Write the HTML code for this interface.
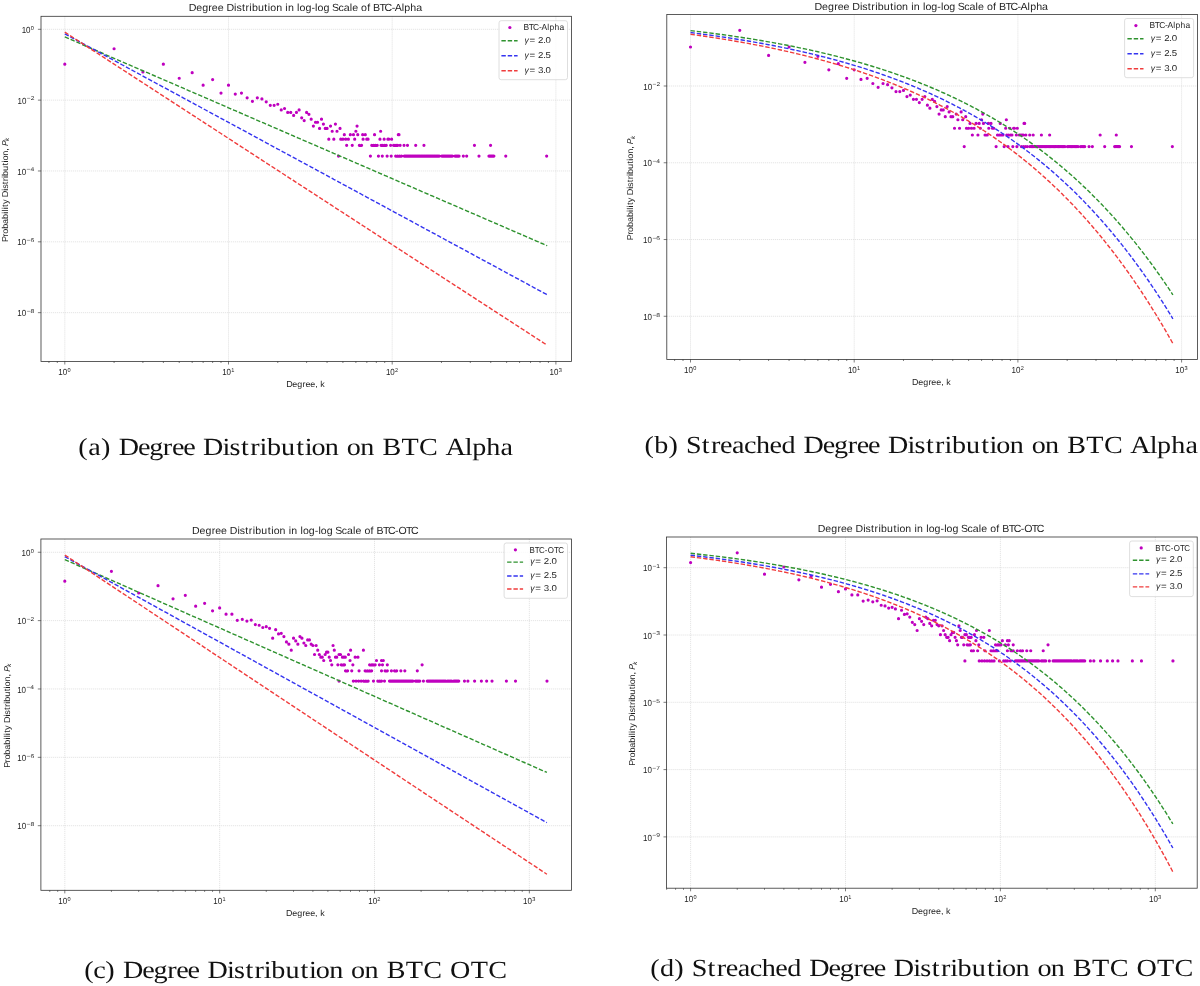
<!DOCTYPE html>
<html><head><meta charset="utf-8"><title>Degree Distribution Figures</title>
<style>html,body{margin:0;padding:0;background:#fff;}body{width:1200px;height:986px;overflow:hidden;}svg{display:block;will-change:transform;}</style>
</head><body>
<svg width="1200" height="986" viewBox="0 0 1200 986" text-rendering="geometricPrecision">
<rect width="1200" height="986" fill="#fff"/>
<clipPath id="clipa"><rect x="41" y="16.3" width="530.5" height="345.1"/></clipPath>
<path d="M64.8 16.3V361.4M228.5 16.3V361.4M392.2 16.3V361.4M555.9 16.3V361.4M41 29.3H571.5M41 100.14H571.5M41 170.98H571.5M41 241.82H571.5M41 312.66H571.5" stroke="#d6d6d6" stroke-width="0.64" stroke-dasharray="1.2 0.8" fill="none"/>
<g clip-path="url(#clipa)"><path d="M63.2 64.13a1.6 1.6 0 1 0 3.2 0a1.6 1.6 0 1 0 -3.2 0M112.48 48.77a1.6 1.6 0 1 0 3.2 0a1.6 1.6 0 1 0 -3.2 0M141.3 71.91a1.6 1.6 0 1 0 3.2 0a1.6 1.6 0 1 0 -3.2 0M161.76 64.13a1.6 1.6 0 1 0 3.2 0a1.6 1.6 0 1 0 -3.2 0M177.62 78.25a1.6 1.6 0 1 0 3.2 0a1.6 1.6 0 1 0 -3.2 0M190.58 72.71a1.6 1.6 0 1 0 3.2 0a1.6 1.6 0 1 0 -3.2 0M201.54 85.19a1.6 1.6 0 1 0 3.2 0a1.6 1.6 0 1 0 -3.2 0M211.04 79.58a1.6 1.6 0 1 0 3.2 0a1.6 1.6 0 1 0 -3.2 0M219.41 93.04a1.6 1.6 0 1 0 3.2 0a1.6 1.6 0 1 0 -3.2 0M226.9 85.19a1.6 1.6 0 1 0 3.2 0a1.6 1.6 0 1 0 -3.2 0M233.68 94.11a1.6 1.6 0 1 0 3.2 0a1.6 1.6 0 1 0 -3.2 0M239.86 93.04a1.6 1.6 0 1 0 3.2 0a1.6 1.6 0 1 0 -3.2 0M245.55 97.82a1.6 1.6 0 1 0 3.2 0a1.6 1.6 0 1 0 -3.2 0M250.82 101.34a1.6 1.6 0 1 0 3.2 0a1.6 1.6 0 1 0 -3.2 0M255.73 97.82a1.6 1.6 0 1 0 3.2 0a1.6 1.6 0 1 0 -3.2 0M260.31 98.9a1.6 1.6 0 1 0 3.2 0a1.6 1.6 0 1 0 -3.2 0M264.62 101.78a1.6 1.6 0 1 0 3.2 0a1.6 1.6 0 1 0 -3.2 0M268.69 105.33a1.6 1.6 0 1 0 3.2 0a1.6 1.6 0 1 0 -3.2 0M272.53 105.33a1.6 1.6 0 1 0 3.2 0a1.6 1.6 0 1 0 -3.2 0M276.18 104.23a1.6 1.6 0 1 0 3.2 0a1.6 1.6 0 1 0 -3.2 0M279.65 109.94a1.6 1.6 0 1 0 3.2 0a1.6 1.6 0 1 0 -3.2 0M282.95 108.48a1.6 1.6 0 1 0 3.2 0a1.6 1.6 0 1 0 -3.2 0M286.11 112.44a1.6 1.6 0 1 0 3.2 0a1.6 1.6 0 1 0 -3.2 0M289.14 112.44a1.6 1.6 0 1 0 3.2 0a1.6 1.6 0 1 0 -3.2 0M292.04 115.43a1.6 1.6 0 1 0 3.2 0a1.6 1.6 0 1 0 -3.2 0M294.83 112.44a1.6 1.6 0 1 0 3.2 0a1.6 1.6 0 1 0 -3.2 0M297.51 109.94a1.6 1.6 0 1 0 3.2 0a1.6 1.6 0 1 0 -3.2 0M300.1 117.8a1.6 1.6 0 1 0 3.2 0a1.6 1.6 0 1 0 -3.2 0M302.59 120.61a1.6 1.6 0 1 0 3.2 0a1.6 1.6 0 1 0 -3.2 0M305 112.44a1.6 1.6 0 1 0 3.2 0a1.6 1.6 0 1 0 -3.2 0M307.34 114.37a1.6 1.6 0 1 0 3.2 0a1.6 1.6 0 1 0 -3.2 0M309.59 119.14a1.6 1.6 0 1 0 3.2 0a1.6 1.6 0 1 0 -3.2 0M311.78 126.09a1.6 1.6 0 1 0 3.2 0a1.6 1.6 0 1 0 -3.2 0M313.9 122.23a1.6 1.6 0 1 0 3.2 0a1.6 1.6 0 1 0 -3.2 0M315.96 122.23a1.6 1.6 0 1 0 3.2 0a1.6 1.6 0 1 0 -3.2 0M317.97 128.46a1.6 1.6 0 1 0 3.2 0a1.6 1.6 0 1 0 -3.2 0M319.91 119.14a1.6 1.6 0 1 0 3.2 0a1.6 1.6 0 1 0 -3.2 0M321.81 124.04a1.6 1.6 0 1 0 3.2 0a1.6 1.6 0 1 0 -3.2 0M323.66 128.46a1.6 1.6 0 1 0 3.2 0a1.6 1.6 0 1 0 -3.2 0M325.46 128.46a1.6 1.6 0 1 0 3.2 0a1.6 1.6 0 1 0 -3.2 0M327.21 139.13a1.6 1.6 0 1 0 3.2 0a1.6 1.6 0 1 0 -3.2 0M328.93 126.09a1.6 1.6 0 1 0 3.2 0a1.6 1.6 0 1 0 -3.2 0M330.6 131.27a1.6 1.6 0 1 0 3.2 0a1.6 1.6 0 1 0 -3.2 0M332.23 139.13a1.6 1.6 0 1 0 3.2 0a1.6 1.6 0 1 0 -3.2 0M333.83 124.04a1.6 1.6 0 1 0 3.2 0a1.6 1.6 0 1 0 -3.2 0M335.39 131.27a1.6 1.6 0 1 0 3.2 0a1.6 1.6 0 1 0 -3.2 0M336.92 156.03a1.6 1.6 0 1 0 3.2 0a1.6 1.6 0 1 0 -3.2 0M338.42 128.46a1.6 1.6 0 1 0 3.2 0a1.6 1.6 0 1 0 -3.2 0M339.16 139.13a1.6 1.6 0 1 0 3.2 0a1.6 1.6 0 1 0 -3.2 0M341.32 139.13a1.6 1.6 0 1 0 3.2 0a1.6 1.6 0 1 0 -3.2 0M342.73 134.7a1.6 1.6 0 1 0 3.2 0a1.6 1.6 0 1 0 -3.2 0M344.11 139.13a1.6 1.6 0 1 0 3.2 0a1.6 1.6 0 1 0 -3.2 0M345.06 145.36a1.6 1.6 0 1 0 3.2 0a1.6 1.6 0 1 0 -3.2 0M346.79 139.13a1.6 1.6 0 1 0 3.2 0a1.6 1.6 0 1 0 -3.2 0M348.74 134.7a1.6 1.6 0 1 0 3.2 0a1.6 1.6 0 1 0 -3.2 0M350.64 145.36a1.6 1.6 0 1 0 3.2 0a1.6 1.6 0 1 0 -3.2 0M351.87 134.7a1.6 1.6 0 1 0 3.2 0a1.6 1.6 0 1 0 -3.2 0M353.09 139.13a1.6 1.6 0 1 0 3.2 0a1.6 1.6 0 1 0 -3.2 0M354.28 131.27a1.6 1.6 0 1 0 3.2 0a1.6 1.6 0 1 0 -3.2 0M355.46 126.09a1.6 1.6 0 1 0 3.2 0a1.6 1.6 0 1 0 -3.2 0M356.15 134.7a1.6 1.6 0 1 0 3.2 0a1.6 1.6 0 1 0 -3.2 0M357.75 145.36a1.6 1.6 0 1 0 3.2 0a1.6 1.6 0 1 0 -3.2 0M359.97 145.36a1.6 1.6 0 1 0 3.2 0a1.6 1.6 0 1 0 -3.2 0M361.06 134.7a1.6 1.6 0 1 0 3.2 0a1.6 1.6 0 1 0 -3.2 0M361.49 139.13a1.6 1.6 0 1 0 3.2 0a1.6 1.6 0 1 0 -3.2 0M363.7 134.7a1.6 1.6 0 1 0 3.2 0a1.6 1.6 0 1 0 -3.2 0M365.14 139.13a1.6 1.6 0 1 0 3.2 0a1.6 1.6 0 1 0 -3.2 0M366.45 139.13a1.6 1.6 0 1 0 3.2 0a1.6 1.6 0 1 0 -3.2 0M368.81 156.03a1.6 1.6 0 1 0 3.2 0a1.6 1.6 0 1 0 -3.2 0M370.15 145.36a1.6 1.6 0 1 0 3.2 0a1.6 1.6 0 1 0 -3.2 0M372.02 145.36a1.6 1.6 0 1 0 3.2 0a1.6 1.6 0 1 0 -3.2 0M372.94 134.7a1.6 1.6 0 1 0 3.2 0a1.6 1.6 0 1 0 -3.2 0M373.84 145.36a1.6 1.6 0 1 0 3.2 0a1.6 1.6 0 1 0 -3.2 0M375.62 145.36a1.6 1.6 0 1 0 3.2 0a1.6 1.6 0 1 0 -3.2 0M376.84 156.03a1.6 1.6 0 1 0 3.2 0a1.6 1.6 0 1 0 -3.2 0M378.37 139.13a1.6 1.6 0 1 0 3.2 0a1.6 1.6 0 1 0 -3.2 0M379.05 131.27a1.6 1.6 0 1 0 3.2 0a1.6 1.6 0 1 0 -3.2 0M379.46 145.36a1.6 1.6 0 1 0 3.2 0a1.6 1.6 0 1 0 -3.2 0M380.7 156.03a1.6 1.6 0 1 0 3.2 0a1.6 1.6 0 1 0 -3.2 0M381.11 145.36a1.6 1.6 0 1 0 3.2 0a1.6 1.6 0 1 0 -3.2 0M382.55 139.13a1.6 1.6 0 1 0 3.2 0a1.6 1.6 0 1 0 -3.2 0M383.11 145.36a1.6 1.6 0 1 0 3.2 0a1.6 1.6 0 1 0 -3.2 0M384.67 145.36a1.6 1.6 0 1 0 3.2 0a1.6 1.6 0 1 0 -3.2 0M385.52 156.03a1.6 1.6 0 1 0 3.2 0a1.6 1.6 0 1 0 -3.2 0M386.28 139.13a1.6 1.6 0 1 0 3.2 0a1.6 1.6 0 1 0 -3.2 0M387.1 139.13a1.6 1.6 0 1 0 3.2 0a1.6 1.6 0 1 0 -3.2 0M389.02 145.36a1.6 1.6 0 1 0 3.2 0a1.6 1.6 0 1 0 -3.2 0M389.6 156.03a1.6 1.6 0 1 0 3.2 0a1.6 1.6 0 1 0 -3.2 0M390.03 139.13a1.6 1.6 0 1 0 3.2 0a1.6 1.6 0 1 0 -3.2 0M392.01 145.36a1.6 1.6 0 1 0 3.2 0a1.6 1.6 0 1 0 -3.2 0M393.39 145.36a1.6 1.6 0 1 0 3.2 0a1.6 1.6 0 1 0 -3.2 0M394.74 145.36a1.6 1.6 0 1 0 3.2 0a1.6 1.6 0 1 0 -3.2 0M396.07 145.36a1.6 1.6 0 1 0 3.2 0a1.6 1.6 0 1 0 -3.2 0M396.73 134.7a1.6 1.6 0 1 0 3.2 0a1.6 1.6 0 1 0 -3.2 0M397.38 134.7a1.6 1.6 0 1 0 3.2 0a1.6 1.6 0 1 0 -3.2 0M398.53 145.36a1.6 1.6 0 1 0 3.2 0a1.6 1.6 0 1 0 -3.2 0M402.43 145.36a1.6 1.6 0 1 0 3.2 0a1.6 1.6 0 1 0 -3.2 0M405.89 145.36a1.6 1.6 0 1 0 3.2 0a1.6 1.6 0 1 0 -3.2 0M414.11 145.36a1.6 1.6 0 1 0 3.2 0a1.6 1.6 0 1 0 -3.2 0M422.35 145.36a1.6 1.6 0 1 0 3.2 0a1.6 1.6 0 1 0 -3.2 0M472.85 145.36a1.6 1.6 0 1 0 3.2 0a1.6 1.6 0 1 0 -3.2 0M488.98 145.36a1.6 1.6 0 1 0 3.2 0a1.6 1.6 0 1 0 -3.2 0M394.07 156.03a1.6 1.6 0 1 0 3.2 0a1.6 1.6 0 1 0 -3.2 0M396.07 156.03a1.6 1.6 0 1 0 3.2 0a1.6 1.6 0 1 0 -3.2 0M398.02 156.03a1.6 1.6 0 1 0 3.2 0a1.6 1.6 0 1 0 -3.2 0M399.92 156.03a1.6 1.6 0 1 0 3.2 0a1.6 1.6 0 1 0 -3.2 0M402.67 156.03a1.6 1.6 0 1 0 3.2 0a1.6 1.6 0 1 0 -3.2 0M403.96 156.03a1.6 1.6 0 1 0 3.2 0a1.6 1.6 0 1 0 -3.2 0M405.26 156.03a1.6 1.6 0 1 0 3.2 0a1.6 1.6 0 1 0 -3.2 0M406.55 156.03a1.6 1.6 0 1 0 3.2 0a1.6 1.6 0 1 0 -3.2 0M407.85 156.03a1.6 1.6 0 1 0 3.2 0a1.6 1.6 0 1 0 -3.2 0M409.14 156.03a1.6 1.6 0 1 0 3.2 0a1.6 1.6 0 1 0 -3.2 0M410.44 156.03a1.6 1.6 0 1 0 3.2 0a1.6 1.6 0 1 0 -3.2 0M411.73 156.03a1.6 1.6 0 1 0 3.2 0a1.6 1.6 0 1 0 -3.2 0M413.03 156.03a1.6 1.6 0 1 0 3.2 0a1.6 1.6 0 1 0 -3.2 0M414.33 156.03a1.6 1.6 0 1 0 3.2 0a1.6 1.6 0 1 0 -3.2 0M415.62 156.03a1.6 1.6 0 1 0 3.2 0a1.6 1.6 0 1 0 -3.2 0M416.92 156.03a1.6 1.6 0 1 0 3.2 0a1.6 1.6 0 1 0 -3.2 0M418.21 156.03a1.6 1.6 0 1 0 3.2 0a1.6 1.6 0 1 0 -3.2 0M419.51 156.03a1.6 1.6 0 1 0 3.2 0a1.6 1.6 0 1 0 -3.2 0M420.8 156.03a1.6 1.6 0 1 0 3.2 0a1.6 1.6 0 1 0 -3.2 0M422.1 156.03a1.6 1.6 0 1 0 3.2 0a1.6 1.6 0 1 0 -3.2 0M423.39 156.03a1.6 1.6 0 1 0 3.2 0a1.6 1.6 0 1 0 -3.2 0M424.69 156.03a1.6 1.6 0 1 0 3.2 0a1.6 1.6 0 1 0 -3.2 0M425.98 156.03a1.6 1.6 0 1 0 3.2 0a1.6 1.6 0 1 0 -3.2 0M427.28 156.03a1.6 1.6 0 1 0 3.2 0a1.6 1.6 0 1 0 -3.2 0M428.57 156.03a1.6 1.6 0 1 0 3.2 0a1.6 1.6 0 1 0 -3.2 0M429.87 156.03a1.6 1.6 0 1 0 3.2 0a1.6 1.6 0 1 0 -3.2 0M431.16 156.03a1.6 1.6 0 1 0 3.2 0a1.6 1.6 0 1 0 -3.2 0M432.46 156.03a1.6 1.6 0 1 0 3.2 0a1.6 1.6 0 1 0 -3.2 0M433.75 156.03a1.6 1.6 0 1 0 3.2 0a1.6 1.6 0 1 0 -3.2 0M435.05 156.03a1.6 1.6 0 1 0 3.2 0a1.6 1.6 0 1 0 -3.2 0M436.34 156.03a1.6 1.6 0 1 0 3.2 0a1.6 1.6 0 1 0 -3.2 0M437.64 156.03a1.6 1.6 0 1 0 3.2 0a1.6 1.6 0 1 0 -3.2 0M440.23 156.03a1.6 1.6 0 1 0 3.2 0a1.6 1.6 0 1 0 -3.2 0M441.55 156.03a1.6 1.6 0 1 0 3.2 0a1.6 1.6 0 1 0 -3.2 0M442.86 156.03a1.6 1.6 0 1 0 3.2 0a1.6 1.6 0 1 0 -3.2 0M444.17 156.03a1.6 1.6 0 1 0 3.2 0a1.6 1.6 0 1 0 -3.2 0M445.48 156.03a1.6 1.6 0 1 0 3.2 0a1.6 1.6 0 1 0 -3.2 0M446.8 156.03a1.6 1.6 0 1 0 3.2 0a1.6 1.6 0 1 0 -3.2 0M448.11 156.03a1.6 1.6 0 1 0 3.2 0a1.6 1.6 0 1 0 -3.2 0M449.42 156.03a1.6 1.6 0 1 0 3.2 0a1.6 1.6 0 1 0 -3.2 0M450.74 156.03a1.6 1.6 0 1 0 3.2 0a1.6 1.6 0 1 0 -3.2 0M453.43 156.03a1.6 1.6 0 1 0 3.2 0a1.6 1.6 0 1 0 -3.2 0M454.76 156.03a1.6 1.6 0 1 0 3.2 0a1.6 1.6 0 1 0 -3.2 0M456.1 156.03a1.6 1.6 0 1 0 3.2 0a1.6 1.6 0 1 0 -3.2 0M457.43 156.03a1.6 1.6 0 1 0 3.2 0a1.6 1.6 0 1 0 -3.2 0M461.74 156.03a1.6 1.6 0 1 0 3.2 0a1.6 1.6 0 1 0 -3.2 0M465.06 156.03a1.6 1.6 0 1 0 3.2 0a1.6 1.6 0 1 0 -3.2 0M477.39 156.03a1.6 1.6 0 1 0 3.2 0a1.6 1.6 0 1 0 -3.2 0M487.36 156.03a1.6 1.6 0 1 0 3.2 0a1.6 1.6 0 1 0 -3.2 0M488.59 156.03a1.6 1.6 0 1 0 3.2 0a1.6 1.6 0 1 0 -3.2 0M489.82 156.03a1.6 1.6 0 1 0 3.2 0a1.6 1.6 0 1 0 -3.2 0M491.05 156.03a1.6 1.6 0 1 0 3.2 0a1.6 1.6 0 1 0 -3.2 0M492.29 156.03a1.6 1.6 0 1 0 3.2 0a1.6 1.6 0 1 0 -3.2 0M504.16 156.03a1.6 1.6 0 1 0 3.2 0a1.6 1.6 0 1 0 -3.2 0M545.05 156.03a1.6 1.6 0 1 0 3.2 0a1.6 1.6 0 1 0 -3.2 0" fill="#bf00bf"/><polyline points="64.8,36.96 80.66,43.82 93.63,49.43 104.59,54.17 114.08,58.28 122.45,61.9 129.94,65.15 136.72,68.08 142.9,70.76 148.6,73.22 153.86,75.5 158.77,77.62 163.36,79.61 167.67,81.47 171.73,83.23 175.57,84.89 179.22,86.47 182.69,87.97 186,89.4 189.16,90.77 192.18,92.08 195.09,93.34 197.87,94.54 200.56,95.7 203.14,96.82 205.64,97.9 208.05,98.95 210.38,99.95 212.64,100.93 214.82,101.88 216.95,102.8 219.01,103.69 221.01,104.55 222.96,105.4 224.85,106.22 226.7,107.02 228.5,107.8 230.26,108.56 231.97,109.3 233.64,110.02 235.28,110.73 236.87,111.42 238.44,112.1 239.97,112.76 241.46,113.41 242.93,114.04 244.36,114.66 245.77,115.27 247.15,115.87 248.51,116.45 249.84,117.03 251.14,117.59 252.42,118.15 253.68,118.69 254.92,119.23 256.13,119.75 257.33,120.27 258.5,120.78 259.66,121.28 260.79,121.77 261.91,122.26 263.02,122.73 264.1,123.2 265.17,123.67 266.22,124.12 267.26,124.57 268.29,125.01 269.29,125.45 270.29,125.88 271.27,126.3 272.24,126.72 273.19,127.14 274.13,127.54 275.06,127.95 275.98,128.34 276.88,128.73 277.78,129.12 278.66,129.5 279.53,129.88 280.4,130.25 281.25,130.62 282.09,130.99 282.92,131.35 283.74,131.7 284.55,132.05 285.36,132.4 286.15,132.74 286.94,133.08 287.71,133.42 288.48,133.75 289.24,134.08 290,134.41 290.74,134.73 291.48,135.05 292.21,135.36 292.93,135.68 293.64,135.99 294.35,136.29 295.05,136.6 295.74,136.9 296.43,137.19 297.11,137.49 297.79,137.78 298.45,138.07 299.11,138.35 299.77,138.64 300.42,138.92 301.06,139.2 301.7,139.47 302.33,139.75 302.96,140.02 303.58,140.29 304.19,140.55 304.8,140.82 305.41,141.08 306.01,141.34 306.6,141.6 307.19,141.85 307.78,142.1 308.36,142.35 308.94,142.6 309.51,142.85 310.07,143.1 310.64,143.34 311.19,143.58 311.75,143.82 312.3,144.06 312.84,144.29 313.38,144.53 313.92,144.76 314.45,144.99 314.98,145.22 315.5,145.45 316.02,145.67 316.54,145.9 317.05,146.12 317.56,146.34 318.07,146.56 318.57,146.77 319.07,146.99 319.57,147.2 320.06,147.42 320.55,147.63 321.03,147.84 321.51,148.05 321.99,148.25 322.47,148.46 322.94,148.66 323.41,148.87 323.88,149.07 324.34,149.27 324.8,149.47 325.26,149.67 325.71,149.86 326.16,150.06 326.61,150.25 327.06,150.45 327.5,150.64 327.94,150.83 328.38,151.02 328.81,151.21 329.24,151.39 329.67,151.58 330.1,151.76 330.53,151.95 330.95,152.13 331.37,152.31 331.78,152.49 332.2,152.67 332.61,152.85 333.02,153.03 333.43,153.2 333.83,153.38 334.24,153.55 334.64,153.73 335.03,153.9 335.43,154.07 335.82,154.24 336.22,154.41 336.61,154.58 336.99,154.75 337.38,154.91 337.76,155.08 338.14,155.24 338.52,155.41 338.9,155.57 339.27,155.73 339.65,155.89 340.02,156.06 340.39,156.21 340.76,156.37 341.12,156.53 341.49,156.69 341.85,156.85 342.21,157 342.57,157.16 342.92,157.31 343.95,157.76 344.97,158.2 346,158.64 347.03,159.09 348.05,159.53 349.08,159.98 350.11,160.42 351.13,160.87 352.16,161.31 353.19,161.75 354.21,162.2 355.24,162.64 356.27,163.09 357.29,163.53 358.32,163.97 359.35,164.42 360.37,164.86 361.4,165.31 362.43,165.75 363.45,166.2 364.48,166.64 365.51,167.08 366.53,167.53 367.56,167.97 368.59,168.42 369.61,168.86 370.64,169.31 371.67,169.75 372.69,170.19 373.72,170.64 374.75,171.08 375.77,171.53 376.8,171.97 377.83,172.42 378.85,172.86 379.88,173.3 380.91,173.75 381.93,174.19 382.96,174.64 383.99,175.08 385.01,175.53 386.04,175.97 387.07,176.41 388.09,176.86 389.12,177.3 390.14,177.75 391.17,178.19 392.2,178.64 393.22,179.08 394.25,179.52 395.28,179.97 396.3,180.41 397.33,180.86 398.36,181.3 399.38,181.74 400.41,182.19 401.44,182.63 402.46,183.08 403.49,183.52 404.52,183.97 405.54,184.41 406.57,184.85 407.6,185.3 408.62,185.74 409.65,186.19 410.68,186.63 411.7,187.08 412.73,187.52 413.76,187.96 414.78,188.41 415.81,188.85 416.84,189.3 417.86,189.74 418.89,190.19 419.92,190.63 420.94,191.07 421.97,191.52 423,191.96 424.02,192.41 425.05,192.85 426.08,193.3 427.1,193.74 428.13,194.18 429.16,194.63 430.18,195.07 431.21,195.52 432.24,195.96 433.26,196.41 434.29,196.85 435.32,197.29 436.34,197.74 437.37,198.18 438.4,198.63 439.42,199.07 440.45,199.52 441.47,199.96 442.5,200.4 443.53,200.85 444.55,201.29 445.58,201.74 446.61,202.18 447.63,202.62 448.66,203.07 449.69,203.51 450.71,203.96 451.74,204.4 452.77,204.85 453.79,205.29 454.82,205.73 455.85,206.18 456.87,206.62 457.9,207.07 458.93,207.51 459.95,207.96 460.98,208.4 462.01,208.84 463.03,209.29 464.06,209.73 465.09,210.18 466.11,210.62 467.14,211.07 468.17,211.51 469.19,211.95 470.22,212.4 471.25,212.84 472.27,213.29 473.3,213.73 474.33,214.18 475.35,214.62 476.38,215.06 477.41,215.51 478.43,215.95 479.46,216.4 480.49,216.84 481.51,217.29 482.54,217.73 483.57,218.17 484.59,218.62 485.62,219.06 486.65,219.51 487.67,219.95 488.7,220.39 489.73,220.84 490.75,221.28 491.78,221.73 492.8,222.17 493.83,222.62 494.86,223.06 495.88,223.5 496.91,223.95 497.94,224.39 498.96,224.84 499.99,225.28 501.02,225.73 502.04,226.17 503.07,226.61 504.1,227.06 505.12,227.5 506.15,227.95 507.18,228.39 508.2,228.84 509.23,229.28 510.26,229.72 511.28,230.17 512.31,230.61 513.34,231.06 514.36,231.5 515.39,231.95 516.42,232.39 517.44,232.83 518.47,233.28 519.5,233.72 520.52,234.17 521.55,234.61 522.58,235.06 523.6,235.5 524.63,235.94 525.66,236.39 526.68,236.83 527.71,237.28 528.74,237.72 529.76,238.17 530.79,238.61 531.82,239.05 532.84,239.5 533.87,239.94 534.9,240.39 535.92,240.83 536.95,241.27 537.98,241.72 539,242.16 540.03,242.61 541.06,243.05 542.08,243.5 543.11,243.94 544.13,244.38 545.16,244.83 546.19,245.27 547.21,245.72" fill="none" stroke="#2e922e" stroke-width="1.4" stroke-dasharray="4.41 1.91"/><polyline points="64.8,33.82 80.66,42.4 93.63,49.41 104.59,55.34 114.08,60.48 122.45,65 129.94,69.06 136.72,72.72 142.9,76.07 148.6,79.15 153.86,82 158.77,84.65 163.36,87.13 167.67,89.46 171.73,91.66 175.57,93.74 179.22,95.71 182.69,97.59 186,99.38 189.16,101.09 192.18,102.72 195.09,104.29 197.87,105.8 200.56,107.25 203.14,108.65 205.64,110 208.05,111.31 210.38,112.57 212.64,113.79 214.82,114.97 216.95,116.12 219.01,117.23 221.01,118.32 222.96,119.37 224.85,120.4 226.7,121.4 228.5,122.37 230.26,123.32 231.97,124.25 233.64,125.15 235.28,126.03 236.87,126.9 238.44,127.74 239.97,128.57 241.46,129.38 242.93,130.17 244.36,130.95 245.77,131.71 247.15,132.46 248.51,133.19 249.84,133.91 251.14,134.62 252.42,135.31 253.68,135.99 254.92,136.66 256.13,137.32 257.33,137.96 258.5,138.6 259.66,139.22 260.79,139.84 261.91,140.44 263.02,141.04 264.1,141.63 265.17,142.21 266.22,142.78 267.26,143.34 268.29,143.89 269.29,144.44 270.29,144.97 271.27,145.5 272.24,146.03 273.19,146.54 274.13,147.05 275.06,147.56 275.98,148.05 276.88,148.54 277.78,149.03 278.66,149.5 279.53,149.97 280.4,150.44 281.25,150.9 282.09,151.36 282.92,151.81 283.74,152.25 284.55,152.69 285.36,153.13 286.15,153.55 286.94,153.98 287.71,154.4 288.48,154.82 289.24,155.23 290,155.63 290.74,156.04 291.48,156.44 292.21,156.83 292.93,157.22 293.64,157.61 294.35,157.99 295.05,158.37 295.74,158.74 296.43,159.12 297.11,159.48 297.79,159.85 298.45,160.21 299.11,160.57 299.77,160.92 300.42,161.27 301.06,161.62 301.7,161.96 302.33,162.31 302.96,162.65 303.58,162.98 304.19,163.31 304.8,163.64 305.41,163.97 306.01,164.3 306.6,164.62 307.19,164.94 307.78,165.25 308.36,165.57 308.94,165.88 309.51,166.19 310.07,166.49 310.64,166.8 311.19,167.1 311.75,167.4 312.3,167.7 312.84,167.99 313.38,168.28 313.92,168.57 314.45,168.86 314.98,169.15 315.5,169.43 316.02,169.71 316.54,169.99 317.05,170.27 317.56,170.55 318.07,170.82 318.57,171.09 319.07,171.36 319.57,171.63 320.06,171.9 320.55,172.16 321.03,172.42 321.51,172.68 321.99,172.94 322.47,173.2 322.94,173.46 323.41,173.71 323.88,173.96 324.34,174.21 324.8,174.46 325.26,174.71 325.71,174.95 326.16,175.2 326.61,175.44 327.06,175.68 327.5,175.92 327.94,176.16 328.38,176.4 328.81,176.63 329.24,176.86 329.67,177.1 330.1,177.33 330.53,177.56 330.95,177.79 331.37,178.01 331.78,178.24 332.2,178.46 332.61,178.69 333.02,178.91 333.43,179.13 333.83,179.35 334.24,179.56 334.64,179.78 335.03,180 335.43,180.21 335.82,180.42 336.22,180.64 336.61,180.85 336.99,181.06 337.38,181.26 337.76,181.47 338.14,181.68 338.52,181.88 338.9,182.09 339.27,182.29 339.65,182.49 340.02,182.69 340.39,182.89 340.76,183.09 341.12,183.29 341.49,183.49 341.85,183.68 342.21,183.88 342.57,184.07 342.92,184.26 343.95,184.82 344.97,185.37 346,185.93 347.03,186.48 348.05,187.04 349.08,187.59 350.11,188.15 351.13,188.71 352.16,189.26 353.19,189.82 354.21,190.37 355.24,190.93 356.27,191.48 357.29,192.04 358.32,192.59 359.35,193.15 360.37,193.7 361.4,194.26 362.43,194.81 363.45,195.37 364.48,195.92 365.51,196.48 366.53,197.04 367.56,197.59 368.59,198.15 369.61,198.7 370.64,199.26 371.67,199.81 372.69,200.37 373.72,200.92 374.75,201.48 375.77,202.03 376.8,202.59 377.83,203.14 378.85,203.7 379.88,204.25 380.91,204.81 381.93,205.36 382.96,205.92 383.99,206.48 385.01,207.03 386.04,207.59 387.07,208.14 388.09,208.7 389.12,209.25 390.14,209.81 391.17,210.36 392.2,210.92 393.22,211.47 394.25,212.03 395.28,212.58 396.3,213.14 397.33,213.69 398.36,214.25 399.38,214.81 400.41,215.36 401.44,215.92 402.46,216.47 403.49,217.03 404.52,217.58 405.54,218.14 406.57,218.69 407.6,219.25 408.62,219.8 409.65,220.36 410.68,220.91 411.7,221.47 412.73,222.02 413.76,222.58 414.78,223.14 415.81,223.69 416.84,224.25 417.86,224.8 418.89,225.36 419.92,225.91 420.94,226.47 421.97,227.02 423,227.58 424.02,228.13 425.05,228.69 426.08,229.24 427.1,229.8 428.13,230.35 429.16,230.91 430.18,231.46 431.21,232.02 432.24,232.58 433.26,233.13 434.29,233.69 435.32,234.24 436.34,234.8 437.37,235.35 438.4,235.91 439.42,236.46 440.45,237.02 441.47,237.57 442.5,238.13 443.53,238.68 444.55,239.24 445.58,239.79 446.61,240.35 447.63,240.91 448.66,241.46 449.69,242.02 450.71,242.57 451.74,243.13 452.77,243.68 453.79,244.24 454.82,244.79 455.85,245.35 456.87,245.9 457.9,246.46 458.93,247.01 459.95,247.57 460.98,248.12 462.01,248.68 463.03,249.23 464.06,249.79 465.09,250.35 466.11,250.9 467.14,251.46 468.17,252.01 469.19,252.57 470.22,253.12 471.25,253.68 472.27,254.23 473.3,254.79 474.33,255.34 475.35,255.9 476.38,256.45 477.41,257.01 478.43,257.56 479.46,258.12 480.49,258.68 481.51,259.23 482.54,259.79 483.57,260.34 484.59,260.9 485.62,261.45 486.65,262.01 487.67,262.56 488.7,263.12 489.73,263.67 490.75,264.23 491.78,264.78 492.8,265.34 493.83,265.89 494.86,266.45 495.88,267.01 496.91,267.56 497.94,268.12 498.96,268.67 499.99,269.23 501.02,269.78 502.04,270.34 503.07,270.89 504.1,271.45 505.12,272 506.15,272.56 507.18,273.11 508.2,273.67 509.23,274.22 510.26,274.78 511.28,275.33 512.31,275.89 513.34,276.45 514.36,277 515.39,277.56 516.42,278.11 517.44,278.67 518.47,279.22 519.5,279.78 520.52,280.33 521.55,280.89 522.58,281.44 523.6,282 524.63,282.55 525.66,283.11 526.68,283.66 527.71,284.22 528.74,284.78 529.76,285.33 530.79,285.89 531.82,286.44 532.84,287 533.87,287.55 534.9,288.11 535.92,288.66 536.95,289.22 537.98,289.77 539,290.33 540.03,290.88 541.06,291.44 542.08,291.99 543.11,292.55 544.13,293.1 545.16,293.66 546.19,294.22 547.21,294.77" fill="none" stroke="#3434f0" stroke-width="1.4" stroke-dasharray="4.41 1.91"/><polyline points="64.8,32.13 80.66,42.43 93.63,50.84 104.59,57.96 114.08,64.12 122.45,69.55 129.94,74.42 136.72,78.81 142.9,82.83 148.6,86.52 153.86,89.94 158.77,93.13 163.36,96.11 167.67,98.9 171.73,101.54 175.57,104.04 179.22,106.4 182.69,108.66 186,110.8 189.16,112.85 192.18,114.82 195.09,116.7 197.87,118.51 200.56,120.25 203.14,121.93 205.64,123.55 208.05,125.11 210.38,126.63 212.64,128.09 214.82,129.51 216.95,130.89 219.01,132.23 221.01,133.53 222.96,134.79 224.85,136.02 226.7,137.22 228.5,138.39 230.26,139.53 231.97,140.64 233.64,141.73 235.28,142.79 236.87,143.83 238.44,144.84 239.97,145.83 241.46,146.8 242.93,147.76 244.36,148.69 245.77,149.6 247.15,150.5 248.51,151.38 249.84,152.24 251.14,153.09 252.42,153.92 253.68,154.74 254.92,155.54 256.13,156.33 257.33,157.1 258.5,157.87 259.66,158.62 260.79,159.35 261.91,160.08 263.02,160.8 264.1,161.5 265.17,162.19 266.22,162.88 267.26,163.55 268.29,164.22 269.29,164.87 270.29,165.52 271.27,166.15 272.24,166.78 273.19,167.4 274.13,168.01 275.06,168.61 275.98,169.21 276.88,169.8 277.78,170.38 278.66,170.95 279.53,171.52 280.4,172.08 281.25,172.63 282.09,173.18 282.92,173.72 283.74,174.25 284.55,174.78 285.36,175.3 286.15,175.81 286.94,176.32 287.71,176.83 288.48,177.33 289.24,177.82 290,178.31 290.74,178.79 291.48,179.27 292.21,179.74 292.93,180.21 293.64,180.68 294.35,181.14 295.05,181.59 295.74,182.04 296.43,182.49 297.11,182.93 297.79,183.37 298.45,183.8 299.11,184.23 299.77,184.65 300.42,185.07 301.06,185.49 301.7,185.91 302.33,186.32 302.96,186.72 303.58,187.13 304.19,187.53 304.8,187.92 305.41,188.31 306.01,188.7 306.6,189.09 307.19,189.47 307.78,189.85 308.36,190.23 308.94,190.6 309.51,190.97 310.07,191.34 310.64,191.71 311.19,192.07 311.75,192.43 312.3,192.78 312.84,193.14 313.38,193.49 313.92,193.84 314.45,194.18 314.98,194.53 315.5,194.87 316.02,195.2 316.54,195.54 317.05,195.87 317.56,196.2 318.07,196.53 318.57,196.86 319.07,197.18 319.57,197.5 320.06,197.82 320.55,198.14 321.03,198.46 321.51,198.77 321.99,199.08 322.47,199.39 322.94,199.69 323.41,200 323.88,200.3 324.34,200.6 324.8,200.9 325.26,201.2 325.71,201.49 326.16,201.79 326.61,202.08 327.06,202.37 327.5,202.65 327.94,202.94 328.38,203.22 328.81,203.51 329.24,203.79 329.67,204.06 330.1,204.34 330.53,204.62 330.95,204.89 331.37,205.16 331.78,205.43 332.2,205.7 332.61,205.97 333.02,206.24 333.43,206.5 333.83,206.76 334.24,207.03 334.64,207.29 335.03,207.54 335.43,207.8 335.82,208.06 336.22,208.31 336.61,208.56 336.99,208.82 337.38,209.07 337.76,209.31 338.14,209.56 338.52,209.81 338.9,210.05 339.27,210.3 339.65,210.54 340.02,210.78 340.39,211.02 340.76,211.26 341.12,211.5 341.49,211.73 341.85,211.97 342.21,212.2 342.57,212.43 342.92,212.66 343.95,213.33 344.97,214 346,214.66 347.03,215.33 348.05,216 349.08,216.66 350.11,217.33 351.13,217.99 352.16,218.66 353.19,219.33 354.21,219.99 355.24,220.66 356.27,221.33 357.29,221.99 358.32,222.66 359.35,223.33 360.37,223.99 361.4,224.66 362.43,225.32 363.45,225.99 364.48,226.66 365.51,227.32 366.53,227.99 367.56,228.66 368.59,229.32 369.61,229.99 370.64,230.66 371.67,231.32 372.69,231.99 373.72,232.65 374.75,233.32 375.77,233.99 376.8,234.65 377.83,235.32 378.85,235.99 379.88,236.65 380.91,237.32 381.93,237.99 382.96,238.65 383.99,239.32 385.01,239.99 386.04,240.65 387.07,241.32 388.09,241.98 389.12,242.65 390.14,243.32 391.17,243.98 392.2,244.65 393.22,245.32 394.25,245.98 395.28,246.65 396.3,247.32 397.33,247.98 398.36,248.65 399.38,249.31 400.41,249.98 401.44,250.65 402.46,251.31 403.49,251.98 404.52,252.65 405.54,253.31 406.57,253.98 407.6,254.65 408.62,255.31 409.65,255.98 410.68,256.64 411.7,257.31 412.73,257.98 413.76,258.64 414.78,259.31 415.81,259.98 416.84,260.64 417.86,261.31 418.89,261.98 419.92,262.64 420.94,263.31 421.97,263.97 423,264.64 424.02,265.31 425.05,265.97 426.08,266.64 427.1,267.31 428.13,267.97 429.16,268.64 430.18,269.31 431.21,269.97 432.24,270.64 433.26,271.3 434.29,271.97 435.32,272.64 436.34,273.3 437.37,273.97 438.4,274.64 439.42,275.3 440.45,275.97 441.47,276.64 442.5,277.3 443.53,277.97 444.55,278.64 445.58,279.3 446.61,279.97 447.63,280.63 448.66,281.3 449.69,281.97 450.71,282.63 451.74,283.3 452.77,283.97 453.79,284.63 454.82,285.3 455.85,285.97 456.87,286.63 457.9,287.3 458.93,287.96 459.95,288.63 460.98,289.3 462.01,289.96 463.03,290.63 464.06,291.3 465.09,291.96 466.11,292.63 467.14,293.3 468.17,293.96 469.19,294.63 470.22,295.29 471.25,295.96 472.27,296.63 473.3,297.29 474.33,297.96 475.35,298.63 476.38,299.29 477.41,299.96 478.43,300.63 479.46,301.29 480.49,301.96 481.51,302.62 482.54,303.29 483.57,303.96 484.59,304.62 485.62,305.29 486.65,305.96 487.67,306.62 488.7,307.29 489.73,307.96 490.75,308.62 491.78,309.29 492.8,309.95 493.83,310.62 494.86,311.29 495.88,311.95 496.91,312.62 497.94,313.29 498.96,313.95 499.99,314.62 501.02,315.29 502.04,315.95 503.07,316.62 504.1,317.29 505.12,317.95 506.15,318.62 507.18,319.28 508.2,319.95 509.23,320.62 510.26,321.28 511.28,321.95 512.31,322.62 513.34,323.28 514.36,323.95 515.39,324.62 516.42,325.28 517.44,325.95 518.47,326.61 519.5,327.28 520.52,327.95 521.55,328.61 522.58,329.28 523.6,329.95 524.63,330.61 525.66,331.28 526.68,331.95 527.71,332.61 528.74,333.28 529.76,333.94 530.79,334.61 531.82,335.28 532.84,335.94 533.87,336.61 534.9,337.28 535.92,337.94 536.95,338.61 537.98,339.28 539,339.94 540.03,340.61 541.06,341.27 542.08,341.94 543.11,342.61 544.13,343.27 545.16,343.94 546.19,344.61 547.21,345.27" fill="none" stroke="#f03c3c" stroke-width="1.4" stroke-dasharray="4.41 1.91"/></g>
<rect x="41" y="16.3" width="530.5" height="345.1" fill="none" stroke="#333" stroke-width="0.8"/>
<path d="M48.94 361.4v1.6M57.31 361.4v1.6M64.8 361.4v3.1M114.08 361.4v1.6M142.9 361.4v1.6M163.36 361.4v1.6M179.22 361.4v1.6M192.18 361.4v1.6M203.14 361.4v1.6M212.64 361.4v1.6M221.01 361.4v1.6M228.5 361.4v3.1M277.78 361.4v1.6M306.6 361.4v1.6M327.06 361.4v1.6M342.92 361.4v1.6M355.88 361.4v1.6M366.84 361.4v1.6M376.34 361.4v1.6M384.71 361.4v1.6M392.2 361.4v3.1M441.48 361.4v1.6M470.3 361.4v1.6M490.76 361.4v1.6M506.62 361.4v1.6M519.58 361.4v1.6M530.54 361.4v1.6M540.04 361.4v1.6M548.41 361.4v1.6M555.9 361.4v3.1M41 29.3h-3.1M41 100.14h-3.1M41 170.98h-3.1M41 241.82h-3.1M41 312.66h-3.1" stroke="#333" stroke-width="0.64" fill="none"/>
<text transform="matrix(0.8998 0 0 1 0 0)" x="64.89 69.84" y="375.15" font-family="&quot;Liberation Sans&quot;, sans-serif" font-size="8.9" fill="#1e1e1e">10</text><text x="67.58" y="371.85" font-family="&quot;Liberation Sans&quot;, sans-serif" font-size="5.6" fill="#1e1e1e">0</text>
<text transform="matrix(0.8998 0 0 1 0 0)" x="246.9 251.85" y="375.15" font-family="&quot;Liberation Sans&quot;, sans-serif" font-size="8.9" fill="#1e1e1e">10</text><text x="231.35" y="371.85" font-family="&quot;Liberation Sans&quot;, sans-serif" font-size="5.6" fill="#1e1e1e">1</text>
<text transform="matrix(0.8998 0 0 1 0 0)" x="428.86 433.81" y="375.15" font-family="&quot;Liberation Sans&quot;, sans-serif" font-size="8.9" fill="#1e1e1e">10</text><text x="395.07" y="371.85" font-family="&quot;Liberation Sans&quot;, sans-serif" font-size="5.6" fill="#1e1e1e">2</text>
<text transform="matrix(0.8998 0 0 1 0 0)" x="610.74 615.69" y="375.15" font-family="&quot;Liberation Sans&quot;, sans-serif" font-size="8.9" fill="#1e1e1e">10</text><text x="558.72" y="371.85" font-family="&quot;Liberation Sans&quot;, sans-serif" font-size="5.6" fill="#1e1e1e">3</text>
<text transform="matrix(0.8998 0 0 1 0 0)" x="24.05 29" y="32.9" font-family="&quot;Liberation Sans&quot;, sans-serif" font-size="8.9" fill="#1e1e1e">10</text><text x="30.84" y="29.6" font-family="&quot;Liberation Sans&quot;, sans-serif" font-size="5.6" fill="#1e1e1e">0</text>
<text transform="matrix(0.8998 0 0 1 0 0)" x="19.42 24.37" y="103.74" font-family="&quot;Liberation Sans&quot;, sans-serif" font-size="8.9" fill="#1e1e1e">10</text><text transform="matrix(1.1960 0 0 1 0 0)" x="22.41 25.68" y="100.44" font-family="&quot;Liberation Sans&quot;, sans-serif" font-size="5.6" fill="#1e1e1e">−2</text>
<text transform="matrix(0.8998 0 0 1 0 0)" x="19.17 24.12" y="174.58" font-family="&quot;Liberation Sans&quot;, sans-serif" font-size="8.9" fill="#1e1e1e">10</text><text transform="matrix(1.1960 0 0 1 0 0)" x="22.22 25.49" y="171.28" font-family="&quot;Liberation Sans&quot;, sans-serif" font-size="5.6" fill="#1e1e1e">−4</text>
<text transform="matrix(0.8998 0 0 1 0 0)" x="19.21 24.16" y="245.42" font-family="&quot;Liberation Sans&quot;, sans-serif" font-size="8.9" fill="#1e1e1e">10</text><text transform="matrix(1.1960 0 0 1 0 0)" x="22.25 25.52" y="242.12" font-family="&quot;Liberation Sans&quot;, sans-serif" font-size="5.6" fill="#1e1e1e">−6</text>
<text transform="matrix(0.8998 0 0 1 0 0)" x="19.24 24.19" y="316.26" font-family="&quot;Liberation Sans&quot;, sans-serif" font-size="8.9" fill="#1e1e1e">10</text><text transform="matrix(1.1960 0 0 1 0 0)" x="22.27 25.54" y="312.96" font-family="&quot;Liberation Sans&quot;, sans-serif" font-size="5.6" fill="#1e1e1e">−8</text>
<text transform="matrix(1.0365 0 0 1 0 0)" x="182.06 189.29 195.03 200.99 204.35 210.01 215.73 218.44 225.83 228.08 233.42 236.83 240.56 243.04 248.87 255.02 258.39 260.76 266.48 272.29 275.32 277.79 283.6 286.62 288.99 294.72 300.45 303.95 306.32 312.06 317.87 320.24 326.55 331.6 337.42 339.8 345.53 348.37 354.23 357.31 359.92 366.17 371.08 377.95 380.83 387.54 390.01 395.85 401.58" y="11.35" font-family="&quot;Liberation Sans&quot;, sans-serif" font-size="10.29" fill="#1e1e1e">Degree Distribution in log-log Scale of BTC-Alpha</text>
<text transform="matrix(1.0415 0 0 1 0 0)" x="274.74 280.73 285.5 290.44 293.22 297.92 302.67 305.09 307.56" y="387.3" font-family="&quot;Liberation Sans&quot;, sans-serif" font-size="8.58" fill="#1e1e1e">Degree, k</text>
<g transform="translate(7.6 189.15) rotate(-90)"><text transform="matrix(1.0677 0 0 1 0 0)" x="-49.57 -44.49 -41.81 -37.18 -32.54 -27.9 -23.08 -21.01 -18.95 -16.69 -13.99 -9.65 -7.51 -1.47 0.31 4.65 7.4 10.44 12.4 17.12 22.13 24.86 26.73 31.36 36.09 38.46" y="0" font-family="&quot;Liberation Sans&quot;, sans-serif" font-size="8.58" fill="#1e1e1e">Probability Distribution, </text><text x="43.13" y="0" font-family="&quot;Liberation Sans&quot;, sans-serif" font-size="8.58" font-style="italic" fill="#1e1e1e">P</text><text x="48.19" y="1.5" font-family="&quot;Liberation Sans&quot;, sans-serif" font-size="6" font-style="italic" fill="#1e1e1e">k</text></g>
<rect x="499" y="20.7" width="68.5" height="59" rx="2.2" fill="#fff" fill-opacity="0.8" stroke="#d6d6d6" stroke-width="0.8"/>
<circle cx="509.85" cy="27.5" r="1.6" fill="#bf00bf"/>
<text transform="matrix(0.9844 0 0 1 0 0)" x="531.75 537.22 541.55 547.49 550.09 555.88 558.13 563.24 568.27" y="29.5" font-family="&quot;Liberation Sans&quot;, sans-serif" font-size="8.58" fill="#1e1e1e">BTC-Alpha</text>
<line x1="501.4" y1="40.7" x2="517.6" y2="40.7" stroke="#2e922e" stroke-width="1.4" stroke-dasharray="4.41 1.91"/>
<text x="524.52" y="42.6" font-family="&quot;Liberation Sans&quot;, sans-serif" font-size="8.58" font-style="italic" fill="#1e1e1e">γ</text>
<text transform="matrix(1.1291 0 0 1 0 0)" x="468.97 474.34 476.5 481.05 483.21" y="42.6" font-family="&quot;Liberation Sans&quot;, sans-serif" font-size="8.58" fill="#1e1e1e">= 2.0</text>
<line x1="501.4" y1="55.7" x2="517.6" y2="55.7" stroke="#3434f0" stroke-width="1.4" stroke-dasharray="4.41 1.91"/>
<text x="524.52" y="57.6" font-family="&quot;Liberation Sans&quot;, sans-serif" font-size="8.58" font-style="italic" fill="#1e1e1e">γ</text>
<text transform="matrix(1.1291 0 0 1 0 0)" x="468.97 474.34 476.5 481.05 483.21" y="57.6" font-family="&quot;Liberation Sans&quot;, sans-serif" font-size="8.58" fill="#1e1e1e">= 2.5</text>
<line x1="501.4" y1="70.8" x2="517.6" y2="70.8" stroke="#f03c3c" stroke-width="1.4" stroke-dasharray="4.41 1.91"/>
<text x="524.52" y="72.7" font-family="&quot;Liberation Sans&quot;, sans-serif" font-size="8.58" font-style="italic" fill="#1e1e1e">γ</text>
<text transform="matrix(1.1291 0 0 1 0 0)" x="468.97 474.34 476.5 481.05 483.21" y="72.7" font-family="&quot;Liberation Sans&quot;, sans-serif" font-size="8.58" fill="#1e1e1e">= 3.0</text>
<clipPath id="clipb"><rect x="666.8" y="14.5" width="530.7" height="344.9"/></clipPath>
<path d="M690.5 14.5V359.4M854.2 14.5V359.4M1017.9 14.5V359.4M1181.6 14.5V359.4M666.8 86H1197.5M666.8 162.76H1197.5M666.8 239.52H1197.5M666.8 316.28H1197.5" stroke="#d6d6d6" stroke-width="0.64" stroke-dasharray="1.2 0.8" fill="none"/>
<g clip-path="url(#clipb)"><path d="M688.9 46.98a1.6 1.6 0 1 0 3.2 0a1.6 1.6 0 1 0 -3.2 0M738.18 30.34a1.6 1.6 0 1 0 3.2 0a1.6 1.6 0 1 0 -3.2 0M767 55.41a1.6 1.6 0 1 0 3.2 0a1.6 1.6 0 1 0 -3.2 0M787.46 46.98a1.6 1.6 0 1 0 3.2 0a1.6 1.6 0 1 0 -3.2 0M803.32 62.28a1.6 1.6 0 1 0 3.2 0a1.6 1.6 0 1 0 -3.2 0M816.28 56.28a1.6 1.6 0 1 0 3.2 0a1.6 1.6 0 1 0 -3.2 0M827.24 69.8a1.6 1.6 0 1 0 3.2 0a1.6 1.6 0 1 0 -3.2 0M836.74 63.72a1.6 1.6 0 1 0 3.2 0a1.6 1.6 0 1 0 -3.2 0M845.11 78.31a1.6 1.6 0 1 0 3.2 0a1.6 1.6 0 1 0 -3.2 0M852.6 69.8a1.6 1.6 0 1 0 3.2 0a1.6 1.6 0 1 0 -3.2 0M859.38 79.46a1.6 1.6 0 1 0 3.2 0a1.6 1.6 0 1 0 -3.2 0M865.56 78.31a1.6 1.6 0 1 0 3.2 0a1.6 1.6 0 1 0 -3.2 0M871.25 83.48a1.6 1.6 0 1 0 3.2 0a1.6 1.6 0 1 0 -3.2 0M876.52 87.3a1.6 1.6 0 1 0 3.2 0a1.6 1.6 0 1 0 -3.2 0M881.43 83.48a1.6 1.6 0 1 0 3.2 0a1.6 1.6 0 1 0 -3.2 0M886.01 84.66a1.6 1.6 0 1 0 3.2 0a1.6 1.6 0 1 0 -3.2 0M890.32 87.78a1.6 1.6 0 1 0 3.2 0a1.6 1.6 0 1 0 -3.2 0M894.39 91.62a1.6 1.6 0 1 0 3.2 0a1.6 1.6 0 1 0 -3.2 0M898.23 91.62a1.6 1.6 0 1 0 3.2 0a1.6 1.6 0 1 0 -3.2 0M901.88 90.43a1.6 1.6 0 1 0 3.2 0a1.6 1.6 0 1 0 -3.2 0M905.35 96.62a1.6 1.6 0 1 0 3.2 0a1.6 1.6 0 1 0 -3.2 0M908.65 95.04a1.6 1.6 0 1 0 3.2 0a1.6 1.6 0 1 0 -3.2 0M911.81 99.33a1.6 1.6 0 1 0 3.2 0a1.6 1.6 0 1 0 -3.2 0M914.84 99.33a1.6 1.6 0 1 0 3.2 0a1.6 1.6 0 1 0 -3.2 0M917.74 102.57a1.6 1.6 0 1 0 3.2 0a1.6 1.6 0 1 0 -3.2 0M920.53 99.33a1.6 1.6 0 1 0 3.2 0a1.6 1.6 0 1 0 -3.2 0M923.21 96.62a1.6 1.6 0 1 0 3.2 0a1.6 1.6 0 1 0 -3.2 0M925.8 105.14a1.6 1.6 0 1 0 3.2 0a1.6 1.6 0 1 0 -3.2 0M928.29 108.18a1.6 1.6 0 1 0 3.2 0a1.6 1.6 0 1 0 -3.2 0M930.7 99.33a1.6 1.6 0 1 0 3.2 0a1.6 1.6 0 1 0 -3.2 0M933.04 101.42a1.6 1.6 0 1 0 3.2 0a1.6 1.6 0 1 0 -3.2 0M935.29 106.59a1.6 1.6 0 1 0 3.2 0a1.6 1.6 0 1 0 -3.2 0M937.48 114.12a1.6 1.6 0 1 0 3.2 0a1.6 1.6 0 1 0 -3.2 0M939.6 109.93a1.6 1.6 0 1 0 3.2 0a1.6 1.6 0 1 0 -3.2 0M941.66 109.93a1.6 1.6 0 1 0 3.2 0a1.6 1.6 0 1 0 -3.2 0M943.67 116.69a1.6 1.6 0 1 0 3.2 0a1.6 1.6 0 1 0 -3.2 0M945.61 106.59a1.6 1.6 0 1 0 3.2 0a1.6 1.6 0 1 0 -3.2 0M947.51 111.9a1.6 1.6 0 1 0 3.2 0a1.6 1.6 0 1 0 -3.2 0M949.36 116.69a1.6 1.6 0 1 0 3.2 0a1.6 1.6 0 1 0 -3.2 0M951.16 116.69a1.6 1.6 0 1 0 3.2 0a1.6 1.6 0 1 0 -3.2 0M952.91 128.25a1.6 1.6 0 1 0 3.2 0a1.6 1.6 0 1 0 -3.2 0M954.63 114.12a1.6 1.6 0 1 0 3.2 0a1.6 1.6 0 1 0 -3.2 0M956.3 119.73a1.6 1.6 0 1 0 3.2 0a1.6 1.6 0 1 0 -3.2 0M957.93 128.25a1.6 1.6 0 1 0 3.2 0a1.6 1.6 0 1 0 -3.2 0M959.53 111.9a1.6 1.6 0 1 0 3.2 0a1.6 1.6 0 1 0 -3.2 0M961.09 119.73a1.6 1.6 0 1 0 3.2 0a1.6 1.6 0 1 0 -3.2 0M962.62 146.56a1.6 1.6 0 1 0 3.2 0a1.6 1.6 0 1 0 -3.2 0M964.12 116.69a1.6 1.6 0 1 0 3.2 0a1.6 1.6 0 1 0 -3.2 0M964.86 128.25a1.6 1.6 0 1 0 3.2 0a1.6 1.6 0 1 0 -3.2 0M967.02 128.25a1.6 1.6 0 1 0 3.2 0a1.6 1.6 0 1 0 -3.2 0M968.43 123.45a1.6 1.6 0 1 0 3.2 0a1.6 1.6 0 1 0 -3.2 0M969.81 128.25a1.6 1.6 0 1 0 3.2 0a1.6 1.6 0 1 0 -3.2 0M970.76 135a1.6 1.6 0 1 0 3.2 0a1.6 1.6 0 1 0 -3.2 0M972.49 128.25a1.6 1.6 0 1 0 3.2 0a1.6 1.6 0 1 0 -3.2 0M974.44 123.45a1.6 1.6 0 1 0 3.2 0a1.6 1.6 0 1 0 -3.2 0M976.34 135a1.6 1.6 0 1 0 3.2 0a1.6 1.6 0 1 0 -3.2 0M977.57 123.45a1.6 1.6 0 1 0 3.2 0a1.6 1.6 0 1 0 -3.2 0M978.79 128.25a1.6 1.6 0 1 0 3.2 0a1.6 1.6 0 1 0 -3.2 0M979.98 119.73a1.6 1.6 0 1 0 3.2 0a1.6 1.6 0 1 0 -3.2 0M981.16 114.12a1.6 1.6 0 1 0 3.2 0a1.6 1.6 0 1 0 -3.2 0M981.85 123.45a1.6 1.6 0 1 0 3.2 0a1.6 1.6 0 1 0 -3.2 0M983.45 135a1.6 1.6 0 1 0 3.2 0a1.6 1.6 0 1 0 -3.2 0M985.67 135a1.6 1.6 0 1 0 3.2 0a1.6 1.6 0 1 0 -3.2 0M986.76 123.45a1.6 1.6 0 1 0 3.2 0a1.6 1.6 0 1 0 -3.2 0M987.19 128.25a1.6 1.6 0 1 0 3.2 0a1.6 1.6 0 1 0 -3.2 0M989.4 123.45a1.6 1.6 0 1 0 3.2 0a1.6 1.6 0 1 0 -3.2 0M990.84 128.25a1.6 1.6 0 1 0 3.2 0a1.6 1.6 0 1 0 -3.2 0M992.15 128.25a1.6 1.6 0 1 0 3.2 0a1.6 1.6 0 1 0 -3.2 0M994.51 146.56a1.6 1.6 0 1 0 3.2 0a1.6 1.6 0 1 0 -3.2 0M995.85 135a1.6 1.6 0 1 0 3.2 0a1.6 1.6 0 1 0 -3.2 0M997.72 135a1.6 1.6 0 1 0 3.2 0a1.6 1.6 0 1 0 -3.2 0M998.64 123.45a1.6 1.6 0 1 0 3.2 0a1.6 1.6 0 1 0 -3.2 0M999.54 135a1.6 1.6 0 1 0 3.2 0a1.6 1.6 0 1 0 -3.2 0M1001.32 135a1.6 1.6 0 1 0 3.2 0a1.6 1.6 0 1 0 -3.2 0M1002.54 146.56a1.6 1.6 0 1 0 3.2 0a1.6 1.6 0 1 0 -3.2 0M1004.07 128.25a1.6 1.6 0 1 0 3.2 0a1.6 1.6 0 1 0 -3.2 0M1004.75 119.73a1.6 1.6 0 1 0 3.2 0a1.6 1.6 0 1 0 -3.2 0M1005.16 135a1.6 1.6 0 1 0 3.2 0a1.6 1.6 0 1 0 -3.2 0M1006.4 146.56a1.6 1.6 0 1 0 3.2 0a1.6 1.6 0 1 0 -3.2 0M1006.81 135a1.6 1.6 0 1 0 3.2 0a1.6 1.6 0 1 0 -3.2 0M1008.25 128.25a1.6 1.6 0 1 0 3.2 0a1.6 1.6 0 1 0 -3.2 0M1008.81 135a1.6 1.6 0 1 0 3.2 0a1.6 1.6 0 1 0 -3.2 0M1010.37 135a1.6 1.6 0 1 0 3.2 0a1.6 1.6 0 1 0 -3.2 0M1011.22 146.56a1.6 1.6 0 1 0 3.2 0a1.6 1.6 0 1 0 -3.2 0M1011.98 128.25a1.6 1.6 0 1 0 3.2 0a1.6 1.6 0 1 0 -3.2 0M1012.8 128.25a1.6 1.6 0 1 0 3.2 0a1.6 1.6 0 1 0 -3.2 0M1014.72 135a1.6 1.6 0 1 0 3.2 0a1.6 1.6 0 1 0 -3.2 0M1015.3 146.56a1.6 1.6 0 1 0 3.2 0a1.6 1.6 0 1 0 -3.2 0M1015.73 128.25a1.6 1.6 0 1 0 3.2 0a1.6 1.6 0 1 0 -3.2 0M1017.71 135a1.6 1.6 0 1 0 3.2 0a1.6 1.6 0 1 0 -3.2 0M1019.09 135a1.6 1.6 0 1 0 3.2 0a1.6 1.6 0 1 0 -3.2 0M1020.44 135a1.6 1.6 0 1 0 3.2 0a1.6 1.6 0 1 0 -3.2 0M1021.77 135a1.6 1.6 0 1 0 3.2 0a1.6 1.6 0 1 0 -3.2 0M1022.43 123.45a1.6 1.6 0 1 0 3.2 0a1.6 1.6 0 1 0 -3.2 0M1023.08 123.45a1.6 1.6 0 1 0 3.2 0a1.6 1.6 0 1 0 -3.2 0M1024.23 135a1.6 1.6 0 1 0 3.2 0a1.6 1.6 0 1 0 -3.2 0M1028.13 135a1.6 1.6 0 1 0 3.2 0a1.6 1.6 0 1 0 -3.2 0M1031.59 135a1.6 1.6 0 1 0 3.2 0a1.6 1.6 0 1 0 -3.2 0M1039.81 135a1.6 1.6 0 1 0 3.2 0a1.6 1.6 0 1 0 -3.2 0M1048.05 135a1.6 1.6 0 1 0 3.2 0a1.6 1.6 0 1 0 -3.2 0M1098.55 135a1.6 1.6 0 1 0 3.2 0a1.6 1.6 0 1 0 -3.2 0M1114.68 135a1.6 1.6 0 1 0 3.2 0a1.6 1.6 0 1 0 -3.2 0M1019.77 146.56a1.6 1.6 0 1 0 3.2 0a1.6 1.6 0 1 0 -3.2 0M1021.77 146.56a1.6 1.6 0 1 0 3.2 0a1.6 1.6 0 1 0 -3.2 0M1023.72 146.56a1.6 1.6 0 1 0 3.2 0a1.6 1.6 0 1 0 -3.2 0M1025.62 146.56a1.6 1.6 0 1 0 3.2 0a1.6 1.6 0 1 0 -3.2 0M1028.37 146.56a1.6 1.6 0 1 0 3.2 0a1.6 1.6 0 1 0 -3.2 0M1029.66 146.56a1.6 1.6 0 1 0 3.2 0a1.6 1.6 0 1 0 -3.2 0M1030.96 146.56a1.6 1.6 0 1 0 3.2 0a1.6 1.6 0 1 0 -3.2 0M1032.25 146.56a1.6 1.6 0 1 0 3.2 0a1.6 1.6 0 1 0 -3.2 0M1033.55 146.56a1.6 1.6 0 1 0 3.2 0a1.6 1.6 0 1 0 -3.2 0M1034.84 146.56a1.6 1.6 0 1 0 3.2 0a1.6 1.6 0 1 0 -3.2 0M1036.14 146.56a1.6 1.6 0 1 0 3.2 0a1.6 1.6 0 1 0 -3.2 0M1037.43 146.56a1.6 1.6 0 1 0 3.2 0a1.6 1.6 0 1 0 -3.2 0M1038.73 146.56a1.6 1.6 0 1 0 3.2 0a1.6 1.6 0 1 0 -3.2 0M1040.03 146.56a1.6 1.6 0 1 0 3.2 0a1.6 1.6 0 1 0 -3.2 0M1041.32 146.56a1.6 1.6 0 1 0 3.2 0a1.6 1.6 0 1 0 -3.2 0M1042.62 146.56a1.6 1.6 0 1 0 3.2 0a1.6 1.6 0 1 0 -3.2 0M1043.91 146.56a1.6 1.6 0 1 0 3.2 0a1.6 1.6 0 1 0 -3.2 0M1045.21 146.56a1.6 1.6 0 1 0 3.2 0a1.6 1.6 0 1 0 -3.2 0M1046.5 146.56a1.6 1.6 0 1 0 3.2 0a1.6 1.6 0 1 0 -3.2 0M1047.8 146.56a1.6 1.6 0 1 0 3.2 0a1.6 1.6 0 1 0 -3.2 0M1049.09 146.56a1.6 1.6 0 1 0 3.2 0a1.6 1.6 0 1 0 -3.2 0M1050.39 146.56a1.6 1.6 0 1 0 3.2 0a1.6 1.6 0 1 0 -3.2 0M1051.68 146.56a1.6 1.6 0 1 0 3.2 0a1.6 1.6 0 1 0 -3.2 0M1052.98 146.56a1.6 1.6 0 1 0 3.2 0a1.6 1.6 0 1 0 -3.2 0M1054.27 146.56a1.6 1.6 0 1 0 3.2 0a1.6 1.6 0 1 0 -3.2 0M1055.57 146.56a1.6 1.6 0 1 0 3.2 0a1.6 1.6 0 1 0 -3.2 0M1056.86 146.56a1.6 1.6 0 1 0 3.2 0a1.6 1.6 0 1 0 -3.2 0M1058.16 146.56a1.6 1.6 0 1 0 3.2 0a1.6 1.6 0 1 0 -3.2 0M1059.45 146.56a1.6 1.6 0 1 0 3.2 0a1.6 1.6 0 1 0 -3.2 0M1060.75 146.56a1.6 1.6 0 1 0 3.2 0a1.6 1.6 0 1 0 -3.2 0M1062.04 146.56a1.6 1.6 0 1 0 3.2 0a1.6 1.6 0 1 0 -3.2 0M1063.34 146.56a1.6 1.6 0 1 0 3.2 0a1.6 1.6 0 1 0 -3.2 0M1065.93 146.56a1.6 1.6 0 1 0 3.2 0a1.6 1.6 0 1 0 -3.2 0M1067.25 146.56a1.6 1.6 0 1 0 3.2 0a1.6 1.6 0 1 0 -3.2 0M1068.56 146.56a1.6 1.6 0 1 0 3.2 0a1.6 1.6 0 1 0 -3.2 0M1069.87 146.56a1.6 1.6 0 1 0 3.2 0a1.6 1.6 0 1 0 -3.2 0M1071.18 146.56a1.6 1.6 0 1 0 3.2 0a1.6 1.6 0 1 0 -3.2 0M1072.5 146.56a1.6 1.6 0 1 0 3.2 0a1.6 1.6 0 1 0 -3.2 0M1073.81 146.56a1.6 1.6 0 1 0 3.2 0a1.6 1.6 0 1 0 -3.2 0M1075.12 146.56a1.6 1.6 0 1 0 3.2 0a1.6 1.6 0 1 0 -3.2 0M1076.44 146.56a1.6 1.6 0 1 0 3.2 0a1.6 1.6 0 1 0 -3.2 0M1079.13 146.56a1.6 1.6 0 1 0 3.2 0a1.6 1.6 0 1 0 -3.2 0M1080.46 146.56a1.6 1.6 0 1 0 3.2 0a1.6 1.6 0 1 0 -3.2 0M1081.8 146.56a1.6 1.6 0 1 0 3.2 0a1.6 1.6 0 1 0 -3.2 0M1083.13 146.56a1.6 1.6 0 1 0 3.2 0a1.6 1.6 0 1 0 -3.2 0M1087.44 146.56a1.6 1.6 0 1 0 3.2 0a1.6 1.6 0 1 0 -3.2 0M1090.76 146.56a1.6 1.6 0 1 0 3.2 0a1.6 1.6 0 1 0 -3.2 0M1103.09 146.56a1.6 1.6 0 1 0 3.2 0a1.6 1.6 0 1 0 -3.2 0M1113.06 146.56a1.6 1.6 0 1 0 3.2 0a1.6 1.6 0 1 0 -3.2 0M1114.29 146.56a1.6 1.6 0 1 0 3.2 0a1.6 1.6 0 1 0 -3.2 0M1115.52 146.56a1.6 1.6 0 1 0 3.2 0a1.6 1.6 0 1 0 -3.2 0M1116.75 146.56a1.6 1.6 0 1 0 3.2 0a1.6 1.6 0 1 0 -3.2 0M1117.99 146.56a1.6 1.6 0 1 0 3.2 0a1.6 1.6 0 1 0 -3.2 0M1129.86 146.56a1.6 1.6 0 1 0 3.2 0a1.6 1.6 0 1 0 -3.2 0M1170.75 146.56a1.6 1.6 0 1 0 3.2 0a1.6 1.6 0 1 0 -3.2 0" fill="#bf00bf"/><polyline points="690.5,30.58 706.36,32.5 719.33,34.2 730.29,35.73 739.78,37.13 748.15,38.43 755.64,39.64 762.42,40.77 768.6,41.85 774.3,42.87 779.56,43.84 784.47,44.77 789.06,45.66 793.37,46.52 797.43,47.35 801.27,48.15 804.92,48.92 808.39,49.67 811.7,50.4 814.86,51.1 817.88,51.79 820.79,52.46 823.57,53.12 826.26,53.76 828.84,54.38 831.34,55 833.75,55.59 836.08,56.18 838.34,56.75 840.52,57.32 842.65,57.87 844.71,58.41 846.71,58.95 848.66,59.47 850.55,59.99 852.4,60.49 854.2,60.99 855.96,61.48 857.67,61.97 859.34,62.44 860.98,62.91 862.57,63.38 864.14,63.84 865.67,64.29 867.16,64.73 868.63,65.17 870.06,65.6 871.47,66.03 872.85,66.46 874.21,66.88 875.54,67.29 876.84,67.7 878.12,68.1 879.38,68.5 880.62,68.9 881.83,69.29 883.03,69.67 884.2,70.06 885.36,70.44 886.49,70.81 887.61,71.18 888.72,71.55 889.8,71.92 890.87,72.28 891.92,72.64 892.96,72.99 893.99,73.34 894.99,73.69 895.99,74.04 896.97,74.38 897.94,74.72 898.89,75.05 899.83,75.39 900.76,75.72 901.68,76.05 902.58,76.37 903.48,76.7 904.36,77.02 905.23,77.34 906.1,77.65 906.95,77.97 907.79,78.28 908.62,78.59 909.44,78.89 910.25,79.2 911.06,79.5 911.85,79.8 912.64,80.1 913.41,80.4 914.18,80.69 914.94,80.98 915.7,81.27 916.44,81.56 917.18,81.85 917.91,82.13 918.63,82.42 919.34,82.7 920.05,82.98 920.75,83.26 921.44,83.53 922.13,83.81 922.81,84.08 923.49,84.35 924.15,84.62 924.81,84.89 925.47,85.16 926.12,85.42 926.76,85.68 927.4,85.95 928.03,86.21 928.66,86.47 929.28,86.72 929.89,86.98 930.5,87.24 931.11,87.49 931.71,87.74 932.3,87.99 932.89,88.24 933.48,88.49 934.06,88.74 934.64,88.98 935.21,89.23 935.77,89.47 936.34,89.72 936.89,89.96 937.45,90.2 938,90.44 938.54,90.67 939.08,90.91 939.62,91.15 940.15,91.38 940.68,91.61 941.2,91.85 941.72,92.08 942.24,92.31 942.75,92.54 943.26,92.76 943.77,92.99 944.27,93.22 944.77,93.44 945.27,93.67 945.76,93.89 946.25,94.11 946.73,94.33 947.21,94.55 947.69,94.77 948.17,94.99 948.64,95.21 949.11,95.43 949.58,95.64 950.04,95.86 950.5,96.07 950.96,96.28 951.41,96.5 951.86,96.71 952.31,96.92 952.76,97.13 953.2,97.34 953.64,97.55 954.08,97.75 954.51,97.96 954.94,98.17 955.37,98.37 955.8,98.58 956.23,98.78 956.65,98.98 957.07,99.18 957.48,99.39 957.9,99.59 958.31,99.79 958.72,99.99 959.13,100.18 959.53,100.38 959.94,100.58 960.34,100.78 960.73,100.97 961.13,101.17 961.52,101.36 961.92,101.56 962.31,101.75 962.69,101.94 963.08,102.13 963.46,102.32 963.84,102.51 964.22,102.7 964.6,102.89 964.97,103.08 965.35,103.27 965.72,103.46 966.09,103.64 966.46,103.83 966.82,104.02 967.19,104.2 967.55,104.39 967.91,104.57 968.27,104.75 968.62,104.94 969.65,105.46 970.67,105.99 971.7,106.53 972.73,107.07 973.75,107.61 974.78,108.15 975.81,108.69 976.83,109.24 977.86,109.8 978.89,110.35 979.91,110.91 980.94,111.47 981.97,112.03 982.99,112.6 984.02,113.17 985.05,113.75 986.07,114.32 987.1,114.9 988.13,115.49 989.15,116.07 990.18,116.66 991.21,117.25 992.23,117.85 993.26,118.45 994.29,119.05 995.31,119.66 996.34,120.27 997.37,120.88 998.39,121.49 999.42,122.11 1000.45,122.74 1001.47,123.36 1002.5,123.99 1003.53,124.63 1004.55,125.26 1005.58,125.9 1006.61,126.55 1007.63,127.19 1008.66,127.84 1009.69,128.5 1010.71,129.16 1011.74,129.82 1012.77,130.48 1013.79,131.15 1014.82,131.82 1015.84,132.5 1016.87,133.18 1017.9,133.86 1018.92,134.55 1019.95,135.24 1020.98,135.93 1022,136.63 1023.03,137.34 1024.06,138.04 1025.08,138.75 1026.11,139.47 1027.14,140.18 1028.16,140.91 1029.19,141.63 1030.22,142.36 1031.24,143.1 1032.27,143.83 1033.3,144.58 1034.32,145.32 1035.35,146.07 1036.38,146.83 1037.4,147.59 1038.43,148.35 1039.46,149.12 1040.48,149.89 1041.51,150.66 1042.54,151.44 1043.56,152.23 1044.59,153.01 1045.62,153.81 1046.64,154.6 1047.67,155.4 1048.7,156.21 1049.72,157.02 1050.75,157.83 1051.78,158.65 1052.8,159.48 1053.83,160.3 1054.86,161.14 1055.88,161.97 1056.91,162.82 1057.94,163.66 1058.96,164.51 1059.99,165.37 1061.02,166.23 1062.04,167.09 1063.07,167.96 1064.1,168.84 1065.12,169.72 1066.15,170.6 1067.17,171.49 1068.2,172.39 1069.23,173.28 1070.25,174.19 1071.28,175.1 1072.31,176.01 1073.33,176.93 1074.36,177.85 1075.39,178.78 1076.41,179.72 1077.44,180.66 1078.47,181.6 1079.49,182.55 1080.52,183.51 1081.55,184.47 1082.57,185.43 1083.6,186.4 1084.63,187.38 1085.65,188.36 1086.68,189.35 1087.71,190.34 1088.73,191.33 1089.76,192.34 1090.79,193.35 1091.81,194.36 1092.84,195.38 1093.87,196.41 1094.89,197.44 1095.92,198.47 1096.95,199.52 1097.97,200.56 1099,201.62 1100.03,202.68 1101.05,203.74 1102.08,204.81 1103.11,205.89 1104.13,206.97 1105.16,208.06 1106.19,209.16 1107.21,210.26 1108.24,211.37 1109.27,212.48 1110.29,213.6 1111.32,214.72 1112.35,215.85 1113.37,216.99 1114.4,218.14 1115.43,219.29 1116.45,220.44 1117.48,221.61 1118.5,222.78 1119.53,223.95 1120.56,225.13 1121.58,226.32 1122.61,227.52 1123.64,228.72 1124.66,229.93 1125.69,231.14 1126.72,232.37 1127.74,233.59 1128.77,234.83 1129.8,236.07 1130.82,237.32 1131.85,238.58 1132.88,239.84 1133.9,241.11 1134.93,242.39 1135.96,243.67 1136.98,244.96 1138.01,246.26 1139.04,247.56 1140.06,248.87 1141.09,250.19 1142.12,251.52 1143.14,252.85 1144.17,254.19 1145.2,255.54 1146.22,256.9 1147.25,258.26 1148.28,259.63 1149.3,261.01 1150.33,262.4 1151.36,263.79 1152.38,265.19 1153.41,266.6 1154.44,268.02 1155.46,269.44 1156.49,270.87 1157.52,272.31 1158.54,273.76 1159.57,275.22 1160.6,276.68 1161.62,278.15 1162.65,279.63 1163.68,281.12 1164.7,282.62 1165.73,284.12 1166.76,285.64 1167.78,287.16 1168.81,288.69 1169.83,290.23 1170.86,291.77 1171.89,293.33 1172.91,294.89" fill="none" stroke="#2e922e" stroke-width="1.4" stroke-dasharray="4.41 1.91"/><polyline points="690.5,32.56 706.36,34.64 719.33,36.46 730.29,38.11 739.78,39.62 748.15,41.02 755.64,42.32 762.42,43.54 768.6,44.7 774.3,45.8 779.56,46.85 784.47,47.85 789.06,48.81 793.37,49.74 797.43,50.63 801.27,51.49 804.92,52.32 808.39,53.13 811.7,53.92 814.86,54.68 817.88,55.43 820.79,56.15 823.57,56.86 826.26,57.55 828.84,58.22 831.34,58.88 833.75,59.53 836.08,60.16 838.34,60.78 840.52,61.39 842.65,61.98 844.71,62.57 846.71,63.14 848.66,63.71 850.55,64.27 852.4,64.81 854.2,65.35 855.96,65.88 857.67,66.4 859.34,66.92 860.98,67.43 862.57,67.93 864.14,68.42 865.67,68.91 867.16,69.39 868.63,69.86 870.06,70.33 871.47,70.79 872.85,71.25 874.21,71.7 875.54,72.15 876.84,72.59 878.12,73.03 879.38,73.46 880.62,73.89 881.83,74.31 883.03,74.73 884.2,75.14 885.36,75.55 886.49,75.96 887.61,76.36 888.72,76.76 889.8,77.15 890.87,77.54 891.92,77.93 892.96,78.31 893.99,78.69 894.99,79.07 895.99,79.44 896.97,79.81 897.94,80.17 898.89,80.54 899.83,80.9 900.76,81.26 901.68,81.61 902.58,81.96 903.48,82.31 904.36,82.66 905.23,83 906.1,83.35 906.95,83.68 907.79,84.02 908.62,84.36 909.44,84.69 910.25,85.02 911.06,85.34 911.85,85.67 912.64,85.99 913.41,86.31 914.18,86.63 914.94,86.94 915.7,87.26 916.44,87.57 917.18,87.88 917.91,88.19 918.63,88.49 919.34,88.8 920.05,89.1 920.75,89.4 921.44,89.7 922.13,90 922.81,90.29 923.49,90.58 924.15,90.88 924.81,91.17 925.47,91.45 926.12,91.74 926.76,92.03 927.4,92.31 928.03,92.59 928.66,92.87 929.28,93.15 929.89,93.43 930.5,93.7 931.11,93.98 931.71,94.25 932.3,94.52 932.89,94.79 933.48,95.06 934.06,95.33 934.64,95.59 935.21,95.86 935.77,96.12 936.34,96.38 936.89,96.64 937.45,96.9 938,97.16 938.54,97.42 939.08,97.67 939.62,97.93 940.15,98.18 940.68,98.44 941.2,98.69 941.72,98.94 942.24,99.19 942.75,99.43 943.26,99.68 943.77,99.93 944.27,100.17 944.77,100.41 945.27,100.66 945.76,100.9 946.25,101.14 946.73,101.38 947.21,101.61 947.69,101.85 948.17,102.09 948.64,102.32 949.11,102.56 949.58,102.79 950.04,103.02 950.5,103.26 950.96,103.49 951.41,103.72 951.86,103.94 952.31,104.17 952.76,104.4 953.2,104.63 953.64,104.85 954.08,105.08 954.51,105.3 954.94,105.52 955.37,105.74 955.8,105.96 956.23,106.18 956.65,106.4 957.07,106.62 957.48,106.84 957.9,107.06 958.31,107.27 958.72,107.49 959.13,107.7 959.53,107.92 959.94,108.13 960.34,108.34 960.73,108.56 961.13,108.77 961.52,108.98 961.92,109.19 962.31,109.4 962.69,109.6 963.08,109.81 963.46,110.02 963.84,110.22 964.22,110.43 964.6,110.63 964.97,110.84 965.35,111.04 965.72,111.24 966.09,111.45 966.46,111.65 966.82,111.85 967.19,112.05 967.55,112.25 967.91,112.45 968.27,112.64 968.62,112.84 969.65,113.41 970.67,113.99 971.7,114.57 972.73,115.15 973.75,115.73 974.78,116.32 975.81,116.91 976.83,117.5 977.86,118.1 978.89,118.7 979.91,119.31 980.94,119.91 981.97,120.52 982.99,121.14 984.02,121.75 985.05,122.37 986.07,123 987.1,123.63 988.13,124.26 989.15,124.89 990.18,125.53 991.21,126.17 992.23,126.82 993.26,127.46 994.29,128.12 995.31,128.77 996.34,129.43 997.37,130.09 998.39,130.76 999.42,131.43 1000.45,132.11 1001.47,132.78 1002.5,133.46 1003.53,134.15 1004.55,134.84 1005.58,135.53 1006.61,136.23 1007.63,136.93 1008.66,137.63 1009.69,138.34 1010.71,139.05 1011.74,139.77 1012.77,140.49 1013.79,141.21 1014.82,141.94 1015.84,142.67 1016.87,143.41 1017.9,144.15 1018.92,144.89 1019.95,145.64 1020.98,146.39 1022,147.15 1023.03,147.91 1024.06,148.68 1025.08,149.44 1026.11,150.22 1027.14,151 1028.16,151.78 1029.19,152.56 1030.22,153.35 1031.24,154.15 1032.27,154.95 1033.3,155.75 1034.32,156.56 1035.35,157.37 1036.38,158.19 1037.4,159.01 1038.43,159.84 1039.46,160.67 1040.48,161.5 1041.51,162.34 1042.54,163.19 1043.56,164.04 1044.59,164.89 1045.62,165.75 1046.64,166.61 1047.67,167.48 1048.7,168.35 1049.72,169.23 1050.75,170.11 1051.78,171 1052.8,171.89 1053.83,172.79 1054.86,173.69 1055.88,174.6 1056.91,175.51 1057.94,176.43 1058.96,177.35 1059.99,178.28 1061.02,179.21 1062.04,180.15 1063.07,181.09 1064.1,182.04 1065.12,182.99 1066.15,183.95 1067.17,184.91 1068.2,185.88 1069.23,186.85 1070.25,187.83 1071.28,188.82 1072.31,189.81 1073.33,190.8 1074.36,191.81 1075.39,192.81 1076.41,193.83 1077.44,194.84 1078.47,195.87 1079.49,196.9 1080.52,197.93 1081.55,198.97 1082.57,200.02 1083.6,201.07 1084.63,202.13 1085.65,203.19 1086.68,204.26 1087.71,205.34 1088.73,206.42 1089.76,207.51 1090.79,208.6 1091.81,209.7 1092.84,210.8 1093.87,211.92 1094.89,213.03 1095.92,214.16 1096.95,215.29 1097.97,216.42 1099,217.57 1100.03,218.72 1101.05,219.87 1102.08,221.03 1103.11,222.2 1104.13,223.38 1105.16,224.56 1106.19,225.74 1107.21,226.94 1108.24,228.14 1109.27,229.35 1110.29,230.56 1111.32,231.78 1112.35,233.01 1113.37,234.24 1114.4,235.48 1115.43,236.73 1116.45,237.98 1117.48,239.25 1118.5,240.51 1119.53,241.79 1120.56,243.07 1121.58,244.36 1122.61,245.66 1123.64,246.96 1124.66,248.27 1125.69,249.59 1126.72,250.92 1127.74,252.25 1128.77,253.59 1129.8,254.94 1130.82,256.29 1131.85,257.66 1132.88,259.03 1133.9,260.4 1134.93,261.79 1135.96,263.18 1136.98,264.58 1138.01,265.99 1139.04,267.41 1140.06,268.83 1141.09,270.26 1142.12,271.7 1143.14,273.15 1144.17,274.6 1145.2,276.07 1146.22,277.54 1147.25,279.02 1148.28,280.51 1149.3,282 1150.33,283.51 1151.36,285.02 1152.38,286.54 1153.41,288.07 1154.44,289.61 1155.46,291.15 1156.49,292.71 1157.52,294.27 1158.54,295.84 1159.57,297.42 1160.6,299.01 1161.62,300.61 1162.65,302.22 1163.68,303.83 1164.7,305.46 1165.73,307.09 1166.76,308.73 1167.78,310.38 1168.81,312.04 1169.83,313.71 1170.86,315.39 1171.89,317.08 1172.91,318.78" fill="none" stroke="#3434f0" stroke-width="1.4" stroke-dasharray="4.41 1.91"/><polyline points="690.5,34.28 706.36,36.52 719.33,38.5 730.29,40.29 739.78,41.92 748.15,43.43 755.64,44.84 762.42,46.17 768.6,47.42 774.3,48.61 779.56,49.75 784.47,50.83 789.06,51.87 793.37,52.87 797.43,53.84 801.27,54.77 804.92,55.67 808.39,56.55 811.7,57.4 814.86,58.23 817.88,59.03 820.79,59.81 823.57,60.58 826.26,61.32 828.84,62.05 831.34,62.77 833.75,63.47 836.08,64.15 838.34,64.82 840.52,65.48 842.65,66.12 844.71,66.76 846.71,67.38 848.66,67.99 850.55,68.6 852.4,69.19 854.2,69.77 855.96,70.34 857.67,70.91 859.34,71.47 860.98,72.02 862.57,72.56 864.14,73.09 865.67,73.62 867.16,74.14 868.63,74.65 870.06,75.16 871.47,75.66 872.85,76.15 874.21,76.64 875.54,77.13 876.84,77.6 878.12,78.08 879.38,78.54 880.62,79 881.83,79.46 883.03,79.91 884.2,80.36 885.36,80.8 886.49,81.24 887.61,81.68 888.72,82.11 889.8,82.53 890.87,82.96 891.92,83.37 892.96,83.79 893.99,84.2 894.99,84.61 895.99,85.01 896.97,85.41 897.94,85.81 898.89,86.2 899.83,86.59 900.76,86.98 901.68,87.36 902.58,87.74 903.48,88.12 904.36,88.49 905.23,88.87 906.1,89.24 906.95,89.6 907.79,89.97 908.62,90.33 909.44,90.69 910.25,91.04 911.06,91.4 911.85,91.75 912.64,92.1 913.41,92.44 914.18,92.79 914.94,93.13 915.7,93.47 916.44,93.8 917.18,94.14 917.91,94.47 918.63,94.8 919.34,95.13 920.05,95.46 920.75,95.78 921.44,96.11 922.13,96.43 922.81,96.75 923.49,97.06 924.15,97.38 924.81,97.69 925.47,98 926.12,98.31 926.76,98.62 927.4,98.93 928.03,99.23 928.66,99.54 929.28,99.84 929.89,100.14 930.5,100.44 931.11,100.73 931.71,101.03 932.3,101.32 932.89,101.61 933.48,101.9 934.06,102.19 934.64,102.48 935.21,102.77 935.77,103.05 936.34,103.33 936.89,103.62 937.45,103.9 938,104.18 938.54,104.45 939.08,104.73 939.62,105.01 940.15,105.28 940.68,105.55 941.2,105.82 941.72,106.09 942.24,106.36 942.75,106.63 943.26,106.9 943.77,107.16 944.27,107.43 944.77,107.69 945.27,107.95 945.76,108.21 946.25,108.47 946.73,108.73 947.21,108.99 947.69,109.25 948.17,109.5 948.64,109.76 949.11,110.01 949.58,110.26 950.04,110.51 950.5,110.76 950.96,111.01 951.41,111.26 951.86,111.51 952.31,111.76 952.76,112 953.2,112.25 953.64,112.49 954.08,112.73 954.51,112.97 954.94,113.21 955.37,113.45 955.8,113.69 956.23,113.93 956.65,114.17 957.07,114.41 957.48,114.64 957.9,114.88 958.31,115.11 958.72,115.34 959.13,115.57 959.53,115.81 959.94,116.04 960.34,116.27 960.73,116.49 961.13,116.72 961.52,116.95 961.92,117.18 962.31,117.4 962.69,117.63 963.08,117.85 963.46,118.08 963.84,118.3 964.22,118.52 964.6,118.74 964.97,118.96 965.35,119.18 965.72,119.4 966.09,119.62 966.46,119.84 966.82,120.05 967.19,120.27 967.55,120.49 967.91,120.7 968.27,120.92 968.62,121.13 969.65,121.75 970.67,122.37 971.7,122.99 972.73,123.62 973.75,124.25 974.78,124.89 975.81,125.53 976.83,126.17 977.86,126.81 978.89,127.46 979.91,128.12 980.94,128.77 981.97,129.43 982.99,130.1 984.02,130.76 985.05,131.43 986.07,132.11 987.1,132.79 988.13,133.47 989.15,134.15 990.18,134.84 991.21,135.54 992.23,136.23 993.26,136.93 994.29,137.64 995.31,138.35 996.34,139.06 997.37,139.78 998.39,140.5 999.42,141.22 1000.45,141.95 1001.47,142.68 1002.5,143.42 1003.53,144.16 1004.55,144.91 1005.58,145.65 1006.61,146.41 1007.63,147.16 1008.66,147.92 1009.69,148.69 1010.71,149.46 1011.74,150.23 1012.77,151.01 1013.79,151.79 1014.82,152.58 1015.84,153.37 1016.87,154.17 1017.9,154.97 1018.92,155.77 1019.95,156.58 1020.98,157.39 1022,158.21 1023.03,159.03 1024.06,159.86 1025.08,160.69 1026.11,161.53 1027.14,162.37 1028.16,163.21 1029.19,164.06 1030.22,164.91 1031.24,165.77 1032.27,166.64 1033.3,167.51 1034.32,168.38 1035.35,169.26 1036.38,170.14 1037.4,171.03 1038.43,171.92 1039.46,172.82 1040.48,173.72 1041.51,174.63 1042.54,175.54 1043.56,176.46 1044.59,177.38 1045.62,178.31 1046.64,179.24 1047.67,180.18 1048.7,181.12 1049.72,182.07 1050.75,183.02 1051.78,183.98 1052.8,184.94 1053.83,185.91 1054.86,186.89 1055.88,187.87 1056.91,188.85 1057.94,189.84 1058.96,190.84 1059.99,191.84 1061.02,192.85 1062.04,193.86 1063.07,194.88 1064.1,195.9 1065.12,196.93 1066.15,197.97 1067.17,199.01 1068.2,200.06 1069.23,201.11 1070.25,202.17 1071.28,203.23 1072.31,204.3 1073.33,205.38 1074.36,206.46 1075.39,207.55 1076.41,208.64 1077.44,209.74 1078.47,210.84 1079.49,211.96 1080.52,213.07 1081.55,214.2 1082.57,215.33 1083.6,216.47 1084.63,217.61 1085.65,218.76 1086.68,219.91 1087.71,221.07 1088.73,222.24 1089.76,223.42 1090.79,224.6 1091.81,225.79 1092.84,226.98 1093.87,228.18 1094.89,229.39 1095.92,230.6 1096.95,231.82 1097.97,233.05 1099,234.28 1100.03,235.53 1101.05,236.77 1102.08,238.03 1103.11,239.29 1104.13,240.56 1105.16,241.83 1106.19,243.12 1107.21,244.4 1108.24,245.7 1109.27,247.01 1110.29,248.32 1111.32,249.63 1112.35,250.96 1113.37,252.29 1114.4,253.63 1115.43,254.98 1116.45,256.34 1117.48,257.7 1118.5,259.07 1119.53,260.44 1120.56,261.83 1121.58,263.22 1122.61,264.62 1123.64,266.03 1124.66,267.45 1125.69,268.87 1126.72,270.3 1127.74,271.74 1128.77,273.19 1129.8,274.64 1130.82,276.11 1131.85,277.58 1132.88,279.06 1133.9,280.54 1134.93,282.04 1135.96,283.54 1136.98,285.06 1138.01,286.58 1139.04,288.1 1140.06,289.64 1141.09,291.19 1142.12,292.74 1143.14,294.3 1144.17,295.88 1145.2,297.46 1146.22,299.05 1147.25,300.64 1148.28,302.25 1149.3,303.86 1150.33,305.49 1151.36,307.12 1152.38,308.76 1153.41,310.41 1154.44,312.07 1155.46,313.74 1156.49,315.42 1157.52,317.11 1158.54,318.81 1159.57,320.51 1160.6,322.23 1161.62,323.95 1162.65,325.69 1163.68,327.43 1164.7,329.19 1165.73,330.95 1166.76,332.72 1167.78,334.51 1168.81,336.3 1169.83,338.1 1170.86,339.91 1171.89,341.74 1172.91,343.57" fill="none" stroke="#f03c3c" stroke-width="1.4" stroke-dasharray="4.41 1.91"/></g>
<rect x="666.8" y="14.5" width="530.7" height="344.9" fill="none" stroke="#333" stroke-width="0.8"/>
<path d="M674.64 359.4v1.6M683.01 359.4v1.6M690.5 359.4v3.1M739.78 359.4v1.6M768.6 359.4v1.6M789.06 359.4v1.6M804.92 359.4v1.6M817.88 359.4v1.6M828.84 359.4v1.6M838.34 359.4v1.6M846.71 359.4v1.6M854.2 359.4v3.1M903.48 359.4v1.6M932.3 359.4v1.6M952.76 359.4v1.6M968.62 359.4v1.6M981.58 359.4v1.6M992.54 359.4v1.6M1002.04 359.4v1.6M1010.41 359.4v1.6M1017.9 359.4v3.1M1067.18 359.4v1.6M1096 359.4v1.6M1116.46 359.4v1.6M1132.32 359.4v1.6M1145.28 359.4v1.6M1156.24 359.4v1.6M1165.74 359.4v1.6M1174.11 359.4v1.6M1181.6 359.4v3.1M666.8 86h-3.1M666.8 162.76h-3.1M666.8 239.52h-3.1M666.8 316.28h-3.1" stroke="#333" stroke-width="0.64" fill="none"/>
<text transform="matrix(0.8998 0 0 1 0 0)" x="760.29 765.24" y="373.15" font-family="&quot;Liberation Sans&quot;, sans-serif" font-size="8.9" fill="#1e1e1e">10</text><text x="693.28" y="369.85" font-family="&quot;Liberation Sans&quot;, sans-serif" font-size="5.6" fill="#1e1e1e">0</text>
<text transform="matrix(0.8998 0 0 1 0 0)" x="942.31 947.26" y="373.15" font-family="&quot;Liberation Sans&quot;, sans-serif" font-size="8.9" fill="#1e1e1e">10</text><text x="857.05" y="369.85" font-family="&quot;Liberation Sans&quot;, sans-serif" font-size="5.6" fill="#1e1e1e">1</text>
<text transform="matrix(0.8998 0 0 1 0 0)" x="1124.27 1129.21" y="373.15" font-family="&quot;Liberation Sans&quot;, sans-serif" font-size="8.9" fill="#1e1e1e">10</text><text x="1020.77" y="369.85" font-family="&quot;Liberation Sans&quot;, sans-serif" font-size="5.6" fill="#1e1e1e">2</text>
<text transform="matrix(0.8998 0 0 1 0 0)" x="1306.14 1311.09" y="373.15" font-family="&quot;Liberation Sans&quot;, sans-serif" font-size="8.9" fill="#1e1e1e">10</text><text x="1184.42" y="369.85" font-family="&quot;Liberation Sans&quot;, sans-serif" font-size="5.6" fill="#1e1e1e">3</text>
<text transform="matrix(0.8998 0 0 1 0 0)" x="714.94 719.89" y="89.6" font-family="&quot;Liberation Sans&quot;, sans-serif" font-size="8.9" fill="#1e1e1e">10</text><text transform="matrix(1.1960 0 0 1 0 0)" x="545.67 548.94" y="86.3" font-family="&quot;Liberation Sans&quot;, sans-serif" font-size="5.6" fill="#1e1e1e">−2</text>
<text transform="matrix(0.8998 0 0 1 0 0)" x="714.68 719.63" y="166.36" font-family="&quot;Liberation Sans&quot;, sans-serif" font-size="8.9" fill="#1e1e1e">10</text><text transform="matrix(1.1960 0 0 1 0 0)" x="545.48 548.75" y="163.06" font-family="&quot;Liberation Sans&quot;, sans-serif" font-size="5.6" fill="#1e1e1e">−4</text>
<text transform="matrix(0.8998 0 0 1 0 0)" x="714.72 719.67" y="243.12" font-family="&quot;Liberation Sans&quot;, sans-serif" font-size="8.9" fill="#1e1e1e">10</text><text transform="matrix(1.1960 0 0 1 0 0)" x="545.51 548.78" y="239.82" font-family="&quot;Liberation Sans&quot;, sans-serif" font-size="5.6" fill="#1e1e1e">−6</text>
<text transform="matrix(0.8998 0 0 1 0 0)" x="714.76 719.71" y="319.88" font-family="&quot;Liberation Sans&quot;, sans-serif" font-size="8.9" fill="#1e1e1e">10</text><text transform="matrix(1.1960 0 0 1 0 0)" x="545.53 548.8" y="316.58" font-family="&quot;Liberation Sans&quot;, sans-serif" font-size="5.6" fill="#1e1e1e">−8</text>
<text transform="matrix(1.0365 0 0 1 0 0)" x="785.91 793.13 798.87 804.83 808.19 813.85 819.57 822.29 829.68 831.92 837.26 840.67 844.41 846.88 852.71 858.86 862.23 864.6 870.33 876.13 879.16 881.63 887.44 890.46 892.83 898.56 904.29 907.8 910.17 915.9 921.71 924.09 930.39 935.45 941.26 943.65 949.37 952.21 958.07 961.15 963.76 970.02 974.92 981.79 984.67 991.38 993.86 999.69 1005.42" y="9.55" font-family="&quot;Liberation Sans&quot;, sans-serif" font-size="10.29" fill="#1e1e1e">Degree Distribution in log-log Scale of BTC-Alpha</text>
<text transform="matrix(1.0415 0 0 1 0 0)" x="875.72 881.71 886.47 891.42 894.2 898.89 903.64 906.07 908.53" y="385.3" font-family="&quot;Liberation Sans&quot;, sans-serif" font-size="8.58" fill="#1e1e1e">Degree, k</text>
<g transform="translate(633.3 187.25) rotate(-90)"><text transform="matrix(1.0677 0 0 1 0 0)" x="-49.57 -44.49 -41.81 -37.18 -32.54 -27.9 -23.08 -21.01 -18.95 -16.69 -13.99 -9.65 -7.51 -1.47 0.31 4.65 7.4 10.44 12.4 17.12 22.13 24.86 26.73 31.36 36.09 38.46" y="0" font-family="&quot;Liberation Sans&quot;, sans-serif" font-size="8.58" fill="#1e1e1e">Probability Distribution, </text><text x="43.13" y="0" font-family="&quot;Liberation Sans&quot;, sans-serif" font-size="8.58" font-style="italic" fill="#1e1e1e">P</text><text x="48.19" y="1.5" font-family="&quot;Liberation Sans&quot;, sans-serif" font-size="6" font-style="italic" fill="#1e1e1e">k</text></g>
<rect x="1124.6" y="18.5" width="69" height="59.2" rx="2.2" fill="#fff" fill-opacity="0.8" stroke="#d6d6d6" stroke-width="0.8"/>
<circle cx="1135.9" cy="25.6" r="1.6" fill="#bf00bf"/>
<text transform="matrix(0.9844 0 0 1 0 0)" x="1167.7 1173.17 1177.5 1183.44 1186.04 1191.83 1194.08 1199.19 1204.22" y="27.6" font-family="&quot;Liberation Sans&quot;, sans-serif" font-size="8.58" fill="#1e1e1e">BTC-Alpha</text>
<line x1="1127.4" y1="38.8" x2="1143.5" y2="38.8" stroke="#2e922e" stroke-width="1.4" stroke-dasharray="4.41 1.91"/>
<text x="1150.72" y="40.7" font-family="&quot;Liberation Sans&quot;, sans-serif" font-size="8.58" font-style="italic" fill="#1e1e1e">γ</text>
<text transform="matrix(1.1291 0 0 1 0 0)" x="1023.57 1028.94 1031.1 1035.65 1037.81" y="40.7" font-family="&quot;Liberation Sans&quot;, sans-serif" font-size="8.58" fill="#1e1e1e">= 2.0</text>
<line x1="1127.4" y1="53.75" x2="1143.5" y2="53.75" stroke="#3434f0" stroke-width="1.4" stroke-dasharray="4.41 1.91"/>
<text x="1150.72" y="55.65" font-family="&quot;Liberation Sans&quot;, sans-serif" font-size="8.58" font-style="italic" fill="#1e1e1e">γ</text>
<text transform="matrix(1.1291 0 0 1 0 0)" x="1023.57 1028.94 1031.1 1035.65 1037.81" y="55.65" font-family="&quot;Liberation Sans&quot;, sans-serif" font-size="8.58" fill="#1e1e1e">= 2.5</text>
<line x1="1127.4" y1="68.8" x2="1143.5" y2="68.8" stroke="#f03c3c" stroke-width="1.4" stroke-dasharray="4.41 1.91"/>
<text x="1150.72" y="70.7" font-family="&quot;Liberation Sans&quot;, sans-serif" font-size="8.58" font-style="italic" fill="#1e1e1e">γ</text>
<text transform="matrix(1.1291 0 0 1 0 0)" x="1023.57 1028.94 1031.1 1035.65 1037.81" y="70.7" font-family="&quot;Liberation Sans&quot;, sans-serif" font-size="8.58" fill="#1e1e1e">= 3.0</text>
<clipPath id="clipc"><rect x="40.9" y="539" width="530.5" height="351.3"/></clipPath>
<path d="M64.8 539V890.3M219.65 539V890.3M374.5 539V890.3M529.35 539V890.3M40.9 552.25H571.4M40.9 620.61H571.4M40.9 688.97H571.4M40.9 757.33H571.4M40.9 825.69H571.4" stroke="#d6d6d6" stroke-width="0.64" stroke-dasharray="1.2 0.8" fill="none"/>
<g clip-path="url(#clipc)"><path d="M63.2 581.19a1.6 1.6 0 1 0 3.2 0a1.6 1.6 0 1 0 -3.2 0M109.81 571.29a1.6 1.6 0 1 0 3.2 0a1.6 1.6 0 1 0 -3.2 0M137.08 592.99a1.6 1.6 0 1 0 3.2 0a1.6 1.6 0 1 0 -3.2 0M156.43 585.69a1.6 1.6 0 1 0 3.2 0a1.6 1.6 0 1 0 -3.2 0M171.44 598.78a1.6 1.6 0 1 0 3.2 0a1.6 1.6 0 1 0 -3.2 0M183.7 595.28a1.6 1.6 0 1 0 3.2 0a1.6 1.6 0 1 0 -3.2 0M194.06 606.22a1.6 1.6 0 1 0 3.2 0a1.6 1.6 0 1 0 -3.2 0M203.04 603.28a1.6 1.6 0 1 0 3.2 0a1.6 1.6 0 1 0 -3.2 0M210.96 610.78a1.6 1.6 0 1 0 3.2 0a1.6 1.6 0 1 0 -3.2 0M218.05 607.95a1.6 1.6 0 1 0 3.2 0a1.6 1.6 0 1 0 -3.2 0M224.46 614.13a1.6 1.6 0 1 0 3.2 0a1.6 1.6 0 1 0 -3.2 0M230.31 614.13a1.6 1.6 0 1 0 3.2 0a1.6 1.6 0 1 0 -3.2 0M235.69 620.31a1.6 1.6 0 1 0 3.2 0a1.6 1.6 0 1 0 -3.2 0M240.68 619.35a1.6 1.6 0 1 0 3.2 0a1.6 1.6 0 1 0 -3.2 0M245.32 621.07a1.6 1.6 0 1 0 3.2 0a1.6 1.6 0 1 0 -3.2 0M249.66 620.07a1.6 1.6 0 1 0 3.2 0a1.6 1.6 0 1 0 -3.2 0M253.74 624.58a1.6 1.6 0 1 0 3.2 0a1.6 1.6 0 1 0 -3.2 0M257.58 625.26a1.6 1.6 0 1 0 3.2 0a1.6 1.6 0 1 0 -3.2 0M261.21 627.49a1.6 1.6 0 1 0 3.2 0a1.6 1.6 0 1 0 -3.2 0M264.66 626.71a1.6 1.6 0 1 0 3.2 0a1.6 1.6 0 1 0 -3.2 0M267.95 628.31a1.6 1.6 0 1 0 3.2 0a1.6 1.6 0 1 0 -3.2 0M271.07 638.18a1.6 1.6 0 1 0 3.2 0a1.6 1.6 0 1 0 -3.2 0M274.06 629.64a1.6 1.6 0 1 0 3.2 0a1.6 1.6 0 1 0 -3.2 0M276.93 633.91a1.6 1.6 0 1 0 3.2 0a1.6 1.6 0 1 0 -3.2 0M279.67 633.31a1.6 1.6 0 1 0 3.2 0a1.6 1.6 0 1 0 -3.2 0M282.31 636.62a1.6 1.6 0 1 0 3.2 0a1.6 1.6 0 1 0 -3.2 0M284.85 641.92a1.6 1.6 0 1 0 3.2 0a1.6 1.6 0 1 0 -3.2 0M287.29 644.2a1.6 1.6 0 1 0 3.2 0a1.6 1.6 0 1 0 -3.2 0M289.65 650.22a1.6 1.6 0 1 0 3.2 0a1.6 1.6 0 1 0 -3.2 0M291.93 638.18a1.6 1.6 0 1 0 3.2 0a1.6 1.6 0 1 0 -3.2 0M294.14 640.89a1.6 1.6 0 1 0 3.2 0a1.6 1.6 0 1 0 -3.2 0M296.27 644.2a1.6 1.6 0 1 0 3.2 0a1.6 1.6 0 1 0 -3.2 0M298.34 636.62a1.6 1.6 0 1 0 3.2 0a1.6 1.6 0 1 0 -3.2 0M300.35 638.18a1.6 1.6 0 1 0 3.2 0a1.6 1.6 0 1 0 -3.2 0M302.3 643.02a1.6 1.6 0 1 0 3.2 0a1.6 1.6 0 1 0 -3.2 0M304.19 645.5a1.6 1.6 0 1 0 3.2 0a1.6 1.6 0 1 0 -3.2 0M306.04 639.93a1.6 1.6 0 1 0 3.2 0a1.6 1.6 0 1 0 -3.2 0M307.83 639.93a1.6 1.6 0 1 0 3.2 0a1.6 1.6 0 1 0 -3.2 0M309.58 644.2a1.6 1.6 0 1 0 3.2 0a1.6 1.6 0 1 0 -3.2 0M311.28 645.5a1.6 1.6 0 1 0 3.2 0a1.6 1.6 0 1 0 -3.2 0M312.94 654.49a1.6 1.6 0 1 0 3.2 0a1.6 1.6 0 1 0 -3.2 0M314.56 645.5a1.6 1.6 0 1 0 3.2 0a1.6 1.6 0 1 0 -3.2 0M316.14 650.22a1.6 1.6 0 1 0 3.2 0a1.6 1.6 0 1 0 -3.2 0M317.69 654.49a1.6 1.6 0 1 0 3.2 0a1.6 1.6 0 1 0 -3.2 0M319.2 657.2a1.6 1.6 0 1 0 3.2 0a1.6 1.6 0 1 0 -3.2 0M320.68 657.2a1.6 1.6 0 1 0 3.2 0a1.6 1.6 0 1 0 -3.2 0M322.12 660.51a1.6 1.6 0 1 0 3.2 0a1.6 1.6 0 1 0 -3.2 0M323.54 654.49a1.6 1.6 0 1 0 3.2 0a1.6 1.6 0 1 0 -3.2 0M324.93 652.2a1.6 1.6 0 1 0 3.2 0a1.6 1.6 0 1 0 -3.2 0M326.29 652.2a1.6 1.6 0 1 0 3.2 0a1.6 1.6 0 1 0 -3.2 0M327.62 657.2a1.6 1.6 0 1 0 3.2 0a1.6 1.6 0 1 0 -3.2 0M328.92 660.51a1.6 1.6 0 1 0 3.2 0a1.6 1.6 0 1 0 -3.2 0M330.2 664.78a1.6 1.6 0 1 0 3.2 0a1.6 1.6 0 1 0 -3.2 0M331.46 645.5a1.6 1.6 0 1 0 3.2 0a1.6 1.6 0 1 0 -3.2 0M332.7 650.22a1.6 1.6 0 1 0 3.2 0a1.6 1.6 0 1 0 -3.2 0M333.91 657.2a1.6 1.6 0 1 0 3.2 0a1.6 1.6 0 1 0 -3.2 0M335.1 657.2a1.6 1.6 0 1 0 3.2 0a1.6 1.6 0 1 0 -3.2 0M336.27 664.78a1.6 1.6 0 1 0 3.2 0a1.6 1.6 0 1 0 -3.2 0M337.42 654.49a1.6 1.6 0 1 0 3.2 0a1.6 1.6 0 1 0 -3.2 0M338.88 654.49a1.6 1.6 0 1 0 3.2 0a1.6 1.6 0 1 0 -3.2 0M340.86 657.2a1.6 1.6 0 1 0 3.2 0a1.6 1.6 0 1 0 -3.2 0M342.36 657.2a1.6 1.6 0 1 0 3.2 0a1.6 1.6 0 1 0 -3.2 0M343.72 657.2a1.6 1.6 0 1 0 3.2 0a1.6 1.6 0 1 0 -3.2 0M339.66 664.78a1.6 1.6 0 1 0 3.2 0a1.6 1.6 0 1 0 -3.2 0M341.83 664.78a1.6 1.6 0 1 0 3.2 0a1.6 1.6 0 1 0 -3.2 0M342.89 664.78a1.6 1.6 0 1 0 3.2 0a1.6 1.6 0 1 0 -3.2 0M343.93 670.8a1.6 1.6 0 1 0 3.2 0a1.6 1.6 0 1 0 -3.2 0M345.97 670.8a1.6 1.6 0 1 0 3.2 0a1.6 1.6 0 1 0 -3.2 0M346.96 654.49a1.6 1.6 0 1 0 3.2 0a1.6 1.6 0 1 0 -3.2 0M348.43 660.51a1.6 1.6 0 1 0 3.2 0a1.6 1.6 0 1 0 -3.2 0M349.01 650.22a1.6 1.6 0 1 0 3.2 0a1.6 1.6 0 1 0 -3.2 0M350.15 670.8a1.6 1.6 0 1 0 3.2 0a1.6 1.6 0 1 0 -3.2 0M351.27 664.78a1.6 1.6 0 1 0 3.2 0a1.6 1.6 0 1 0 -3.2 0M353.55 657.2a1.6 1.6 0 1 0 3.2 0a1.6 1.6 0 1 0 -3.2 0M356.36 657.2a1.6 1.6 0 1 0 3.2 0a1.6 1.6 0 1 0 -3.2 0M357.47 670.8a1.6 1.6 0 1 0 3.2 0a1.6 1.6 0 1 0 -3.2 0M361.81 650.22a1.6 1.6 0 1 0 3.2 0a1.6 1.6 0 1 0 -3.2 0M363.53 670.8a1.6 1.6 0 1 0 3.2 0a1.6 1.6 0 1 0 -3.2 0M365.81 670.8a1.6 1.6 0 1 0 3.2 0a1.6 1.6 0 1 0 -3.2 0M368.02 670.8a1.6 1.6 0 1 0 3.2 0a1.6 1.6 0 1 0 -3.2 0M370.01 670.8a1.6 1.6 0 1 0 3.2 0a1.6 1.6 0 1 0 -3.2 0M368.02 664.78a1.6 1.6 0 1 0 3.2 0a1.6 1.6 0 1 0 -3.2 0M370.15 664.78a1.6 1.6 0 1 0 3.2 0a1.6 1.6 0 1 0 -3.2 0M371.54 664.78a1.6 1.6 0 1 0 3.2 0a1.6 1.6 0 1 0 -3.2 0M373.57 664.78a1.6 1.6 0 1 0 3.2 0a1.6 1.6 0 1 0 -3.2 0M374.89 660.51a1.6 1.6 0 1 0 3.2 0a1.6 1.6 0 1 0 -3.2 0M377.83 664.78a1.6 1.6 0 1 0 3.2 0a1.6 1.6 0 1 0 -3.2 0M379.92 660.51a1.6 1.6 0 1 0 3.2 0a1.6 1.6 0 1 0 -3.2 0M381.71 660.51a1.6 1.6 0 1 0 3.2 0a1.6 1.6 0 1 0 -3.2 0M380.88 664.78a1.6 1.6 0 1 0 3.2 0a1.6 1.6 0 1 0 -3.2 0M385.72 664.78a1.6 1.6 0 1 0 3.2 0a1.6 1.6 0 1 0 -3.2 0M379.92 670.8a1.6 1.6 0 1 0 3.2 0a1.6 1.6 0 1 0 -3.2 0M383.46 670.8a1.6 1.6 0 1 0 3.2 0a1.6 1.6 0 1 0 -3.2 0M385.72 670.8a1.6 1.6 0 1 0 3.2 0a1.6 1.6 0 1 0 -3.2 0M389.82 670.8a1.6 1.6 0 1 0 3.2 0a1.6 1.6 0 1 0 -3.2 0M392.93 670.8a1.6 1.6 0 1 0 3.2 0a1.6 1.6 0 1 0 -3.2 0M395.05 670.8a1.6 1.6 0 1 0 3.2 0a1.6 1.6 0 1 0 -3.2 0M399.27 670.8a1.6 1.6 0 1 0 3.2 0a1.6 1.6 0 1 0 -3.2 0M403.24 670.8a1.6 1.6 0 1 0 3.2 0a1.6 1.6 0 1 0 -3.2 0M415.71 670.8a1.6 1.6 0 1 0 3.2 0a1.6 1.6 0 1 0 -3.2 0M420.52 664.78a1.6 1.6 0 1 0 3.2 0a1.6 1.6 0 1 0 -3.2 0M337.42 681.09a1.6 1.6 0 1 0 3.2 0a1.6 1.6 0 1 0 -3.2 0M351.74 681.09a1.6 1.6 0 1 0 3.2 0a1.6 1.6 0 1 0 -3.2 0M354.44 681.09a1.6 1.6 0 1 0 3.2 0a1.6 1.6 0 1 0 -3.2 0M357.05 681.09a1.6 1.6 0 1 0 3.2 0a1.6 1.6 0 1 0 -3.2 0M359.55 681.09a1.6 1.6 0 1 0 3.2 0a1.6 1.6 0 1 0 -3.2 0M361.97 681.09a1.6 1.6 0 1 0 3.2 0a1.6 1.6 0 1 0 -3.2 0M364.3 681.09a1.6 1.6 0 1 0 3.2 0a1.6 1.6 0 1 0 -3.2 0M366.56 681.09a1.6 1.6 0 1 0 3.2 0a1.6 1.6 0 1 0 -3.2 0M371.88 681.09a1.6 1.6 0 1 0 3.2 0a1.6 1.6 0 1 0 -3.2 0M376.18 681.09a1.6 1.6 0 1 0 3.2 0a1.6 1.6 0 1 0 -3.2 0M378.08 681.09a1.6 1.6 0 1 0 3.2 0a1.6 1.6 0 1 0 -3.2 0M379.92 681.09a1.6 1.6 0 1 0 3.2 0a1.6 1.6 0 1 0 -3.2 0M382.88 681.09a1.6 1.6 0 1 0 3.2 0a1.6 1.6 0 1 0 -3.2 0M387.91 681.09a1.6 1.6 0 1 0 3.2 0a1.6 1.6 0 1 0 -3.2 0M389.21 681.09a1.6 1.6 0 1 0 3.2 0a1.6 1.6 0 1 0 -3.2 0M390.51 681.09a1.6 1.6 0 1 0 3.2 0a1.6 1.6 0 1 0 -3.2 0M391.81 681.09a1.6 1.6 0 1 0 3.2 0a1.6 1.6 0 1 0 -3.2 0M393.1 681.09a1.6 1.6 0 1 0 3.2 0a1.6 1.6 0 1 0 -3.2 0M394.4 681.09a1.6 1.6 0 1 0 3.2 0a1.6 1.6 0 1 0 -3.2 0M395.7 681.09a1.6 1.6 0 1 0 3.2 0a1.6 1.6 0 1 0 -3.2 0M397 681.09a1.6 1.6 0 1 0 3.2 0a1.6 1.6 0 1 0 -3.2 0M398.3 681.09a1.6 1.6 0 1 0 3.2 0a1.6 1.6 0 1 0 -3.2 0M399.6 681.09a1.6 1.6 0 1 0 3.2 0a1.6 1.6 0 1 0 -3.2 0M400.9 681.09a1.6 1.6 0 1 0 3.2 0a1.6 1.6 0 1 0 -3.2 0M402.2 681.09a1.6 1.6 0 1 0 3.2 0a1.6 1.6 0 1 0 -3.2 0M403.5 681.09a1.6 1.6 0 1 0 3.2 0a1.6 1.6 0 1 0 -3.2 0M404.8 681.09a1.6 1.6 0 1 0 3.2 0a1.6 1.6 0 1 0 -3.2 0M406.1 681.09a1.6 1.6 0 1 0 3.2 0a1.6 1.6 0 1 0 -3.2 0M407.4 681.09a1.6 1.6 0 1 0 3.2 0a1.6 1.6 0 1 0 -3.2 0M408.7 681.09a1.6 1.6 0 1 0 3.2 0a1.6 1.6 0 1 0 -3.2 0M410 681.09a1.6 1.6 0 1 0 3.2 0a1.6 1.6 0 1 0 -3.2 0M411.3 681.09a1.6 1.6 0 1 0 3.2 0a1.6 1.6 0 1 0 -3.2 0M413.91 681.09a1.6 1.6 0 1 0 3.2 0a1.6 1.6 0 1 0 -3.2 0M415.32 681.09a1.6 1.6 0 1 0 3.2 0a1.6 1.6 0 1 0 -3.2 0M416.74 681.09a1.6 1.6 0 1 0 3.2 0a1.6 1.6 0 1 0 -3.2 0M418.16 681.09a1.6 1.6 0 1 0 3.2 0a1.6 1.6 0 1 0 -3.2 0M421.83 681.09a1.6 1.6 0 1 0 3.2 0a1.6 1.6 0 1 0 -3.2 0M425.62 681.09a1.6 1.6 0 1 0 3.2 0a1.6 1.6 0 1 0 -3.2 0M426.93 681.09a1.6 1.6 0 1 0 3.2 0a1.6 1.6 0 1 0 -3.2 0M428.25 681.09a1.6 1.6 0 1 0 3.2 0a1.6 1.6 0 1 0 -3.2 0M429.56 681.09a1.6 1.6 0 1 0 3.2 0a1.6 1.6 0 1 0 -3.2 0M430.88 681.09a1.6 1.6 0 1 0 3.2 0a1.6 1.6 0 1 0 -3.2 0M432.2 681.09a1.6 1.6 0 1 0 3.2 0a1.6 1.6 0 1 0 -3.2 0M433.51 681.09a1.6 1.6 0 1 0 3.2 0a1.6 1.6 0 1 0 -3.2 0M434.83 681.09a1.6 1.6 0 1 0 3.2 0a1.6 1.6 0 1 0 -3.2 0M436.14 681.09a1.6 1.6 0 1 0 3.2 0a1.6 1.6 0 1 0 -3.2 0M437.46 681.09a1.6 1.6 0 1 0 3.2 0a1.6 1.6 0 1 0 -3.2 0M438.77 681.09a1.6 1.6 0 1 0 3.2 0a1.6 1.6 0 1 0 -3.2 0M440.09 681.09a1.6 1.6 0 1 0 3.2 0a1.6 1.6 0 1 0 -3.2 0M441.41 681.09a1.6 1.6 0 1 0 3.2 0a1.6 1.6 0 1 0 -3.2 0M442.72 681.09a1.6 1.6 0 1 0 3.2 0a1.6 1.6 0 1 0 -3.2 0M444.04 681.09a1.6 1.6 0 1 0 3.2 0a1.6 1.6 0 1 0 -3.2 0M445.88 681.09a1.6 1.6 0 1 0 3.2 0a1.6 1.6 0 1 0 -3.2 0M447.27 681.09a1.6 1.6 0 1 0 3.2 0a1.6 1.6 0 1 0 -3.2 0M448.67 681.09a1.6 1.6 0 1 0 3.2 0a1.6 1.6 0 1 0 -3.2 0M450.06 681.09a1.6 1.6 0 1 0 3.2 0a1.6 1.6 0 1 0 -3.2 0M452.17 681.09a1.6 1.6 0 1 0 3.2 0a1.6 1.6 0 1 0 -3.2 0M453.41 681.09a1.6 1.6 0 1 0 3.2 0a1.6 1.6 0 1 0 -3.2 0M454.66 681.09a1.6 1.6 0 1 0 3.2 0a1.6 1.6 0 1 0 -3.2 0M455.9 681.09a1.6 1.6 0 1 0 3.2 0a1.6 1.6 0 1 0 -3.2 0M457.15 681.09a1.6 1.6 0 1 0 3.2 0a1.6 1.6 0 1 0 -3.2 0M462.86 681.09a1.6 1.6 0 1 0 3.2 0a1.6 1.6 0 1 0 -3.2 0M466.3 681.09a1.6 1.6 0 1 0 3.2 0a1.6 1.6 0 1 0 -3.2 0M473 681.09a1.6 1.6 0 1 0 3.2 0a1.6 1.6 0 1 0 -3.2 0M479.78 681.09a1.6 1.6 0 1 0 3.2 0a1.6 1.6 0 1 0 -3.2 0M485.05 681.09a1.6 1.6 0 1 0 3.2 0a1.6 1.6 0 1 0 -3.2 0M490.42 681.09a1.6 1.6 0 1 0 3.2 0a1.6 1.6 0 1 0 -3.2 0M504.81 681.09a1.6 1.6 0 1 0 3.2 0a1.6 1.6 0 1 0 -3.2 0M513.91 681.09a1.6 1.6 0 1 0 3.2 0a1.6 1.6 0 1 0 -3.2 0M545.39 681.09a1.6 1.6 0 1 0 3.2 0a1.6 1.6 0 1 0 -3.2 0" fill="#bf00bf"/><polyline points="64.8,559.64 79.81,566.26 92.07,571.68 102.43,576.25 111.41,580.22 119.34,583.71 126.42,586.84 132.83,589.67 138.68,592.25 144.07,594.63 149.05,596.83 153.69,598.88 158.03,600.79 162.11,602.59 165.95,604.29 169.59,605.9 173.04,607.42 176.32,608.87 179.45,610.25 182.43,611.57 185.3,612.83 188.04,614.04 190.68,615.21 193.22,616.33 195.66,617.41 198.02,618.45 200.3,619.46 202.51,620.43 204.64,621.37 206.71,622.29 208.72,623.17 210.67,624.03 212.56,624.87 214.41,625.68 216.2,626.48 217.95,627.25 219.65,628 221.31,628.73 222.93,629.45 224.51,630.15 226.06,630.83 227.57,631.49 229.05,632.15 230.5,632.79 231.91,633.41 233.3,634.02 234.66,634.62 235.99,635.21 237.29,635.79 238.58,636.35 239.83,636.91 241.07,637.45 242.28,637.99 243.47,638.51 244.64,639.03 245.79,639.54 246.92,640.04 248.03,640.53 249.12,641.01 250.2,641.48 251.26,641.95 252.3,642.41 253.33,642.87 254.34,643.31 255.34,643.75 256.32,644.18 257.28,644.61 258.24,645.03 259.18,645.45 260.11,645.86 261.02,646.26 261.92,646.66 262.81,647.05 263.69,647.44 264.56,647.82 265.42,648.2 266.26,648.58 267.1,648.95 267.93,649.31 268.74,649.67 269.55,650.02 270.34,650.38 271.13,650.72 271.91,651.07 272.67,651.41 273.43,651.74 274.19,652.07 274.93,652.4 275.66,652.73 276.39,653.05 277.11,653.36 277.82,653.68 278.53,653.99 279.22,654.3 279.91,654.6 280.6,654.9 281.27,655.2 281.94,655.5 282.6,655.79 283.26,656.08 283.91,656.37 284.55,656.65 285.19,656.93 285.82,657.21 286.45,657.49 287.07,657.76 287.68,658.03 288.29,658.3 288.89,658.57 289.49,658.83 290.08,659.09 290.67,659.35 291.25,659.61 291.83,659.86 292.4,660.11 292.97,660.37 293.53,660.61 294.09,660.86 294.64,661.1 295.19,661.35 295.74,661.59 296.28,661.83 296.81,662.06 297.35,662.3 297.87,662.53 298.4,662.76 298.92,662.99 299.43,663.22 299.94,663.44 300.45,663.67 300.95,663.89 301.45,664.11 301.95,664.33 302.44,664.55 302.93,664.76 303.42,664.98 303.9,665.19 304.38,665.4 304.85,665.61 305.32,665.82 305.79,666.03 306.26,666.23 306.72,666.44 307.18,666.64 307.64,666.84 308.09,667.04 308.54,667.24 308.99,667.44 309.43,667.63 309.87,667.83 310.31,668.02 310.74,668.21 311.18,668.4 311.61,668.59 312.03,668.78 312.46,668.97 312.88,669.15 313.3,669.34 313.71,669.52 314.13,669.71 314.54,669.89 314.95,670.07 315.35,670.25 315.76,670.43 316.16,670.6 316.56,670.78 316.96,670.95 317.35,671.13 317.74,671.3 318.13,671.47 318.52,671.65 318.91,671.82 319.29,671.98 319.67,672.15 320.05,672.32 320.43,672.49 320.8,672.65 321.17,672.82 321.54,672.98 321.91,673.14 322.28,673.3 322.64,673.46 323.01,673.63 323.37,673.78 323.72,673.94 324.08,674.1 324.44,674.26 324.79,674.41 325.14,674.57 325.49,674.72 325.84,674.88 326.18,675.03 326.53,675.18 326.87,675.33 327.21,675.48 327.55,675.63 327.89,675.78 328.99,676.27 330.09,676.75 331.19,677.24 332.29,677.72 333.39,678.21 334.49,678.69 335.59,679.18 336.69,679.67 337.79,680.15 338.89,680.64 339.99,681.12 341.09,681.61 342.19,682.1 343.29,682.58 344.39,683.07 345.49,683.55 346.59,684.04 347.7,684.52 348.8,685.01 349.9,685.5 351,685.98 352.1,686.47 353.2,686.95 354.3,687.44 355.4,687.93 356.5,688.41 357.6,688.9 358.7,689.38 359.8,689.87 360.9,690.35 362,690.84 363.1,691.33 364.2,691.81 365.3,692.3 366.4,692.78 367.5,693.27 368.61,693.76 369.71,694.24 370.81,694.73 371.91,695.21 373.01,695.7 374.11,696.18 375.21,696.67 376.31,697.16 377.41,697.64 378.51,698.13 379.61,698.61 380.71,699.1 381.81,699.59 382.91,700.07 384.01,700.56 385.11,701.04 386.21,701.53 387.31,702.01 388.41,702.5 389.52,702.99 390.62,703.47 391.72,703.96 392.82,704.44 393.92,704.93 395.02,705.42 396.12,705.9 397.22,706.39 398.32,706.87 399.42,707.36 400.52,707.84 401.62,708.33 402.72,708.82 403.82,709.3 404.92,709.79 406.02,710.27 407.12,710.76 408.22,711.25 409.32,711.73 410.43,712.22 411.53,712.7 412.63,713.19 413.73,713.67 414.83,714.16 415.93,714.65 417.03,715.13 418.13,715.62 419.23,716.1 420.33,716.59 421.43,717.08 422.53,717.56 423.63,718.05 424.73,718.53 425.83,719.02 426.93,719.51 428.03,719.99 429.13,720.48 430.23,720.96 431.34,721.45 432.44,721.93 433.54,722.42 434.64,722.91 435.74,723.39 436.84,723.88 437.94,724.36 439.04,724.85 440.14,725.34 441.24,725.82 442.34,726.31 443.44,726.79 444.54,727.28 445.64,727.76 446.74,728.25 447.84,728.74 448.94,729.22 450.04,729.71 451.14,730.19 452.25,730.68 453.35,731.17 454.45,731.65 455.55,732.14 456.65,732.62 457.75,733.11 458.85,733.59 459.95,734.08 461.05,734.57 462.15,735.05 463.25,735.54 464.35,736.02 465.45,736.51 466.55,737 467.65,737.48 468.75,737.97 469.85,738.45 470.95,738.94 472.05,739.42 473.16,739.91 474.26,740.4 475.36,740.88 476.46,741.37 477.56,741.85 478.66,742.34 479.76,742.83 480.86,743.31 481.96,743.8 483.06,744.28 484.16,744.77 485.26,745.25 486.36,745.74 487.46,746.23 488.56,746.71 489.66,747.2 490.76,747.68 491.86,748.17 492.96,748.66 494.07,749.14 495.17,749.63 496.27,750.11 497.37,750.6 498.47,751.08 499.57,751.57 500.67,752.06 501.77,752.54 502.87,753.03 503.97,753.51 505.07,754 506.17,754.49 507.27,754.97 508.37,755.46 509.47,755.94 510.57,756.43 511.67,756.91 512.77,757.4 513.87,757.89 514.98,758.37 516.08,758.86 517.18,759.34 518.28,759.83 519.38,760.32 520.48,760.8 521.58,761.29 522.68,761.77 523.78,762.26 524.88,762.74 525.98,763.23 527.08,763.72 528.18,764.2 529.28,764.69 530.38,765.17 531.48,765.66 532.58,766.15 533.68,766.63 534.78,767.12 535.89,767.6 536.99,768.09 538.09,768.57 539.19,769.06 540.29,769.55 541.39,770.03 542.49,770.52 543.59,771 544.69,771.49 545.79,771.98 546.89,772.46" fill="none" stroke="#2e922e" stroke-width="1.4" stroke-dasharray="4.41 1.91"/><polyline points="64.8,556.61 79.81,564.89 92.07,571.66 102.43,577.38 111.41,582.33 119.34,586.7 126.42,590.61 132.83,594.15 138.68,597.38 144.07,600.35 149.05,603.1 153.69,605.66 158.03,608.06 162.11,610.31 165.95,612.43 169.59,614.43 173.04,616.34 176.32,618.15 179.45,619.87 182.43,621.52 185.3,623.1 188.04,624.62 190.68,626.07 193.22,627.47 195.66,628.82 198.02,630.13 200.3,631.38 202.51,632.6 204.64,633.78 206.71,634.92 208.72,636.03 210.67,637.11 212.56,638.15 214.41,639.17 216.2,640.16 217.95,641.12 219.65,642.06 221.31,642.98 222.93,643.87 224.51,644.74 226.06,645.6 227.57,646.43 229.05,647.25 230.5,648.05 231.91,648.83 233.3,649.59 234.66,650.34 235.99,651.08 237.29,651.8 238.58,652.5 239.83,653.2 241.07,653.88 242.28,654.55 243.47,655.2 244.64,655.85 245.79,656.48 246.92,657.11 248.03,657.72 249.12,658.32 250.2,658.92 251.26,659.5 252.3,660.08 253.33,660.64 254.34,661.2 255.34,661.75 256.32,662.29 257.28,662.83 258.24,663.35 259.18,663.87 260.11,664.39 261.02,664.89 261.92,665.39 262.81,665.88 263.69,666.37 264.56,666.84 265.42,667.32 266.26,667.78 267.1,668.24 267.93,668.7 268.74,669.15 269.55,669.59 270.34,670.03 271.13,670.47 271.91,670.9 272.67,671.32 273.43,671.74 274.19,672.15 274.93,672.56 275.66,672.97 276.39,673.37 277.11,673.77 277.82,674.16 278.53,674.55 279.22,674.93 279.91,675.32 280.6,675.69 281.27,676.06 281.94,676.43 282.6,676.8 283.26,677.16 283.91,677.52 284.55,677.88 285.19,678.23 285.82,678.58 286.45,678.92 287.07,679.26 287.68,679.6 288.29,679.94 288.89,680.27 289.49,680.6 290.08,680.93 290.67,681.25 291.25,681.57 291.83,681.89 292.4,682.21 292.97,682.52 293.53,682.83 294.09,683.14 294.64,683.44 295.19,683.75 295.74,684.05 296.28,684.35 296.81,684.64 297.35,684.93 297.87,685.23 298.4,685.51 298.92,685.8 299.43,686.09 299.94,686.37 300.45,686.65 300.95,686.93 301.45,687.2 301.95,687.48 302.44,687.75 302.93,688.02 303.42,688.29 303.9,688.55 304.38,688.82 304.85,689.08 305.32,689.34 305.79,689.6 306.26,689.85 306.72,690.11 307.18,690.36 307.64,690.61 308.09,690.86 308.54,691.11 308.99,691.36 309.43,691.6 309.87,691.85 310.31,692.09 310.74,692.33 311.18,692.57 311.61,692.8 312.03,693.04 312.46,693.27 312.88,693.51 313.3,693.74 313.71,693.97 314.13,694.2 314.54,694.42 314.95,694.65 315.35,694.87 315.76,695.1 316.16,695.32 316.56,695.54 316.96,695.76 317.35,695.97 317.74,696.19 318.13,696.41 318.52,696.62 318.91,696.83 319.29,697.04 319.67,697.25 320.05,697.46 320.43,697.67 320.8,697.88 321.17,698.08 321.54,698.29 321.91,698.49 322.28,698.69 322.64,698.89 323.01,699.09 323.37,699.29 323.72,699.49 324.08,699.69 324.44,699.88 324.79,700.08 325.14,700.27 325.49,700.47 325.84,700.66 326.18,700.85 326.53,701.04 326.87,701.23 327.21,701.41 327.55,701.6 327.89,701.79 328.99,702.4 330.09,703 331.19,703.61 332.29,704.22 333.39,704.82 334.49,705.43 335.59,706.04 336.69,706.65 337.79,707.25 338.89,707.86 339.99,708.47 341.09,709.08 342.19,709.68 343.29,710.29 344.39,710.9 345.49,711.5 346.59,712.11 347.7,712.72 348.8,713.33 349.9,713.93 351,714.54 352.1,715.15 353.2,715.76 354.3,716.36 355.4,716.97 356.5,717.58 357.6,718.18 358.7,718.79 359.8,719.4 360.9,720.01 362,720.61 363.1,721.22 364.2,721.83 365.3,722.44 366.4,723.04 367.5,723.65 368.61,724.26 369.71,724.87 370.81,725.47 371.91,726.08 373.01,726.69 374.11,727.29 375.21,727.9 376.31,728.51 377.41,729.12 378.51,729.72 379.61,730.33 380.71,730.94 381.81,731.55 382.91,732.15 384.01,732.76 385.11,733.37 386.21,733.97 387.31,734.58 388.41,735.19 389.52,735.8 390.62,736.4 391.72,737.01 392.82,737.62 393.92,738.23 395.02,738.83 396.12,739.44 397.22,740.05 398.32,740.65 399.42,741.26 400.52,741.87 401.62,742.48 402.72,743.08 403.82,743.69 404.92,744.3 406.02,744.91 407.12,745.51 408.22,746.12 409.32,746.73 410.43,747.34 411.53,747.94 412.63,748.55 413.73,749.16 414.83,749.76 415.93,750.37 417.03,750.98 418.13,751.59 419.23,752.19 420.33,752.8 421.43,753.41 422.53,754.02 423.63,754.62 424.73,755.23 425.83,755.84 426.93,756.44 428.03,757.05 429.13,757.66 430.23,758.27 431.34,758.87 432.44,759.48 433.54,760.09 434.64,760.7 435.74,761.3 436.84,761.91 437.94,762.52 439.04,763.13 440.14,763.73 441.24,764.34 442.34,764.95 443.44,765.55 444.54,766.16 445.64,766.77 446.74,767.38 447.84,767.98 448.94,768.59 450.04,769.2 451.14,769.81 452.25,770.41 453.35,771.02 454.45,771.63 455.55,772.23 456.65,772.84 457.75,773.45 458.85,774.06 459.95,774.66 461.05,775.27 462.15,775.88 463.25,776.49 464.35,777.09 465.45,777.7 466.55,778.31 467.65,778.91 468.75,779.52 469.85,780.13 470.95,780.74 472.05,781.34 473.16,781.95 474.26,782.56 475.36,783.17 476.46,783.77 477.56,784.38 478.66,784.99 479.76,785.6 480.86,786.2 481.96,786.81 483.06,787.42 484.16,788.02 485.26,788.63 486.36,789.24 487.46,789.85 488.56,790.45 489.66,791.06 490.76,791.67 491.86,792.28 492.96,792.88 494.07,793.49 495.17,794.1 496.27,794.7 497.37,795.31 498.47,795.92 499.57,796.53 500.67,797.13 501.77,797.74 502.87,798.35 503.97,798.96 505.07,799.56 506.17,800.17 507.27,800.78 508.37,801.38 509.47,801.99 510.57,802.6 511.67,803.21 512.77,803.81 513.87,804.42 514.98,805.03 516.08,805.64 517.18,806.24 518.28,806.85 519.38,807.46 520.48,808.07 521.58,808.67 522.68,809.28 523.78,809.89 524.88,810.49 525.98,811.1 527.08,811.71 528.18,812.32 529.28,812.92 530.38,813.53 531.48,814.14 532.58,814.75 533.68,815.35 534.78,815.96 535.89,816.57 536.99,817.17 538.09,817.78 539.19,818.39 540.29,819 541.39,819.6 542.49,820.21 543.59,820.82 544.69,821.43 545.79,822.03 546.89,822.64" fill="none" stroke="#3434f0" stroke-width="1.4" stroke-dasharray="4.41 1.91"/><polyline points="64.8,554.98 79.81,564.92 92.07,573.04 102.43,579.9 111.41,585.85 119.34,591.09 126.42,595.79 132.83,600.03 138.68,603.91 144.07,607.47 149.05,610.77 153.69,613.84 158.03,616.72 162.11,619.42 165.95,621.96 169.59,624.37 173.04,626.65 176.32,628.83 179.45,630.9 182.43,632.88 185.3,634.77 188.04,636.59 190.68,638.34 193.22,640.02 195.66,641.64 198.02,643.2 200.3,644.71 202.51,646.17 204.64,647.58 206.71,648.96 208.72,650.28 210.67,651.58 212.56,652.83 214.41,654.05 216.2,655.24 217.95,656.39 219.65,657.52 221.31,658.62 222.93,659.69 224.51,660.74 226.06,661.77 227.57,662.77 229.05,663.75 230.5,664.7 231.91,665.64 233.3,666.56 234.66,667.46 235.99,668.34 237.29,669.21 238.58,670.05 239.83,670.89 241.07,671.7 242.28,672.51 243.47,673.29 244.64,674.07 245.79,674.83 246.92,675.58 248.03,676.31 249.12,677.04 250.2,677.75 251.26,678.45 252.3,679.14 253.33,679.82 254.34,680.49 255.34,681.15 256.32,681.8 257.28,682.44 258.24,683.07 259.18,683.7 260.11,684.31 261.02,684.92 261.92,685.52 262.81,686.11 263.69,686.69 264.56,687.26 265.42,687.83 266.26,688.39 267.1,688.94 267.93,689.49 268.74,690.03 269.55,690.56 270.34,691.09 271.13,691.61 271.91,692.12 272.67,692.63 273.43,693.14 274.19,693.63 274.93,694.13 275.66,694.61 276.39,695.09 277.11,695.57 277.82,696.04 278.53,696.51 279.22,696.97 279.91,697.43 280.6,697.88 281.27,698.33 281.94,698.77 282.6,699.21 283.26,699.64 283.91,700.07 284.55,700.5 285.19,700.92 285.82,701.34 286.45,701.75 287.07,702.16 287.68,702.57 288.29,702.97 288.89,703.37 289.49,703.77 290.08,704.16 290.67,704.55 291.25,704.94 291.83,705.32 292.4,705.7 292.97,706.07 293.53,706.45 294.09,706.82 294.64,707.18 295.19,707.55 295.74,707.91 296.28,708.26 296.81,708.62 297.35,708.97 297.87,709.32 298.4,709.67 298.92,710.01 299.43,710.35 299.94,710.69 300.45,711.03 300.95,711.36 301.45,711.69 301.95,712.02 302.44,712.35 302.93,712.67 303.42,712.99 303.9,713.31 304.38,713.63 304.85,713.94 305.32,714.25 305.79,714.57 306.26,714.87 306.72,715.18 307.18,715.48 307.64,715.79 308.09,716.09 308.54,716.38 308.99,716.68 309.43,716.97 309.87,717.26 310.31,717.55 310.74,717.84 311.18,718.13 311.61,718.41 312.03,718.7 312.46,718.98 312.88,719.26 313.3,719.53 313.71,719.81 314.13,720.08 314.54,720.36 314.95,720.63 315.35,720.9 315.76,721.16 316.16,721.43 316.56,721.69 316.96,721.96 317.35,722.22 317.74,722.48 318.13,722.74 318.52,722.99 318.91,723.25 319.29,723.5 319.67,723.75 320.05,724 320.43,724.25 320.8,724.5 321.17,724.75 321.54,724.99 321.91,725.24 322.28,725.48 322.64,725.72 323.01,725.96 323.37,726.2 323.72,726.44 324.08,726.67 324.44,726.91 324.79,727.14 325.14,727.38 325.49,727.61 325.84,727.84 326.18,728.07 326.53,728.29 326.87,728.52 327.21,728.75 327.55,728.97 327.89,729.19 328.99,729.92 330.09,730.65 331.19,731.38 332.29,732.11 333.39,732.84 334.49,733.57 335.59,734.3 336.69,735.02 337.79,735.75 338.89,736.48 339.99,737.21 341.09,737.94 342.19,738.67 343.29,739.4 344.39,740.13 345.49,740.85 346.59,741.58 347.7,742.31 348.8,743.04 349.9,743.77 351,744.5 352.1,745.23 353.2,745.96 354.3,746.68 355.4,747.41 356.5,748.14 357.6,748.87 358.7,749.6 359.8,750.33 360.9,751.06 362,751.79 363.1,752.51 364.2,753.24 365.3,753.97 366.4,754.7 367.5,755.43 368.61,756.16 369.71,756.89 370.81,757.62 371.91,758.34 373.01,759.07 374.11,759.8 375.21,760.53 376.31,761.26 377.41,761.99 378.51,762.72 379.61,763.45 380.71,764.17 381.81,764.9 382.91,765.63 384.01,766.36 385.11,767.09 386.21,767.82 387.31,768.55 388.41,769.28 389.52,770 390.62,770.73 391.72,771.46 392.82,772.19 393.92,772.92 395.02,773.65 396.12,774.38 397.22,775.11 398.32,775.83 399.42,776.56 400.52,777.29 401.62,778.02 402.72,778.75 403.82,779.48 404.92,780.21 406.02,780.94 407.12,781.66 408.22,782.39 409.32,783.12 410.43,783.85 411.53,784.58 412.63,785.31 413.73,786.04 414.83,786.77 415.93,787.49 417.03,788.22 418.13,788.95 419.23,789.68 420.33,790.41 421.43,791.14 422.53,791.87 423.63,792.6 424.73,793.32 425.83,794.05 426.93,794.78 428.03,795.51 429.13,796.24 430.23,796.97 431.34,797.7 432.44,798.43 433.54,799.15 434.64,799.88 435.74,800.61 436.84,801.34 437.94,802.07 439.04,802.8 440.14,803.53 441.24,804.26 442.34,804.99 443.44,805.71 444.54,806.44 445.64,807.17 446.74,807.9 447.84,808.63 448.94,809.36 450.04,810.09 451.14,810.82 452.25,811.54 453.35,812.27 454.45,813 455.55,813.73 456.65,814.46 457.75,815.19 458.85,815.92 459.95,816.65 461.05,817.37 462.15,818.1 463.25,818.83 464.35,819.56 465.45,820.29 466.55,821.02 467.65,821.75 468.75,822.48 469.85,823.2 470.95,823.93 472.05,824.66 473.16,825.39 474.26,826.12 475.36,826.85 476.46,827.58 477.56,828.31 478.66,829.03 479.76,829.76 480.86,830.49 481.96,831.22 483.06,831.95 484.16,832.68 485.26,833.41 486.36,834.14 487.46,834.86 488.56,835.59 489.66,836.32 490.76,837.05 491.86,837.78 492.96,838.51 494.07,839.24 495.17,839.97 496.27,840.69 497.37,841.42 498.47,842.15 499.57,842.88 500.67,843.61 501.77,844.34 502.87,845.07 503.97,845.8 505.07,846.52 506.17,847.25 507.27,847.98 508.37,848.71 509.47,849.44 510.57,850.17 511.67,850.9 512.77,851.63 513.87,852.35 514.98,853.08 516.08,853.81 517.18,854.54 518.28,855.27 519.38,856 520.48,856.73 521.58,857.46 522.68,858.18 523.78,858.91 524.88,859.64 525.98,860.37 527.08,861.1 528.18,861.83 529.28,862.56 530.38,863.29 531.48,864.01 532.58,864.74 533.68,865.47 534.78,866.2 535.89,866.93 536.99,867.66 538.09,868.39 539.19,869.12 540.29,869.84 541.39,870.57 542.49,871.3 543.59,872.03 544.69,872.76 545.79,873.49 546.89,874.22" fill="none" stroke="#f03c3c" stroke-width="1.4" stroke-dasharray="4.41 1.91"/></g>
<rect x="40.9" y="539" width="530.5" height="351.3" fill="none" stroke="#333" stroke-width="0.8"/>
<path d="M49.79 890.3v1.6M57.71 890.3v1.6M64.8 890.3v3.1M111.41 890.3v1.6M138.68 890.3v1.6M158.03 890.3v1.6M173.04 890.3v1.6M185.3 890.3v1.6M195.66 890.3v1.6M204.64 890.3v1.6M212.56 890.3v1.6M219.65 890.3v3.1M266.26 890.3v1.6M293.53 890.3v1.6M312.88 890.3v1.6M327.89 890.3v1.6M340.15 890.3v1.6M350.51 890.3v1.6M359.49 890.3v1.6M367.41 890.3v1.6M374.5 890.3v3.1M421.11 890.3v1.6M448.38 890.3v1.6M467.73 890.3v1.6M482.74 890.3v1.6M495 890.3v1.6M505.36 890.3v1.6M514.34 890.3v1.6M522.26 890.3v1.6M529.35 890.3v3.1M40.9 552.25h-3.1M40.9 620.61h-3.1M40.9 688.97h-3.1M40.9 757.33h-3.1M40.9 825.69h-3.1" stroke="#333" stroke-width="0.64" fill="none"/>
<text transform="matrix(0.8998 0 0 1 0 0)" x="64.89 69.84" y="904.05" font-family="&quot;Liberation Sans&quot;, sans-serif" font-size="8.9" fill="#1e1e1e">10</text><text x="67.58" y="900.75" font-family="&quot;Liberation Sans&quot;, sans-serif" font-size="5.6" fill="#1e1e1e">0</text>
<text transform="matrix(0.8998 0 0 1 0 0)" x="237.07 242.02" y="904.05" font-family="&quot;Liberation Sans&quot;, sans-serif" font-size="8.9" fill="#1e1e1e">10</text><text x="222.5" y="900.75" font-family="&quot;Liberation Sans&quot;, sans-serif" font-size="5.6" fill="#1e1e1e">1</text>
<text transform="matrix(0.8998 0 0 1 0 0)" x="409.19 414.14" y="904.05" font-family="&quot;Liberation Sans&quot;, sans-serif" font-size="8.9" fill="#1e1e1e">10</text><text x="377.37" y="900.75" font-family="&quot;Liberation Sans&quot;, sans-serif" font-size="5.6" fill="#1e1e1e">2</text>
<text transform="matrix(0.8998 0 0 1 0 0)" x="581.23 586.18" y="904.05" font-family="&quot;Liberation Sans&quot;, sans-serif" font-size="8.9" fill="#1e1e1e">10</text><text x="532.17" y="900.75" font-family="&quot;Liberation Sans&quot;, sans-serif" font-size="5.6" fill="#1e1e1e">3</text>
<text transform="matrix(0.8998 0 0 1 0 0)" x="23.94 28.89" y="555.85" font-family="&quot;Liberation Sans&quot;, sans-serif" font-size="8.9" fill="#1e1e1e">10</text><text x="30.74" y="552.55" font-family="&quot;Liberation Sans&quot;, sans-serif" font-size="5.6" fill="#1e1e1e">0</text>
<text transform="matrix(0.8998 0 0 1 0 0)" x="19.31 24.26" y="624.21" font-family="&quot;Liberation Sans&quot;, sans-serif" font-size="8.9" fill="#1e1e1e">10</text><text transform="matrix(1.1960 0 0 1 0 0)" x="22.32 25.59" y="620.91" font-family="&quot;Liberation Sans&quot;, sans-serif" font-size="5.6" fill="#1e1e1e">−2</text>
<text transform="matrix(0.8998 0 0 1 0 0)" x="19.06 24.01" y="692.57" font-family="&quot;Liberation Sans&quot;, sans-serif" font-size="8.9" fill="#1e1e1e">10</text><text transform="matrix(1.1960 0 0 1 0 0)" x="22.13 25.4" y="689.27" font-family="&quot;Liberation Sans&quot;, sans-serif" font-size="5.6" fill="#1e1e1e">−4</text>
<text transform="matrix(0.8998 0 0 1 0 0)" x="19.1 24.05" y="760.93" font-family="&quot;Liberation Sans&quot;, sans-serif" font-size="8.9" fill="#1e1e1e">10</text><text transform="matrix(1.1960 0 0 1 0 0)" x="22.16 25.43" y="757.63" font-family="&quot;Liberation Sans&quot;, sans-serif" font-size="5.6" fill="#1e1e1e">−6</text>
<text transform="matrix(0.8998 0 0 1 0 0)" x="19.13 24.08" y="829.29" font-family="&quot;Liberation Sans&quot;, sans-serif" font-size="8.9" fill="#1e1e1e">10</text><text transform="matrix(1.1960 0 0 1 0 0)" x="22.19 25.46" y="825.99" font-family="&quot;Liberation Sans&quot;, sans-serif" font-size="5.6" fill="#1e1e1e">−8</text>
<text transform="matrix(1.0259 0 0 1 0 0)" x="187.23 194.52 200.33 206.33 209.74 215.46 221.22 223.99 231.43 233.71 239.09 242.54 246.31 248.83 254.72 260.92 264.32 266.73 272.52 278.37 281.42 283.94 289.79 292.85 295.26 301.05 306.82 310.36 312.77 318.56 324.42 326.84 333.2 338.31 344.17 346.6 352.36 355.25 361.16 364.27 366.93 373.24 378.2 385.13 388.42 395.78 400.74" y="534.05" font-family="&quot;Liberation Sans&quot;, sans-serif" font-size="10.29" fill="#1e1e1e">Degree Distribution in log-log Scale of BTC-OTC</text>
<text transform="matrix(1.0415 0 0 1 0 0)" x="274.64 280.64 285.4 290.34 293.13 297.82 302.57 304.99 307.46" y="916.2" font-family="&quot;Liberation Sans&quot;, sans-serif" font-size="8.58" fill="#1e1e1e">Degree, k</text>
<g transform="translate(9.6 714.95) rotate(-90)"><text transform="matrix(1.0677 0 0 1 0 0)" x="-49.57 -44.49 -41.81 -37.18 -32.54 -27.9 -23.08 -21.01 -18.95 -16.69 -13.99 -9.65 -7.51 -1.47 0.31 4.65 7.4 10.44 12.4 17.12 22.13 24.86 26.73 31.36 36.09 38.46" y="0" font-family="&quot;Liberation Sans&quot;, sans-serif" font-size="8.58" fill="#1e1e1e">Probability Distribution, </text><text x="43.13" y="0" font-family="&quot;Liberation Sans&quot;, sans-serif" font-size="8.58" font-style="italic" fill="#1e1e1e">P</text><text x="48.19" y="1.5" font-family="&quot;Liberation Sans&quot;, sans-serif" font-size="6" font-style="italic" fill="#1e1e1e">k</text></g>
<rect x="504.1" y="543" width="63.4" height="55.3" rx="2.2" fill="#fff" fill-opacity="0.8" stroke="#d6d6d6" stroke-width="0.8"/>
<circle cx="515.4" cy="549.85" r="1.6" fill="#bf00bf"/>
<text transform="matrix(0.9277 0 0 1 0 0)" x="570.68 576.47 581.09 587.29 590.53 597.23 601.85" y="552.5" font-family="&quot;Liberation Sans&quot;, sans-serif" font-size="8.58" fill="#1e1e1e">BTC-OTC</text>
<line x1="507.1" y1="562.1" x2="523.1" y2="562.1" stroke="#2e922e" stroke-width="1.4" stroke-dasharray="4.41 1.91"/>
<text x="530.32" y="564" font-family="&quot;Liberation Sans&quot;, sans-serif" font-size="8.58" font-style="italic" fill="#1e1e1e">γ</text>
<text transform="matrix(1.1291 0 0 1 0 0)" x="474.1 479.48 481.64 486.19 488.35" y="564" font-family="&quot;Liberation Sans&quot;, sans-serif" font-size="8.58" fill="#1e1e1e">= 2.0</text>
<line x1="507.1" y1="576" x2="523.1" y2="576" stroke="#3434f0" stroke-width="1.4" stroke-dasharray="4.41 1.91"/>
<text x="530.32" y="577.9" font-family="&quot;Liberation Sans&quot;, sans-serif" font-size="8.58" font-style="italic" fill="#1e1e1e">γ</text>
<text transform="matrix(1.1291 0 0 1 0 0)" x="474.1 479.48 481.64 486.19 488.35" y="577.9" font-family="&quot;Liberation Sans&quot;, sans-serif" font-size="8.58" fill="#1e1e1e">= 2.5</text>
<line x1="507.1" y1="589.05" x2="523.1" y2="589.05" stroke="#f03c3c" stroke-width="1.4" stroke-dasharray="4.41 1.91"/>
<text x="530.32" y="590.95" font-family="&quot;Liberation Sans&quot;, sans-serif" font-size="8.58" font-style="italic" fill="#1e1e1e">γ</text>
<text transform="matrix(1.1291 0 0 1 0 0)" x="474.1 479.48 481.64 486.19 488.35" y="590.95" font-family="&quot;Liberation Sans&quot;, sans-serif" font-size="8.58" fill="#1e1e1e">= 3.0</text>
<clipPath id="clipd"><rect x="666.6" y="537" width="530.6" height="351.2"/></clipPath>
<path d="M690.6 537V888.2M845.5 537V888.2M1000.4 537V888.2M1155.3 537V888.2M666.6 567.7H1197.2M666.6 635H1197.2M666.6 702.3H1197.2M666.6 769.6H1197.2M666.6 836.9H1197.2" stroke="#d6d6d6" stroke-width="0.64" stroke-dasharray="1.2 0.8" fill="none"/>
<g clip-path="url(#clipd)"><path d="M689 562.54a1.6 1.6 0 1 0 3.2 0a1.6 1.6 0 1 0 -3.2 0M735.63 552.79a1.6 1.6 0 1 0 3.2 0a1.6 1.6 0 1 0 -3.2 0M762.91 574.16a1.6 1.6 0 1 0 3.2 0a1.6 1.6 0 1 0 -3.2 0M782.26 566.98a1.6 1.6 0 1 0 3.2 0a1.6 1.6 0 1 0 -3.2 0M797.27 579.85a1.6 1.6 0 1 0 3.2 0a1.6 1.6 0 1 0 -3.2 0M809.54 576.41a1.6 1.6 0 1 0 3.2 0a1.6 1.6 0 1 0 -3.2 0M819.91 587.19a1.6 1.6 0 1 0 3.2 0a1.6 1.6 0 1 0 -3.2 0M828.89 584.29a1.6 1.6 0 1 0 3.2 0a1.6 1.6 0 1 0 -3.2 0M836.81 591.68a1.6 1.6 0 1 0 3.2 0a1.6 1.6 0 1 0 -3.2 0M843.9 588.89a1.6 1.6 0 1 0 3.2 0a1.6 1.6 0 1 0 -3.2 0M850.31 594.97a1.6 1.6 0 1 0 3.2 0a1.6 1.6 0 1 0 -3.2 0M856.17 594.97a1.6 1.6 0 1 0 3.2 0a1.6 1.6 0 1 0 -3.2 0M861.55 601.06a1.6 1.6 0 1 0 3.2 0a1.6 1.6 0 1 0 -3.2 0M866.54 600.11a1.6 1.6 0 1 0 3.2 0a1.6 1.6 0 1 0 -3.2 0M871.18 601.81a1.6 1.6 0 1 0 3.2 0a1.6 1.6 0 1 0 -3.2 0M875.52 600.82a1.6 1.6 0 1 0 3.2 0a1.6 1.6 0 1 0 -3.2 0M879.6 605.26a1.6 1.6 0 1 0 3.2 0a1.6 1.6 0 1 0 -3.2 0M883.44 605.93a1.6 1.6 0 1 0 3.2 0a1.6 1.6 0 1 0 -3.2 0M887.08 608.12a1.6 1.6 0 1 0 3.2 0a1.6 1.6 0 1 0 -3.2 0M890.53 607.35a1.6 1.6 0 1 0 3.2 0a1.6 1.6 0 1 0 -3.2 0M893.81 608.93a1.6 1.6 0 1 0 3.2 0a1.6 1.6 0 1 0 -3.2 0M896.94 618.65a1.6 1.6 0 1 0 3.2 0a1.6 1.6 0 1 0 -3.2 0M899.93 610.24a1.6 1.6 0 1 0 3.2 0a1.6 1.6 0 1 0 -3.2 0M902.79 614.45a1.6 1.6 0 1 0 3.2 0a1.6 1.6 0 1 0 -3.2 0M905.54 613.85a1.6 1.6 0 1 0 3.2 0a1.6 1.6 0 1 0 -3.2 0M908.18 617.11a1.6 1.6 0 1 0 3.2 0a1.6 1.6 0 1 0 -3.2 0M910.72 622.32a1.6 1.6 0 1 0 3.2 0a1.6 1.6 0 1 0 -3.2 0M913.16 624.58a1.6 1.6 0 1 0 3.2 0a1.6 1.6 0 1 0 -3.2 0M915.53 630.5a1.6 1.6 0 1 0 3.2 0a1.6 1.6 0 1 0 -3.2 0M917.81 618.65a1.6 1.6 0 1 0 3.2 0a1.6 1.6 0 1 0 -3.2 0M920.01 621.32a1.6 1.6 0 1 0 3.2 0a1.6 1.6 0 1 0 -3.2 0M922.15 624.58a1.6 1.6 0 1 0 3.2 0a1.6 1.6 0 1 0 -3.2 0M924.22 617.11a1.6 1.6 0 1 0 3.2 0a1.6 1.6 0 1 0 -3.2 0M926.23 618.65a1.6 1.6 0 1 0 3.2 0a1.6 1.6 0 1 0 -3.2 0M928.18 623.41a1.6 1.6 0 1 0 3.2 0a1.6 1.6 0 1 0 -3.2 0M930.07 625.85a1.6 1.6 0 1 0 3.2 0a1.6 1.6 0 1 0 -3.2 0M931.91 620.37a1.6 1.6 0 1 0 3.2 0a1.6 1.6 0 1 0 -3.2 0M933.71 620.37a1.6 1.6 0 1 0 3.2 0a1.6 1.6 0 1 0 -3.2 0M935.46 624.58a1.6 1.6 0 1 0 3.2 0a1.6 1.6 0 1 0 -3.2 0M937.16 625.85a1.6 1.6 0 1 0 3.2 0a1.6 1.6 0 1 0 -3.2 0M938.82 634.71a1.6 1.6 0 1 0 3.2 0a1.6 1.6 0 1 0 -3.2 0M940.44 625.85a1.6 1.6 0 1 0 3.2 0a1.6 1.6 0 1 0 -3.2 0M942.02 630.5a1.6 1.6 0 1 0 3.2 0a1.6 1.6 0 1 0 -3.2 0M943.57 634.71a1.6 1.6 0 1 0 3.2 0a1.6 1.6 0 1 0 -3.2 0M945.08 637.37a1.6 1.6 0 1 0 3.2 0a1.6 1.6 0 1 0 -3.2 0M946.56 637.37a1.6 1.6 0 1 0 3.2 0a1.6 1.6 0 1 0 -3.2 0M948.01 640.63a1.6 1.6 0 1 0 3.2 0a1.6 1.6 0 1 0 -3.2 0M949.42 634.71a1.6 1.6 0 1 0 3.2 0a1.6 1.6 0 1 0 -3.2 0M950.81 632.45a1.6 1.6 0 1 0 3.2 0a1.6 1.6 0 1 0 -3.2 0M952.17 632.45a1.6 1.6 0 1 0 3.2 0a1.6 1.6 0 1 0 -3.2 0M953.5 637.37a1.6 1.6 0 1 0 3.2 0a1.6 1.6 0 1 0 -3.2 0M954.81 640.63a1.6 1.6 0 1 0 3.2 0a1.6 1.6 0 1 0 -3.2 0M956.09 644.84a1.6 1.6 0 1 0 3.2 0a1.6 1.6 0 1 0 -3.2 0M957.35 625.85a1.6 1.6 0 1 0 3.2 0a1.6 1.6 0 1 0 -3.2 0M958.58 630.5a1.6 1.6 0 1 0 3.2 0a1.6 1.6 0 1 0 -3.2 0M959.79 637.37a1.6 1.6 0 1 0 3.2 0a1.6 1.6 0 1 0 -3.2 0M960.99 637.37a1.6 1.6 0 1 0 3.2 0a1.6 1.6 0 1 0 -3.2 0M962.15 644.84a1.6 1.6 0 1 0 3.2 0a1.6 1.6 0 1 0 -3.2 0M963.3 634.71a1.6 1.6 0 1 0 3.2 0a1.6 1.6 0 1 0 -3.2 0M964.77 634.71a1.6 1.6 0 1 0 3.2 0a1.6 1.6 0 1 0 -3.2 0M966.75 637.37a1.6 1.6 0 1 0 3.2 0a1.6 1.6 0 1 0 -3.2 0M968.25 637.37a1.6 1.6 0 1 0 3.2 0a1.6 1.6 0 1 0 -3.2 0M969.61 637.37a1.6 1.6 0 1 0 3.2 0a1.6 1.6 0 1 0 -3.2 0M965.55 644.84a1.6 1.6 0 1 0 3.2 0a1.6 1.6 0 1 0 -3.2 0M967.72 644.84a1.6 1.6 0 1 0 3.2 0a1.6 1.6 0 1 0 -3.2 0M968.78 644.84a1.6 1.6 0 1 0 3.2 0a1.6 1.6 0 1 0 -3.2 0M969.82 650.76a1.6 1.6 0 1 0 3.2 0a1.6 1.6 0 1 0 -3.2 0M971.86 650.76a1.6 1.6 0 1 0 3.2 0a1.6 1.6 0 1 0 -3.2 0M972.86 634.71a1.6 1.6 0 1 0 3.2 0a1.6 1.6 0 1 0 -3.2 0M974.32 640.63a1.6 1.6 0 1 0 3.2 0a1.6 1.6 0 1 0 -3.2 0M974.9 630.5a1.6 1.6 0 1 0 3.2 0a1.6 1.6 0 1 0 -3.2 0M976.04 650.76a1.6 1.6 0 1 0 3.2 0a1.6 1.6 0 1 0 -3.2 0M977.17 644.84a1.6 1.6 0 1 0 3.2 0a1.6 1.6 0 1 0 -3.2 0M979.45 637.37a1.6 1.6 0 1 0 3.2 0a1.6 1.6 0 1 0 -3.2 0M982.26 637.37a1.6 1.6 0 1 0 3.2 0a1.6 1.6 0 1 0 -3.2 0M983.37 650.76a1.6 1.6 0 1 0 3.2 0a1.6 1.6 0 1 0 -3.2 0M987.71 630.5a1.6 1.6 0 1 0 3.2 0a1.6 1.6 0 1 0 -3.2 0M989.43 650.76a1.6 1.6 0 1 0 3.2 0a1.6 1.6 0 1 0 -3.2 0M991.71 650.76a1.6 1.6 0 1 0 3.2 0a1.6 1.6 0 1 0 -3.2 0M993.92 650.76a1.6 1.6 0 1 0 3.2 0a1.6 1.6 0 1 0 -3.2 0M995.91 650.76a1.6 1.6 0 1 0 3.2 0a1.6 1.6 0 1 0 -3.2 0M993.92 644.84a1.6 1.6 0 1 0 3.2 0a1.6 1.6 0 1 0 -3.2 0M996.05 644.84a1.6 1.6 0 1 0 3.2 0a1.6 1.6 0 1 0 -3.2 0M997.44 644.84a1.6 1.6 0 1 0 3.2 0a1.6 1.6 0 1 0 -3.2 0M999.47 644.84a1.6 1.6 0 1 0 3.2 0a1.6 1.6 0 1 0 -3.2 0M1000.79 640.63a1.6 1.6 0 1 0 3.2 0a1.6 1.6 0 1 0 -3.2 0M1003.73 644.84a1.6 1.6 0 1 0 3.2 0a1.6 1.6 0 1 0 -3.2 0M1005.82 640.63a1.6 1.6 0 1 0 3.2 0a1.6 1.6 0 1 0 -3.2 0M1007.61 640.63a1.6 1.6 0 1 0 3.2 0a1.6 1.6 0 1 0 -3.2 0M1006.78 644.84a1.6 1.6 0 1 0 3.2 0a1.6 1.6 0 1 0 -3.2 0M1011.62 644.84a1.6 1.6 0 1 0 3.2 0a1.6 1.6 0 1 0 -3.2 0M1005.82 650.76a1.6 1.6 0 1 0 3.2 0a1.6 1.6 0 1 0 -3.2 0M1009.36 650.76a1.6 1.6 0 1 0 3.2 0a1.6 1.6 0 1 0 -3.2 0M1011.62 650.76a1.6 1.6 0 1 0 3.2 0a1.6 1.6 0 1 0 -3.2 0M1015.72 650.76a1.6 1.6 0 1 0 3.2 0a1.6 1.6 0 1 0 -3.2 0M1018.84 650.76a1.6 1.6 0 1 0 3.2 0a1.6 1.6 0 1 0 -3.2 0M1020.95 650.76a1.6 1.6 0 1 0 3.2 0a1.6 1.6 0 1 0 -3.2 0M1025.17 650.76a1.6 1.6 0 1 0 3.2 0a1.6 1.6 0 1 0 -3.2 0M1029.14 650.76a1.6 1.6 0 1 0 3.2 0a1.6 1.6 0 1 0 -3.2 0M1041.62 650.76a1.6 1.6 0 1 0 3.2 0a1.6 1.6 0 1 0 -3.2 0M1046.43 644.84a1.6 1.6 0 1 0 3.2 0a1.6 1.6 0 1 0 -3.2 0M963.3 660.89a1.6 1.6 0 1 0 3.2 0a1.6 1.6 0 1 0 -3.2 0M977.63 660.89a1.6 1.6 0 1 0 3.2 0a1.6 1.6 0 1 0 -3.2 0M980.34 660.89a1.6 1.6 0 1 0 3.2 0a1.6 1.6 0 1 0 -3.2 0M982.94 660.89a1.6 1.6 0 1 0 3.2 0a1.6 1.6 0 1 0 -3.2 0M985.45 660.89a1.6 1.6 0 1 0 3.2 0a1.6 1.6 0 1 0 -3.2 0M987.87 660.89a1.6 1.6 0 1 0 3.2 0a1.6 1.6 0 1 0 -3.2 0M990.2 660.89a1.6 1.6 0 1 0 3.2 0a1.6 1.6 0 1 0 -3.2 0M992.46 660.89a1.6 1.6 0 1 0 3.2 0a1.6 1.6 0 1 0 -3.2 0M997.78 660.89a1.6 1.6 0 1 0 3.2 0a1.6 1.6 0 1 0 -3.2 0M1002.08 660.89a1.6 1.6 0 1 0 3.2 0a1.6 1.6 0 1 0 -3.2 0M1003.98 660.89a1.6 1.6 0 1 0 3.2 0a1.6 1.6 0 1 0 -3.2 0M1005.82 660.89a1.6 1.6 0 1 0 3.2 0a1.6 1.6 0 1 0 -3.2 0M1008.78 660.89a1.6 1.6 0 1 0 3.2 0a1.6 1.6 0 1 0 -3.2 0M1013.81 660.89a1.6 1.6 0 1 0 3.2 0a1.6 1.6 0 1 0 -3.2 0M1015.11 660.89a1.6 1.6 0 1 0 3.2 0a1.6 1.6 0 1 0 -3.2 0M1016.41 660.89a1.6 1.6 0 1 0 3.2 0a1.6 1.6 0 1 0 -3.2 0M1017.71 660.89a1.6 1.6 0 1 0 3.2 0a1.6 1.6 0 1 0 -3.2 0M1019.01 660.89a1.6 1.6 0 1 0 3.2 0a1.6 1.6 0 1 0 -3.2 0M1020.31 660.89a1.6 1.6 0 1 0 3.2 0a1.6 1.6 0 1 0 -3.2 0M1021.61 660.89a1.6 1.6 0 1 0 3.2 0a1.6 1.6 0 1 0 -3.2 0M1022.91 660.89a1.6 1.6 0 1 0 3.2 0a1.6 1.6 0 1 0 -3.2 0M1024.21 660.89a1.6 1.6 0 1 0 3.2 0a1.6 1.6 0 1 0 -3.2 0M1025.51 660.89a1.6 1.6 0 1 0 3.2 0a1.6 1.6 0 1 0 -3.2 0M1026.81 660.89a1.6 1.6 0 1 0 3.2 0a1.6 1.6 0 1 0 -3.2 0M1028.11 660.89a1.6 1.6 0 1 0 3.2 0a1.6 1.6 0 1 0 -3.2 0M1029.41 660.89a1.6 1.6 0 1 0 3.2 0a1.6 1.6 0 1 0 -3.2 0M1030.71 660.89a1.6 1.6 0 1 0 3.2 0a1.6 1.6 0 1 0 -3.2 0M1032.01 660.89a1.6 1.6 0 1 0 3.2 0a1.6 1.6 0 1 0 -3.2 0M1033.31 660.89a1.6 1.6 0 1 0 3.2 0a1.6 1.6 0 1 0 -3.2 0M1034.61 660.89a1.6 1.6 0 1 0 3.2 0a1.6 1.6 0 1 0 -3.2 0M1035.91 660.89a1.6 1.6 0 1 0 3.2 0a1.6 1.6 0 1 0 -3.2 0M1037.21 660.89a1.6 1.6 0 1 0 3.2 0a1.6 1.6 0 1 0 -3.2 0M1039.82 660.89a1.6 1.6 0 1 0 3.2 0a1.6 1.6 0 1 0 -3.2 0M1041.24 660.89a1.6 1.6 0 1 0 3.2 0a1.6 1.6 0 1 0 -3.2 0M1042.65 660.89a1.6 1.6 0 1 0 3.2 0a1.6 1.6 0 1 0 -3.2 0M1044.07 660.89a1.6 1.6 0 1 0 3.2 0a1.6 1.6 0 1 0 -3.2 0M1047.74 660.89a1.6 1.6 0 1 0 3.2 0a1.6 1.6 0 1 0 -3.2 0M1051.53 660.89a1.6 1.6 0 1 0 3.2 0a1.6 1.6 0 1 0 -3.2 0M1052.85 660.89a1.6 1.6 0 1 0 3.2 0a1.6 1.6 0 1 0 -3.2 0M1054.17 660.89a1.6 1.6 0 1 0 3.2 0a1.6 1.6 0 1 0 -3.2 0M1055.48 660.89a1.6 1.6 0 1 0 3.2 0a1.6 1.6 0 1 0 -3.2 0M1056.8 660.89a1.6 1.6 0 1 0 3.2 0a1.6 1.6 0 1 0 -3.2 0M1058.12 660.89a1.6 1.6 0 1 0 3.2 0a1.6 1.6 0 1 0 -3.2 0M1059.43 660.89a1.6 1.6 0 1 0 3.2 0a1.6 1.6 0 1 0 -3.2 0M1060.75 660.89a1.6 1.6 0 1 0 3.2 0a1.6 1.6 0 1 0 -3.2 0M1062.06 660.89a1.6 1.6 0 1 0 3.2 0a1.6 1.6 0 1 0 -3.2 0M1063.38 660.89a1.6 1.6 0 1 0 3.2 0a1.6 1.6 0 1 0 -3.2 0M1064.7 660.89a1.6 1.6 0 1 0 3.2 0a1.6 1.6 0 1 0 -3.2 0M1066.01 660.89a1.6 1.6 0 1 0 3.2 0a1.6 1.6 0 1 0 -3.2 0M1067.33 660.89a1.6 1.6 0 1 0 3.2 0a1.6 1.6 0 1 0 -3.2 0M1068.64 660.89a1.6 1.6 0 1 0 3.2 0a1.6 1.6 0 1 0 -3.2 0M1069.96 660.89a1.6 1.6 0 1 0 3.2 0a1.6 1.6 0 1 0 -3.2 0M1071.8 660.89a1.6 1.6 0 1 0 3.2 0a1.6 1.6 0 1 0 -3.2 0M1073.2 660.89a1.6 1.6 0 1 0 3.2 0a1.6 1.6 0 1 0 -3.2 0M1074.59 660.89a1.6 1.6 0 1 0 3.2 0a1.6 1.6 0 1 0 -3.2 0M1075.99 660.89a1.6 1.6 0 1 0 3.2 0a1.6 1.6 0 1 0 -3.2 0M1078.09 660.89a1.6 1.6 0 1 0 3.2 0a1.6 1.6 0 1 0 -3.2 0M1079.34 660.89a1.6 1.6 0 1 0 3.2 0a1.6 1.6 0 1 0 -3.2 0M1080.58 660.89a1.6 1.6 0 1 0 3.2 0a1.6 1.6 0 1 0 -3.2 0M1081.83 660.89a1.6 1.6 0 1 0 3.2 0a1.6 1.6 0 1 0 -3.2 0M1083.08 660.89a1.6 1.6 0 1 0 3.2 0a1.6 1.6 0 1 0 -3.2 0M1088.79 660.89a1.6 1.6 0 1 0 3.2 0a1.6 1.6 0 1 0 -3.2 0M1092.23 660.89a1.6 1.6 0 1 0 3.2 0a1.6 1.6 0 1 0 -3.2 0M1098.93 660.89a1.6 1.6 0 1 0 3.2 0a1.6 1.6 0 1 0 -3.2 0M1105.71 660.89a1.6 1.6 0 1 0 3.2 0a1.6 1.6 0 1 0 -3.2 0M1110.99 660.89a1.6 1.6 0 1 0 3.2 0a1.6 1.6 0 1 0 -3.2 0M1116.36 660.89a1.6 1.6 0 1 0 3.2 0a1.6 1.6 0 1 0 -3.2 0M1130.75 660.89a1.6 1.6 0 1 0 3.2 0a1.6 1.6 0 1 0 -3.2 0M1139.86 660.89a1.6 1.6 0 1 0 3.2 0a1.6 1.6 0 1 0 -3.2 0M1171.35 660.89a1.6 1.6 0 1 0 3.2 0a1.6 1.6 0 1 0 -3.2 0" fill="#bf00bf"/><polyline points="690.6,553.3 705.61,554.95 717.88,556.4 728.25,557.71 737.23,558.91 745.15,560.03 752.24,561.07 758.65,562.04 764.51,562.96 769.89,563.84 774.88,564.68 779.52,565.48 783.86,566.24 787.94,566.98 791.78,567.7 795.42,568.38 798.87,569.05 802.15,569.7 805.28,570.33 808.27,570.94 811.14,571.53 813.88,572.11 816.52,572.67 819.06,573.23 821.51,573.77 823.87,574.29 826.15,574.81 828.35,575.32 830.49,575.81 832.56,576.3 834.57,576.78 836.52,577.24 838.41,577.71 840.26,578.16 842.05,578.6 843.8,579.04 845.5,579.47 847.16,579.9 848.78,580.32 850.37,580.73 851.91,581.14 853.42,581.54 854.9,581.93 856.35,582.32 857.77,582.71 859.15,583.09 860.51,583.46 861.84,583.84 863.15,584.2 864.43,584.56 865.69,584.92 866.92,585.28 868.14,585.63 869.33,585.97 870.5,586.31 871.65,586.65 872.78,586.99 873.89,587.32 874.98,587.65 876.06,587.97 877.12,588.3 878.16,588.61 879.19,588.93 880.2,589.24 881.2,589.55 882.18,589.86 883.15,590.17 884.1,590.47 885.04,590.77 885.97,591.06 886.88,591.36 887.79,591.65 888.68,591.94 889.56,592.23 890.43,592.51 891.28,592.8 892.13,593.08 892.97,593.35 893.79,593.63 894.61,593.9 895.41,594.18 896.21,594.45 896.99,594.71 897.77,594.98 898.54,595.25 899.3,595.51 900.05,595.77 900.8,596.03 901.53,596.28 902.26,596.54 902.98,596.79 903.69,597.05 904.39,597.3 905.09,597.55 905.78,597.79 906.46,598.04 907.14,598.28 907.81,598.53 908.47,598.77 909.13,599.01 909.78,599.25 910.42,599.48 911.06,599.72 911.69,599.95 912.32,600.19 912.94,600.42 913.55,600.65 914.16,600.88 914.76,601.1 915.36,601.33 915.96,601.56 916.54,601.78 917.13,602 917.7,602.22 918.28,602.44 918.84,602.66 919.41,602.88 919.96,603.1 920.52,603.32 921.07,603.53 921.61,603.74 922.15,603.96 922.69,604.17 923.22,604.38 923.75,604.59 924.27,604.8 924.79,605.01 925.31,605.21 925.82,605.42 926.33,605.62 926.83,605.83 927.33,606.03 927.83,606.23 928.32,606.43 928.81,606.63 929.29,606.83 929.78,607.03 930.25,607.23 930.73,607.42 931.2,607.62 931.67,607.81 932.14,608.01 932.6,608.2 933.06,608.39 933.51,608.59 933.97,608.78 934.42,608.97 934.86,609.16 935.31,609.35 935.75,609.53 936.19,609.72 936.62,609.91 937.06,610.09 937.49,610.28 937.91,610.46 938.34,610.64 938.76,610.83 939.18,611.01 939.59,611.19 940.01,611.37 940.42,611.55 940.83,611.73 941.24,611.91 941.64,612.09 942.04,612.26 942.44,612.44 942.84,612.62 943.23,612.79 943.62,612.97 944.01,613.14 944.4,613.31 944.79,613.49 945.17,613.66 945.55,613.83 945.93,614 946.31,614.17 946.68,614.34 947.06,614.51 947.43,614.68 947.79,614.85 948.16,615.01 948.53,615.18 948.89,615.35 949.25,615.51 949.61,615.68 949.96,615.84 950.32,616.01 950.67,616.17 951.02,616.34 951.37,616.5 951.72,616.66 952.07,616.82 952.41,616.98 952.75,617.14 953.09,617.3 953.43,617.46 953.77,617.62 954.87,618.14 955.97,618.67 957.07,619.2 958.17,619.73 959.27,620.26 960.38,620.8 961.48,621.34 962.58,621.89 963.68,622.44 964.78,622.99 965.88,623.55 966.98,624.1 968.08,624.67 969.18,625.23 970.28,625.8 971.38,626.38 972.49,626.95 973.59,627.53 974.69,628.12 975.79,628.71 976.89,629.3 977.99,629.89 979.09,630.49 980.19,631.09 981.29,631.7 982.39,632.31 983.49,632.93 984.6,633.54 985.7,634.17 986.8,634.79 987.9,635.42 989,636.06 990.1,636.69 991.2,637.34 992.3,637.98 993.4,638.63 994.5,639.29 995.6,639.94 996.7,640.61 997.81,641.27 998.91,641.94 1000.01,642.62 1001.11,643.3 1002.21,643.98 1003.31,644.67 1004.41,645.36 1005.51,646.06 1006.61,646.76 1007.71,647.47 1008.81,648.18 1009.92,648.89 1011.02,649.61 1012.12,650.33 1013.22,651.06 1014.32,651.79 1015.42,652.53 1016.52,653.27 1017.62,654.02 1018.72,654.77 1019.82,655.53 1020.92,656.29 1022.03,657.05 1023.13,657.82 1024.23,658.6 1025.33,659.38 1026.43,660.16 1027.53,660.95 1028.63,661.75 1029.73,662.55 1030.83,663.35 1031.93,664.16 1033.03,664.98 1034.13,665.8 1035.24,666.62 1036.34,667.45 1037.44,668.29 1038.54,669.13 1039.64,669.98 1040.74,670.83 1041.84,671.69 1042.94,672.55 1044.04,673.42 1045.14,674.29 1046.24,675.17 1047.35,676.05 1048.45,676.94 1049.55,677.84 1050.65,678.74 1051.75,679.65 1052.85,680.56 1053.95,681.48 1055.05,682.4 1056.15,683.33 1057.25,684.27 1058.35,685.21 1059.46,686.16 1060.56,687.11 1061.66,688.07 1062.76,689.04 1063.86,690.01 1064.96,690.99 1066.06,691.97 1067.16,692.96 1068.26,693.96 1069.36,694.96 1070.46,695.97 1071.56,696.99 1072.67,698.01 1073.77,699.04 1074.87,700.08 1075.97,701.12 1077.07,702.17 1078.17,703.22 1079.27,704.28 1080.37,705.35 1081.47,706.42 1082.57,707.51 1083.67,708.59 1084.78,709.69 1085.88,710.79 1086.98,711.9 1088.08,713.02 1089.18,714.14 1090.28,715.27 1091.38,716.41 1092.48,717.55 1093.58,718.7 1094.68,719.86 1095.78,721.03 1096.89,722.2 1097.99,723.38 1099.09,724.57 1100.19,725.77 1101.29,726.97 1102.39,728.18 1103.49,729.4 1104.59,730.63 1105.69,731.86 1106.79,733.11 1107.89,734.36 1109,735.61 1110.1,736.88 1111.2,738.15 1112.3,739.43 1113.4,740.72 1114.5,742.02 1115.6,743.33 1116.7,744.64 1117.8,745.97 1118.9,747.3 1120,748.64 1121.1,749.98 1122.21,751.34 1123.31,752.7 1124.41,754.08 1125.51,755.46 1126.61,756.85 1127.71,758.25 1128.81,759.66 1129.91,761.08 1131.01,762.5 1132.11,763.94 1133.21,765.38 1134.32,766.84 1135.42,768.3 1136.52,769.77 1137.62,771.25 1138.72,772.74 1139.82,774.24 1140.92,775.75 1142.02,777.27 1143.12,778.8 1144.22,780.34 1145.32,781.88 1146.43,783.44 1147.53,785.01 1148.63,786.58 1149.73,788.17 1150.83,789.77 1151.93,791.38 1153.03,792.99 1154.13,794.62 1155.23,796.26 1156.33,797.91 1157.43,799.57 1158.53,801.23 1159.64,802.91 1160.74,804.6 1161.84,806.3 1162.94,808.02 1164.04,809.74 1165.14,811.47 1166.24,813.22 1167.34,814.97 1168.44,816.74 1169.54,818.51 1170.64,820.3 1171.75,822.1 1172.85,823.91" fill="none" stroke="#2e922e" stroke-width="1.4" stroke-dasharray="4.41 1.91"/><polyline points="690.6,555.19 705.61,556.97 717.88,558.55 728.25,559.98 737.23,561.28 745.15,562.49 752.24,563.62 758.65,564.68 764.51,565.68 769.89,566.63 774.88,567.54 779.52,568.4 783.86,569.24 787.94,570.04 791.78,570.81 795.42,571.56 798.87,572.28 802.15,572.98 805.28,573.66 808.27,574.33 811.14,574.97 813.88,575.6 816.52,576.21 819.06,576.81 821.51,577.39 823.87,577.97 826.15,578.53 828.35,579.08 830.49,579.61 832.56,580.14 834.57,580.66 836.52,581.17 838.41,581.67 840.26,582.16 842.05,582.64 843.8,583.12 845.5,583.58 847.16,584.05 848.78,584.5 850.37,584.95 851.91,585.39 853.42,585.82 854.9,586.25 856.35,586.67 857.77,587.09 859.15,587.5 860.51,587.91 861.84,588.31 863.15,588.71 864.43,589.1 865.69,589.49 866.92,589.87 868.14,590.25 869.33,590.63 870.5,591 871.65,591.37 872.78,591.73 873.89,592.09 874.98,592.45 876.06,592.8 877.12,593.15 878.16,593.49 879.19,593.84 880.2,594.17 881.2,594.51 882.18,594.84 883.15,595.17 884.1,595.5 885.04,595.83 885.97,596.15 886.88,596.47 887.79,596.78 888.68,597.1 889.56,597.41 890.43,597.72 891.28,598.02 892.13,598.33 892.97,598.63 893.79,598.93 894.61,599.23 895.41,599.52 896.21,599.81 896.99,600.1 897.77,600.39 898.54,600.68 899.3,600.96 900.05,601.25 900.8,601.53 901.53,601.8 902.26,602.08 902.98,602.36 903.69,602.63 904.39,602.9 905.09,603.17 905.78,603.44 906.46,603.71 907.14,603.97 907.81,604.23 908.47,604.49 909.13,604.75 909.78,605.01 910.42,605.27 911.06,605.52 911.69,605.78 912.32,606.03 912.94,606.28 913.55,606.53 914.16,606.78 914.76,607.03 915.36,607.27 915.96,607.52 916.54,607.76 917.13,608 917.7,608.24 918.28,608.48 918.84,608.72 919.41,608.95 919.96,609.19 920.52,609.42 921.07,609.65 921.61,609.89 922.15,610.12 922.69,610.35 923.22,610.57 923.75,610.8 924.27,611.03 924.79,611.25 925.31,611.48 925.82,611.7 926.33,611.92 926.83,612.14 927.33,612.36 927.83,612.58 928.32,612.8 928.81,613.01 929.29,613.23 929.78,613.45 930.25,613.66 930.73,613.87 931.2,614.08 931.67,614.3 932.14,614.51 932.6,614.72 933.06,614.92 933.51,615.13 933.97,615.34 934.42,615.54 934.86,615.75 935.31,615.95 935.75,616.16 936.19,616.36 936.62,616.56 937.06,616.76 937.49,616.96 937.91,617.16 938.34,617.36 938.76,617.56 939.18,617.76 939.59,617.95 940.01,618.15 940.42,618.34 940.83,618.54 941.24,618.73 941.64,618.92 942.04,619.11 942.44,619.31 942.84,619.5 943.23,619.69 943.62,619.88 944.01,620.06 944.4,620.25 944.79,620.44 945.17,620.63 945.55,620.81 945.93,621 946.31,621.18 946.68,621.36 947.06,621.55 947.43,621.73 947.79,621.91 948.16,622.09 948.53,622.28 948.89,622.46 949.25,622.64 949.61,622.81 949.96,622.99 950.32,623.17 950.67,623.35 951.02,623.52 951.37,623.7 951.72,623.88 952.07,624.05 952.41,624.23 952.75,624.4 953.09,624.57 953.43,624.75 953.77,624.92 954.87,625.48 955.97,626.05 957.07,626.62 958.17,627.2 959.27,627.78 960.38,628.36 961.48,628.95 962.58,629.54 963.68,630.13 964.78,630.73 965.88,631.33 966.98,631.94 968.08,632.55 969.18,633.16 970.28,633.78 971.38,634.4 972.49,635.02 973.59,635.65 974.69,636.28 975.79,636.92 976.89,637.56 977.99,638.2 979.09,638.85 980.19,639.51 981.29,640.16 982.39,640.82 983.49,641.49 984.6,642.16 985.7,642.83 986.8,643.51 987.9,644.19 989,644.88 990.1,645.57 991.2,646.26 992.3,646.96 993.4,647.67 994.5,648.37 995.6,649.09 996.7,649.8 997.81,650.53 998.91,651.25 1000.01,651.98 1001.11,652.72 1002.21,653.46 1003.31,654.2 1004.41,654.95 1005.51,655.71 1006.61,656.46 1007.71,657.23 1008.81,658 1009.92,658.77 1011.02,659.55 1012.12,660.33 1013.22,661.12 1014.32,661.91 1015.42,662.71 1016.52,663.51 1017.62,664.32 1018.72,665.13 1019.82,665.95 1020.92,666.77 1022.03,667.6 1023.13,668.44 1024.23,669.27 1025.33,670.12 1026.43,670.97 1027.53,671.82 1028.63,672.68 1029.73,673.55 1030.83,674.42 1031.93,675.3 1033.03,676.18 1034.13,677.07 1035.24,677.96 1036.34,678.86 1037.44,679.76 1038.54,680.67 1039.64,681.59 1040.74,682.51 1041.84,683.44 1042.94,684.37 1044.04,685.31 1045.14,686.26 1046.24,687.21 1047.35,688.16 1048.45,689.13 1049.55,690.1 1050.65,691.07 1051.75,692.05 1052.85,693.04 1053.95,694.03 1055.05,695.03 1056.15,696.04 1057.25,697.05 1058.35,698.07 1059.46,699.1 1060.56,700.13 1061.66,701.17 1062.76,702.21 1063.86,703.26 1064.96,704.32 1066.06,705.39 1067.16,706.46 1068.26,707.53 1069.36,708.62 1070.46,709.71 1071.56,710.81 1072.67,711.92 1073.77,713.03 1074.87,714.15 1075.97,715.27 1077.07,716.41 1078.17,717.55 1079.27,718.7 1080.37,719.85 1081.47,721.01 1082.57,722.18 1083.67,723.36 1084.78,724.55 1085.88,725.74 1086.98,726.94 1088.08,728.14 1089.18,729.36 1090.28,730.58 1091.38,731.81 1092.48,733.05 1093.58,734.3 1094.68,735.55 1095.78,736.81 1096.89,738.08 1097.99,739.36 1099.09,740.64 1100.19,741.93 1101.29,743.24 1102.39,744.55 1103.49,745.86 1104.59,747.19 1105.69,748.52 1106.79,749.87 1107.89,751.22 1109,752.58 1110.1,753.95 1111.2,755.32 1112.3,756.71 1113.4,758.1 1114.5,759.51 1115.6,760.92 1116.7,762.34 1117.8,763.77 1118.9,765.21 1120,766.66 1121.1,768.11 1122.21,769.58 1123.31,771.06 1124.41,772.54 1125.51,774.03 1126.61,775.54 1127.71,777.05 1128.81,778.57 1129.91,780.11 1131.01,781.65 1132.11,783.2 1133.21,784.76 1134.32,786.33 1135.42,787.91 1136.52,789.5 1137.62,791.1 1138.72,792.71 1139.82,794.34 1140.92,795.97 1142.02,797.61 1143.12,799.26 1144.22,800.92 1145.32,802.6 1146.43,804.28 1147.53,805.97 1148.63,807.68 1149.73,809.39 1150.83,811.12 1151.93,812.86 1153.03,814.6 1154.13,816.36 1155.23,818.13 1156.33,819.91 1157.43,821.71 1158.53,823.51 1159.64,825.32 1160.74,827.15 1161.84,828.99 1162.94,830.84 1164.04,832.7 1165.14,834.57 1166.24,836.46 1167.34,838.35 1168.44,840.26 1169.54,842.18 1170.64,844.11 1171.75,846.06 1172.85,848.01" fill="none" stroke="#3434f0" stroke-width="1.4" stroke-dasharray="4.41 1.91"/><polyline points="690.6,556.76 705.61,558.7 717.88,560.41 728.25,561.96 737.23,563.37 745.15,564.67 752.24,565.89 758.65,567.04 764.51,568.12 769.89,569.15 774.88,570.13 779.52,571.07 783.86,571.97 787.94,572.84 791.78,573.68 795.42,574.48 798.87,575.27 802.15,576.02 805.28,576.76 808.27,577.48 811.14,578.17 813.88,578.85 816.52,579.51 819.06,580.16 821.51,580.79 823.87,581.41 826.15,582.01 828.35,582.61 830.49,583.19 832.56,583.76 834.57,584.32 836.52,584.87 838.41,585.41 840.26,585.94 842.05,586.46 843.8,586.97 845.5,587.48 847.16,587.98 848.78,588.47 850.37,588.95 851.91,589.43 853.42,589.89 854.9,590.36 856.35,590.81 857.77,591.27 859.15,591.71 860.51,592.15 861.84,592.58 863.15,593.01 864.43,593.44 865.69,593.86 866.92,594.27 868.14,594.68 869.33,595.08 870.5,595.49 871.65,595.88 872.78,596.27 873.89,596.66 874.98,597.05 876.06,597.43 877.12,597.8 878.16,598.18 879.19,598.55 880.2,598.91 881.2,599.28 882.18,599.64 883.15,599.99 884.1,600.34 885.04,600.69 885.97,601.04 886.88,601.39 887.79,601.73 888.68,602.07 889.56,602.4 890.43,602.74 891.28,603.07 892.13,603.39 892.97,603.72 893.79,604.04 894.61,604.36 895.41,604.68 896.21,605 896.99,605.31 897.77,605.62 898.54,605.93 899.3,606.24 900.05,606.54 900.8,606.84 901.53,607.15 902.26,607.44 902.98,607.74 903.69,608.04 904.39,608.33 905.09,608.62 905.78,608.91 906.46,609.2 907.14,609.48 907.81,609.76 908.47,610.05 909.13,610.33 909.78,610.61 910.42,610.88 911.06,611.16 911.69,611.43 912.32,611.7 912.94,611.97 913.55,612.24 914.16,612.51 914.76,612.78 915.36,613.04 915.96,613.31 916.54,613.57 917.13,613.83 917.7,614.09 918.28,614.34 918.84,614.6 919.41,614.86 919.96,615.11 920.52,615.36 921.07,615.61 921.61,615.86 922.15,616.11 922.69,616.36 923.22,616.6 923.75,616.85 924.27,617.09 924.79,617.34 925.31,617.58 925.82,617.82 926.33,618.06 926.83,618.29 927.33,618.53 927.83,618.77 928.32,619 928.81,619.24 929.29,619.47 929.78,619.7 930.25,619.93 930.73,620.16 931.2,620.39 931.67,620.62 932.14,620.84 932.6,621.07 933.06,621.29 933.51,621.52 933.97,621.74 934.42,621.96 934.86,622.18 935.31,622.4 935.75,622.62 936.19,622.84 936.62,623.06 937.06,623.28 937.49,623.49 937.91,623.71 938.34,623.92 938.76,624.13 939.18,624.35 939.59,624.56 940.01,624.77 940.42,624.98 940.83,625.19 941.24,625.4 941.64,625.6 942.04,625.81 942.44,626.02 942.84,626.22 943.23,626.43 943.62,626.63 944.01,626.83 944.4,627.04 944.79,627.24 945.17,627.44 945.55,627.64 945.93,627.84 946.31,628.04 946.68,628.24 947.06,628.43 947.43,628.63 947.79,628.83 948.16,629.02 948.53,629.22 948.89,629.41 949.25,629.61 949.61,629.8 949.96,629.99 950.32,630.18 950.67,630.37 951.02,630.56 951.37,630.75 951.72,630.94 952.07,631.13 952.41,631.32 952.75,631.51 953.09,631.69 953.43,631.88 953.77,632.07 954.87,632.68 955.97,633.29 957.07,633.9 958.17,634.52 959.27,635.15 960.38,635.78 961.48,636.41 962.58,637.05 963.68,637.69 964.78,638.33 965.88,638.98 966.98,639.63 968.08,640.29 969.18,640.95 970.28,641.61 971.38,642.28 972.49,642.95 973.59,643.63 974.69,644.31 975.79,645 976.89,645.69 977.99,646.38 979.09,647.08 980.19,647.78 981.29,648.49 982.39,649.2 983.49,649.92 984.6,650.64 985.7,651.36 986.8,652.09 987.9,652.83 989,653.57 990.1,654.31 991.2,655.06 992.3,655.81 993.4,656.57 994.5,657.33 995.6,658.1 996.7,658.87 997.81,659.65 998.91,660.43 1000.01,661.22 1001.11,662.01 1002.21,662.8 1003.31,663.61 1004.41,664.41 1005.51,665.22 1006.61,666.04 1007.71,666.86 1008.81,667.69 1009.92,668.52 1011.02,669.36 1012.12,670.2 1013.22,671.05 1014.32,671.9 1015.42,672.76 1016.52,673.63 1017.62,674.5 1018.72,675.37 1019.82,676.25 1020.92,677.14 1022.03,678.03 1023.13,678.93 1024.23,679.83 1025.33,680.74 1026.43,681.65 1027.53,682.57 1028.63,683.5 1029.73,684.43 1030.83,685.36 1031.93,686.31 1033.03,687.26 1034.13,688.21 1035.24,689.17 1036.34,690.14 1037.44,691.11 1038.54,692.09 1039.64,693.08 1040.74,694.07 1041.84,695.07 1042.94,696.07 1044.04,697.08 1045.14,698.1 1046.24,699.12 1047.35,700.15 1048.45,701.18 1049.55,702.23 1050.65,703.28 1051.75,704.33 1052.85,705.39 1053.95,706.46 1055.05,707.54 1056.15,708.62 1057.25,709.71 1058.35,710.8 1059.46,711.91 1060.56,713.02 1061.66,714.13 1062.76,715.26 1063.86,716.39 1064.96,717.52 1066.06,718.67 1067.16,719.82 1068.26,720.98 1069.36,722.15 1070.46,723.32 1071.56,724.5 1072.67,725.69 1073.77,726.88 1074.87,728.09 1075.97,729.3 1077.07,730.52 1078.17,731.74 1079.27,732.98 1080.37,734.22 1081.47,735.47 1082.57,736.73 1083.67,737.99 1084.78,739.26 1085.88,740.55 1086.98,741.83 1088.08,743.13 1089.18,744.44 1090.28,745.75 1091.38,747.07 1092.48,748.4 1093.58,749.74 1094.68,751.09 1095.78,752.44 1096.89,753.81 1097.99,755.18 1099.09,756.56 1100.19,757.95 1101.29,759.35 1102.39,760.75 1103.49,762.17 1104.59,763.59 1105.69,765.03 1106.79,766.47 1107.89,767.92 1109,769.38 1110.1,770.85 1111.2,772.33 1112.3,773.82 1113.4,775.32 1114.5,776.82 1115.6,778.34 1116.7,779.87 1117.8,781.4 1118.9,782.95 1120,784.5 1121.1,786.07 1122.21,787.64 1123.31,789.23 1124.41,790.82 1125.51,792.43 1126.61,794.04 1127.71,795.66 1128.81,797.3 1129.91,798.94 1131.01,800.6 1132.11,802.27 1133.21,803.94 1134.32,805.63 1135.42,807.33 1136.52,809.03 1137.62,810.75 1138.72,812.48 1139.82,814.22 1140.92,815.97 1142.02,817.73 1143.12,819.51 1144.22,821.29 1145.32,823.09 1146.43,824.89 1147.53,826.71 1148.63,828.54 1149.73,830.38 1150.83,832.23 1151.93,834.1 1153.03,835.97 1154.13,837.86 1155.23,839.76 1156.33,841.67 1157.43,843.6 1158.53,845.53 1159.64,847.48 1160.74,849.44 1161.84,851.41 1162.94,853.39 1164.04,855.39 1165.14,857.4 1166.24,859.42 1167.34,861.46 1168.44,863.5 1169.54,865.56 1170.64,867.64 1171.75,869.72 1172.85,871.82" fill="none" stroke="#f03c3c" stroke-width="1.4" stroke-dasharray="4.41 1.91"/></g>
<rect x="666.6" y="537" width="530.6" height="351.2" fill="none" stroke="#333" stroke-width="0.8"/>
<path d="M666.61 888.2v1.6M675.59 888.2v1.6M683.51 888.2v1.6M690.6 888.2v3.1M737.23 888.2v1.6M764.51 888.2v1.6M783.86 888.2v1.6M798.87 888.2v1.6M811.14 888.2v1.6M821.51 888.2v1.6M830.49 888.2v1.6M838.41 888.2v1.6M845.5 888.2v3.1M892.13 888.2v1.6M919.41 888.2v1.6M938.76 888.2v1.6M953.77 888.2v1.6M966.04 888.2v1.6M976.41 888.2v1.6M985.39 888.2v1.6M993.31 888.2v1.6M1000.4 888.2v3.1M1047.03 888.2v1.6M1074.31 888.2v1.6M1093.66 888.2v1.6M1108.67 888.2v1.6M1120.94 888.2v1.6M1131.31 888.2v1.6M1140.29 888.2v1.6M1148.21 888.2v1.6M1155.3 888.2v3.1M666.6 567.7h-3.1M666.6 635h-3.1M666.6 702.3h-3.1M666.6 769.6h-3.1M666.6 836.9h-3.1" stroke="#333" stroke-width="0.64" fill="none"/>
<text transform="matrix(0.8998 0 0 1 0 0)" x="760.41 765.36" y="901.95" font-family="&quot;Liberation Sans&quot;, sans-serif" font-size="8.9" fill="#1e1e1e">10</text><text x="693.38" y="898.65" font-family="&quot;Liberation Sans&quot;, sans-serif" font-size="5.6" fill="#1e1e1e">0</text>
<text transform="matrix(0.8998 0 0 1 0 0)" x="932.64 937.59" y="901.95" font-family="&quot;Liberation Sans&quot;, sans-serif" font-size="8.9" fill="#1e1e1e">10</text><text x="848.35" y="898.65" font-family="&quot;Liberation Sans&quot;, sans-serif" font-size="5.6" fill="#1e1e1e">1</text>
<text transform="matrix(0.8998 0 0 1 0 0)" x="1104.82 1109.77" y="901.95" font-family="&quot;Liberation Sans&quot;, sans-serif" font-size="8.9" fill="#1e1e1e">10</text><text x="1003.27" y="898.65" font-family="&quot;Liberation Sans&quot;, sans-serif" font-size="5.6" fill="#1e1e1e">2</text>
<text transform="matrix(0.8998 0 0 1 0 0)" x="1276.91 1281.86" y="901.95" font-family="&quot;Liberation Sans&quot;, sans-serif" font-size="8.9" fill="#1e1e1e">10</text><text x="1158.12" y="898.65" font-family="&quot;Liberation Sans&quot;, sans-serif" font-size="5.6" fill="#1e1e1e">3</text>
<text transform="matrix(0.8998 0 0 1 0 0)" x="714.67 719.62" y="571.3" font-family="&quot;Liberation Sans&quot;, sans-serif" font-size="8.9" fill="#1e1e1e">10</text><text transform="matrix(1.1960 0 0 1 0 0)" x="545.47 548.74" y="568" font-family="&quot;Liberation Sans&quot;, sans-serif" font-size="5.6" fill="#1e1e1e">−1</text>
<text transform="matrix(0.8998 0 0 1 0 0)" x="714.6 719.55" y="638.6" font-family="&quot;Liberation Sans&quot;, sans-serif" font-size="8.9" fill="#1e1e1e">10</text><text transform="matrix(1.1960 0 0 1 0 0)" x="545.41 548.68" y="635.3" font-family="&quot;Liberation Sans&quot;, sans-serif" font-size="5.6" fill="#1e1e1e">−3</text>
<text transform="matrix(0.8998 0 0 1 0 0)" x="714.64 719.59" y="705.9" font-family="&quot;Liberation Sans&quot;, sans-serif" font-size="8.9" fill="#1e1e1e">10</text><text transform="matrix(1.1960 0 0 1 0 0)" x="545.44 548.71" y="702.6" font-family="&quot;Liberation Sans&quot;, sans-serif" font-size="5.6" fill="#1e1e1e">−5</text>
<text transform="matrix(0.8998 0 0 1 0 0)" x="714.63 719.58" y="773.2" font-family="&quot;Liberation Sans&quot;, sans-serif" font-size="8.9" fill="#1e1e1e">10</text><text transform="matrix(1.1960 0 0 1 0 0)" x="545.44 548.71" y="769.9" font-family="&quot;Liberation Sans&quot;, sans-serif" font-size="5.6" fill="#1e1e1e">−7</text>
<text transform="matrix(0.8998 0 0 1 0 0)" x="714.54 719.49" y="840.5" font-family="&quot;Liberation Sans&quot;, sans-serif" font-size="8.9" fill="#1e1e1e">10</text><text transform="matrix(1.1960 0 0 1 0 0)" x="545.37 548.64" y="837.2" font-family="&quot;Liberation Sans&quot;, sans-serif" font-size="5.6" fill="#1e1e1e">−9</text>
<text transform="matrix(1.0259 0 0 1 0 0)" x="797.18 804.47 810.28 816.28 819.69 825.41 831.18 833.94 841.38 843.66 849.05 852.49 856.26 858.78 864.68 870.87 874.27 876.69 882.47 888.32 891.38 893.89 899.74 902.8 905.21 911 916.77 920.31 922.72 928.51 934.37 936.79 943.15 948.27 954.12 956.55 962.32 965.2 971.11 974.22 976.88 983.2 988.16 995.08 998.38 1005.73 1010.69" y="532.05" font-family="&quot;Liberation Sans&quot;, sans-serif" font-size="10.29" fill="#1e1e1e">Degree Distribution in log-log Scale of BTC-OTC</text>
<text transform="matrix(1.0415 0 0 1 0 0)" x="875.48 881.47 886.23 891.18 893.96 898.65 903.4 905.83 908.29" y="914.1" font-family="&quot;Liberation Sans&quot;, sans-serif" font-size="8.58" fill="#1e1e1e">Degree, k</text>
<g transform="translate(635.1 712.9) rotate(-90)"><text transform="matrix(1.0677 0 0 1 0 0)" x="-49.57 -44.49 -41.81 -37.18 -32.54 -27.9 -23.08 -21.01 -18.95 -16.69 -13.99 -9.65 -7.51 -1.47 0.31 4.65 7.4 10.44 12.4 17.12 22.13 24.86 26.73 31.36 36.09 38.46" y="0" font-family="&quot;Liberation Sans&quot;, sans-serif" font-size="8.58" fill="#1e1e1e">Probability Distribution, </text><text x="43.13" y="0" font-family="&quot;Liberation Sans&quot;, sans-serif" font-size="8.58" font-style="italic" fill="#1e1e1e">P</text><text x="48.19" y="1.5" font-family="&quot;Liberation Sans&quot;, sans-serif" font-size="6" font-style="italic" fill="#1e1e1e">k</text></g>
<rect x="1129.6" y="541" width="63.7" height="55.6" rx="2.2" fill="#fff" fill-opacity="0.8" stroke="#d6d6d6" stroke-width="0.8"/>
<circle cx="1141.2" cy="547.9" r="1.6" fill="#bf00bf"/>
<text transform="matrix(0.9277 0 0 1 0 0)" x="1245.28 1251.07 1255.69 1261.89 1265.14 1271.83 1276.46" y="550.6" font-family="&quot;Liberation Sans&quot;, sans-serif" font-size="8.58" fill="#1e1e1e">BTC-OTC</text>
<line x1="1132.8" y1="560.3" x2="1149.2" y2="560.3" stroke="#2e922e" stroke-width="1.4" stroke-dasharray="4.41 1.91"/>
<text x="1156.02" y="562.2" font-family="&quot;Liberation Sans&quot;, sans-serif" font-size="8.58" font-style="italic" fill="#1e1e1e">γ</text>
<text transform="matrix(1.1291 0 0 1 0 0)" x="1028.26 1033.64 1035.8 1040.35 1042.51" y="562.2" font-family="&quot;Liberation Sans&quot;, sans-serif" font-size="8.58" fill="#1e1e1e">= 2.0</text>
<line x1="1132.8" y1="573.9" x2="1149.2" y2="573.9" stroke="#3434f0" stroke-width="1.4" stroke-dasharray="4.41 1.91"/>
<text x="1156.02" y="575.8" font-family="&quot;Liberation Sans&quot;, sans-serif" font-size="8.58" font-style="italic" fill="#1e1e1e">γ</text>
<text transform="matrix(1.1291 0 0 1 0 0)" x="1028.26 1033.64 1035.8 1040.35 1042.51" y="575.8" font-family="&quot;Liberation Sans&quot;, sans-serif" font-size="8.58" fill="#1e1e1e">= 2.5</text>
<line x1="1132.8" y1="586.9" x2="1149.2" y2="586.9" stroke="#f03c3c" stroke-width="1.4" stroke-dasharray="4.41 1.91"/>
<text x="1156.02" y="588.8" font-family="&quot;Liberation Sans&quot;, sans-serif" font-size="8.58" font-style="italic" fill="#1e1e1e">γ</text>
<text transform="matrix(1.1291 0 0 1 0 0)" x="1028.26 1033.64 1035.8 1040.35 1042.51" y="588.8" font-family="&quot;Liberation Sans&quot;, sans-serif" font-size="8.58" fill="#1e1e1e">= 3.0</text>
<text transform="matrix(1.1392 0 0 1 0 0)" x="68.81 77.36 88.65 97.73 104.15 121.07 130.92 142.93 150.89 160.81 171.88 178.3 195.4 201.52 211.63 219.65 227.8 234.35 246.75 260.03 267.46 273.4 285.18 298.19 304.41 316.2 329.2 335.68 352.35 367.79 384.73 391 407.95 414.5 426.91 439.39" y="455.4" font-family="&quot;Liberation Serif&quot;, serif" font-size="24.69" fill="#111">(a) Degree Distribution on BTC Alpha</text>
<text transform="matrix(1.1376 0 0 1 0 0)" x="566.63 575.12 587.73 596.82 602.98 616.97 625 632.97 643.53 654.09 664.57 676.44 686.92 699.94 706.38 723.31 733.18 745.21 753.18 763.11 774.19 780.63 797.74 803.87 814 822.03 830.19 836.75 849.17 862.47 869.91 875.85 887.66 900.68 906.91 918.71 931.73 938.23 954.92 970.39 987.34 993.62 1010.59 1017.16 1029.58 1042.07" y="453.4" font-family="&quot;Liberation Serif&quot;, serif" font-size="24.69" fill="#111">(b) Streached Degree Distribution on BTC Alpha</text>
<text transform="matrix(1.1404 0 0 1 0 0)" x="73.81 81.73 92.38 101.45 107.86 124.76 134.6 146.6 154.55 164.46 175.52 181.92 199.01 205.12 215.23 223.24 231.37 237.92 250.31 263.57 270.99 276.92 288.69 301.69 307.9 319.67 332.67 339.14 355.79 371.21 388.13 394.69 412.79 428.21" y="977.7" font-family="&quot;Liberation Serif&quot;, serif" font-size="24.69" fill="#111">(c) Degree Distribution on BTC OTC</text>
<text transform="matrix(1.1415 0 0 1 0 0)" x="569.74 578.19 590.77 599.83 605.95 619.9 627.91 635.85 646.37 656.89 667.34 679.16 689.61 702.59 708.99 725.88 735.7 747.7 755.64 765.53 776.59 782.98 800.06 806.16 816.25 824.26 832.39 838.92 851.3 864.56 871.97 877.89 889.65 902.64 908.84 920.6 933.58 940.04 956.68 972.08 988.99 995.54 1013.62 1029.03" y="975.7" font-family="&quot;Liberation Serif&quot;, serif" font-size="24.69" fill="#111">(d) Streached Degree Distribution on BTC OTC</text>
</svg>
</body></html>
